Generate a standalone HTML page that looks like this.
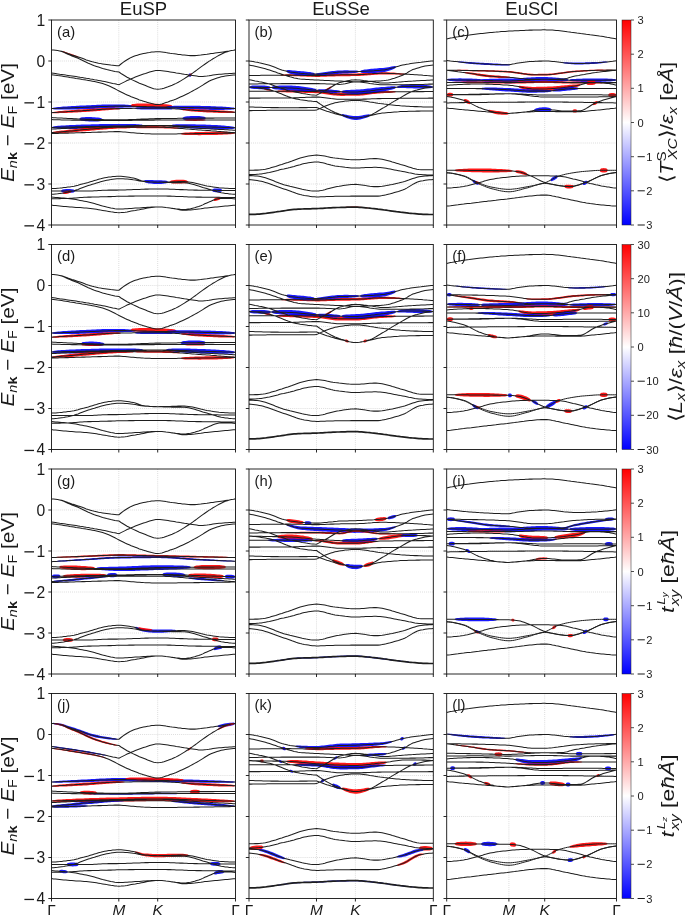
<!DOCTYPE html>
<html><head><meta charset="utf-8"><style>
html,body{margin:0;padding:0;background:#fff;}
svg{display:block;font-family:"Liberation Sans",sans-serif;will-change:transform;}
text{fill:#1a1a1a;}
</style></head><body>
<svg width="685" height="916" viewBox="0 0 685 916">
<defs>
<linearGradient id="cb" x1="0" y1="0" x2="0" y2="1"><stop offset="0" stop-color="#ff0000"/><stop offset="0.5" stop-color="#ffffff"/><stop offset="1" stop-color="#0000ff"/></linearGradient>
<filter id="bl" x="-5%" y="-50%" width="110%" height="200%"><feGaussianBlur stdDeviation="0.55"/></filter>
<clipPath id="cp00"><rect x="51.5" y="20" width="184" height="205"/></clipPath>
<clipPath id="cp01"><rect x="51.5" y="244.5" width="184" height="205"/></clipPath>
<clipPath id="cp02"><rect x="51.5" y="469" width="184" height="205"/></clipPath>
<clipPath id="cp03"><rect x="51.5" y="693.5" width="184" height="205"/></clipPath>
<clipPath id="cp10"><rect x="249" y="20" width="184.3" height="205"/></clipPath>
<clipPath id="cp11"><rect x="249" y="244.5" width="184.3" height="205"/></clipPath>
<clipPath id="cp12"><rect x="249" y="469" width="184.3" height="205"/></clipPath>
<clipPath id="cp13"><rect x="249" y="693.5" width="184.3" height="205"/></clipPath>
<clipPath id="cp20"><rect x="446.7" y="20" width="169.8" height="205"/></clipPath>
<clipPath id="cp21"><rect x="446.7" y="244.5" width="169.8" height="205"/></clipPath>
<clipPath id="cp22"><rect x="446.7" y="469" width="169.8" height="205"/></clipPath>
<clipPath id="cp23"><rect x="446.7" y="693.5" width="169.8" height="205"/></clipPath>
<g id="bands0"><path d="M51.5 49.9 L53.5 50 L55.6 50.2 L57.6 50.5 L59.7 50.9 L61.7 51.3 L63.8 52 L65.8 52.7 L67.9 53.5 L69.9 54.2 L71.9 54.9 L74 55.5 L76 56.2 L78.1 56.9 L80.1 57.6 L82.2 58.3 L84.2 59.1 L86.3 59.9 L88.3 60.6 L90.3 61.2 L92.4 61.8 L94.4 62.3 L96.5 62.7 L98.5 63.2 L100.6 63.6 L102.6 63.9 L104.7 64.2 L106.7 64.5 L108.7 64.8 L110.8 65.1 L112.8 65.3 L114.9 65.5 L116.9 65.7 L119 65.7 L121 64 L123.1 62.4 L125.1 61 L127.1 59.7 L129.2 58.5 L131.2 57.4 L133.3 56.6 L135.3 55.8 L137.4 55.2 L139.4 54.6 L141.5 54.1 L143.5 53.6 L145.5 53.2 L147.6 52.8 L149.6 52.5 L151.7 52.1 L153.7 51.9 L155.8 51.7 L157.8 51.7 L159.9 51.7 L161.9 51.9 L163.9 52.2 L166 52.6 L168 52.9 L170.1 53.3 L172.1 53.6 L174.2 53.8 L176.2 54.1 L178.3 54.4 L180.3 54.6 L182.3 54.9 L184.4 55.1 L186.4 55.3 L188.5 55.5 L190.5 55.6 L192.6 55.6 L194.6 55.6 L196.7 55.5 L198.7 55.3 L200.7 55.1 L202.8 54.8 L204.8 54.5 L206.9 54.3 L208.9 53.9 L211 53.6 L213 53.4 L215.1 53.1 L217.1 52.8 L219.1 52.5 L221.2 52.2 L223.2 51.9 L225.3 51.6 L227.3 51.3 L229.4 51 L231.4 50.6 L233.5 50.3 L235.5 49.9 M51.5 49.9 L53.5 50 L55.6 50.2 L57.6 50.6 L59.7 51 L61.7 51.4 L63.8 52.2 L65.8 53.2 L67.9 54.2 L69.9 55.1 L71.9 55.9 L74 56.7 L76 57.5 L78.1 58.3 L80.1 59.2 L82.2 60.2 L84.2 61.2 L86.3 62.2 L88.3 63.2 L90.3 64.1 L92.4 64.9 L94.4 65.7 L96.5 66.4 L98.5 67.1 L100.6 67.8 L102.6 68.4 L104.7 68.9 L106.7 69.5 L108.7 70 L110.8 70.5 L112.8 70.9 L114.9 71.4 L116.9 71.7 L119 72.1 L121 73.5 L123.1 74.8 L125.1 76 L127.1 77.2 L129.2 78.3 L131.2 79.4 L133.3 80.4 L135.3 81.3 L137.4 82.3 L139.4 83.2 L141.5 84 L143.5 84.8 L145.5 85.6 L147.6 86.5 L149.6 87.3 L151.7 88.1 L153.7 88.7 L155.8 89.1 L157.8 89.3 L159.9 89.1 L161.9 88.8 L163.9 88.2 L166 87.5 L168 86.8 L170.1 86 L172.1 85.2 L174.2 84.3 L176.2 83.4 L178.3 82.3 L180.3 81.1 L182.3 79.9 L184.4 78.6 L186.4 77.3 L188.5 76 L190.5 74.7 L192.6 73.2 L194.6 71.7 L196.7 70.2 L198.7 68.6 L200.7 67.1 L202.8 65.6 L204.8 64.2 L206.9 62.8 L208.9 61.4 L211 60.1 L213 58.8 L215.1 57.6 L217.1 56.4 L219.1 55.3 L221.2 54.2 L223.2 53.2 L225.3 52.3 L227.3 51.7 L229.4 51.1 L231.4 50.6 L233.5 50.2 L235.5 49.9 M51.5 73 L53.5 73.3 L55.6 73.6 L57.6 73.9 L59.7 74.2 L61.7 74.4 L63.8 74.7 L65.8 75.1 L67.9 75.4 L69.9 75.7 L71.9 76 L74 76.3 L76 76.6 L78.1 76.9 L80.1 77.3 L82.2 77.6 L84.2 77.9 L86.3 78.3 L88.3 78.6 L90.3 79 L92.4 79.3 L94.4 79.7 L96.5 80 L98.5 80.4 L100.6 80.8 L102.6 81.2 L104.7 81.6 L106.7 82 L108.7 82.5 L110.8 82.9 L112.8 83.4 L114.9 83.8 L116.9 84.3 L119 84.7 L121 83.6 L123.1 82.6 L125.1 81.6 L127.1 80.6 L129.2 79.7 L131.2 78.8 L133.3 77.9 L135.3 77.1 L137.4 76.3 L139.4 75.5 L141.5 74.8 L143.5 74.1 L145.5 73.5 L147.6 72.8 L149.6 72.1 L151.7 71.4 L153.7 70.9 L155.8 70.6 L157.8 70.5 L159.9 70.5 L161.9 70.7 L163.9 71 L166 71.3 L168 71.6 L170.1 71.9 L172.1 72.2 L174.2 72.5 L176.2 72.9 L178.3 73.2 L180.3 73.6 L182.3 73.9 L184.4 74.3 L186.4 74.6 L188.5 74.9 L190.5 75.2 L192.6 75.5 L194.6 75.8 L196.7 76.1 L198.7 76.4 L200.7 76.5 L202.8 76.5 L204.8 76.3 L206.9 76.1 L208.9 75.8 L211 75.4 L213 75.1 L215.1 74.8 L217.1 74.5 L219.1 74.3 L221.2 74.2 L223.2 74 L225.3 73.8 L227.3 73.7 L229.4 73.5 L231.4 73.4 L233.5 73.3 L235.5 73.2 M51.5 74.8 L53.5 75 L55.6 75.3 L57.6 75.6 L59.7 75.8 L61.7 76.1 L63.8 76.4 L65.8 76.7 L67.9 77 L69.9 77.4 L71.9 77.7 L74 78 L76 78.4 L78.1 78.7 L80.1 79 L82.2 79.4 L84.2 79.7 L86.3 80.1 L88.3 80.4 L90.3 80.8 L92.4 81.2 L94.4 81.6 L96.5 82 L98.5 82.5 L100.6 83 L102.6 83.5 L104.7 84.2 L106.7 84.9 L108.7 85.8 L110.8 86.7 L112.8 87.7 L114.9 88.8 L116.9 89.9 L119 91 L121 92 L123.1 93 L125.1 94 L127.1 94.9 L129.2 95.8 L131.2 96.7 L133.3 97.5 L135.3 98.3 L137.4 99.1 L139.4 99.9 L141.5 100.6 L143.5 101.2 L145.5 101.8 L147.6 102.4 L149.6 103 L151.7 103.6 L153.7 104.1 L155.8 104.4 L157.8 104.5 L159.9 104.3 L161.9 103.9 L163.9 103.3 L166 102.6 L168 101.9 L170.1 101.1 L172.1 100.4 L174.2 99.7 L176.2 98.9 L178.3 98 L180.3 97.1 L182.3 96.2 L184.4 95.2 L186.4 94.2 L188.5 93.2 L190.5 92.1 L192.6 91 L194.6 89.9 L196.7 88.8 L198.7 87.6 L200.7 86.4 L202.8 85.1 L204.8 83.8 L206.9 82.5 L208.9 81.3 L211 80.3 L213 79.5 L215.1 78.7 L217.1 78 L219.1 77.4 L221.2 76.8 L223.2 76.4 L225.3 76 L227.3 75.7 L229.4 75.4 L231.4 75.2 L233.5 75 L235.5 74.9 M51.5 108.6 L53.5 108.5 L55.6 108.4 L57.6 108.3 L59.7 108.3 L61.7 108.2 L63.8 108.1 L65.8 108 L67.9 107.9 L69.9 107.9 L71.9 107.8 L74 107.7 L76 107.6 L78.1 107.6 L80.1 107.5 L82.2 107.4 L84.2 107.3 L86.3 107.3 L88.3 107.2 L90.3 107.1 L92.4 107 L94.4 106.9 L96.5 106.8 L98.5 106.7 L100.6 106.6 L102.6 106.5 L104.7 106.4 L106.7 106.4 L108.7 106.3 L110.8 106.2 L112.8 106.2 L114.9 106.1 L116.9 106.1 L119 106.1 L121 106.1 L123.1 106.1 L125.1 106.1 L127.1 106.2 L129.2 106.2 L131.2 106.2 L133.3 106.3 L135.3 106.3 L137.4 106.4 L139.4 106.4 L141.5 106.5 L143.5 106.6 L145.5 106.6 L147.6 106.7 L149.6 106.7 L151.7 106.8 L153.7 106.8 L155.8 106.9 L157.8 106.9 L159.9 107 L161.9 107 L163.9 107 L166 107.1 L168 107.1 L170.1 107.2 L172.1 107.2 L174.2 107.2 L176.2 107.3 L178.3 107.3 L180.3 107.4 L182.3 107.4 L184.4 107.4 L186.4 107.5 L188.5 107.5 L190.5 107.6 L192.6 107.6 L194.6 107.7 L196.7 107.7 L198.7 107.7 L200.7 107.8 L202.8 107.8 L204.8 107.9 L206.9 107.9 L208.9 108 L211 108 L213 108 L215.1 108.1 L217.1 108.1 L219.1 108.2 L221.2 108.2 L223.2 108.3 L225.3 108.3 L227.3 108.4 L229.4 108.4 L231.4 108.5 L233.5 108.5 L235.5 108.6 M51.5 112.7 L53.5 112.5 L55.6 112.4 L57.6 112.3 L59.7 112.1 L61.7 112 L63.8 111.9 L65.8 111.8 L67.9 111.6 L69.9 111.5 L71.9 111.4 L74 111.3 L76 111.1 L78.1 111 L80.1 110.9 L82.2 110.8 L84.2 110.6 L86.3 110.5 L88.3 110.4 L90.3 110.2 L92.4 110.1 L94.4 109.9 L96.5 109.8 L98.5 109.6 L100.6 109.5 L102.6 109.3 L104.7 109.2 L106.7 109.1 L108.7 109 L110.8 108.8 L112.8 108.7 L114.9 108.7 L116.9 108.6 L119 108.6 L121 108.5 L123.1 108.5 L125.1 108.5 L127.1 108.4 L129.2 108.4 L131.2 108.4 L133.3 108.3 L135.3 108.3 L137.4 108.3 L139.4 108.3 L141.5 108.2 L143.5 108.2 L145.5 108.2 L147.6 108.2 L149.6 108.2 L151.7 108.2 L153.7 108.2 L155.8 108.2 L157.8 108.2 L159.9 108.2 L161.9 108.2 L163.9 108.3 L166 108.3 L168 108.4 L170.1 108.6 L172.1 108.7 L174.2 108.8 L176.2 109 L178.3 109.1 L180.3 109.3 L182.3 109.4 L184.4 109.6 L186.4 109.8 L188.5 109.9 L190.5 110.1 L192.6 110.2 L194.6 110.4 L196.7 110.5 L198.7 110.6 L200.7 110.7 L202.8 110.8 L204.8 110.9 L206.9 111 L208.9 111.1 L211 111.2 L213 111.3 L215.1 111.4 L217.1 111.5 L219.1 111.6 L221.2 111.7 L223.2 111.8 L225.3 111.8 L227.3 111.9 L229.4 112 L231.4 112.1 L233.5 112.2 L235.5 112.2 M51.5 117.6 L53.5 117.7 L55.6 117.8 L57.6 117.9 L59.7 118 L61.7 118.1 L63.8 118.2 L65.8 118.3 L67.9 118.4 L69.9 118.5 L71.9 118.6 L74 118.7 L76 118.8 L78.1 118.9 L80.1 119 L82.2 119 L84.2 119.1 L86.3 119.2 L88.3 119.2 L90.3 119.3 L92.4 119.3 L94.4 119.4 L96.5 119.4 L98.5 119.5 L100.6 119.6 L102.6 119.6 L104.7 119.7 L106.7 119.7 L108.7 119.7 L110.8 119.8 L112.8 119.8 L114.9 119.8 L116.9 119.8 L119 119.8 L121 119.8 L123.1 119.8 L125.1 119.8 L127.1 119.7 L129.2 119.6 L131.2 119.6 L133.3 119.5 L135.3 119.4 L137.4 119.3 L139.4 119.2 L141.5 119.1 L143.5 119.1 L145.5 119 L147.6 118.9 L149.6 118.8 L151.7 118.7 L153.7 118.7 L155.8 118.6 L157.8 118.6 L159.9 118.6 L161.9 118.5 L163.9 118.5 L166 118.5 L168 118.5 L170.1 118.4 L172.1 118.4 L174.2 118.4 L176.2 118.4 L178.3 118.3 L180.3 118.3 L182.3 118.3 L184.4 118.3 L186.4 118.3 L188.5 118.2 L190.5 118.2 L192.6 118.2 L194.6 118.2 L196.7 118.2 L198.7 118.1 L200.7 118.1 L202.8 118.1 L204.8 118.1 L206.9 118.1 L208.9 118.1 L211 118.1 L213 118.1 L215.1 118 L217.1 118 L219.1 118 L221.2 118 L223.2 118 L225.3 118 L227.3 118 L229.4 118 L231.4 118 L233.5 118 L235.5 118 M51.5 119.6 L53.5 119.7 L55.6 119.7 L57.6 119.8 L59.7 119.8 L61.7 119.9 L63.8 119.9 L65.8 120 L67.9 120 L69.9 120 L71.9 120.1 L74 120.1 L76 120.1 L78.1 120.2 L80.1 120.2 L82.2 120.2 L84.2 120.3 L86.3 120.3 L88.3 120.3 L90.3 120.3 L92.4 120.3 L94.4 120.4 L96.5 120.4 L98.5 120.4 L100.6 120.4 L102.6 120.4 L104.7 120.4 L106.7 120.4 L108.7 120.4 L110.8 120.4 L112.8 120.4 L114.9 120.4 L116.9 120.4 L119 120.4 L121 120.4 L123.1 120.4 L125.1 120.4 L127.1 120.4 L129.2 120.4 L131.2 120.4 L133.3 120.3 L135.3 120.3 L137.4 120.3 L139.4 120.2 L141.5 120.2 L143.5 120.2 L145.5 120.1 L147.6 120.1 L149.6 120.1 L151.7 120.1 L153.7 120.1 L155.8 120 L157.8 120 L159.9 120 L161.9 120 L163.9 120 L166 120 L168 120 L170.1 120 L172.1 120 L174.2 120 L176.2 120 L178.3 120 L180.3 120 L182.3 120 L184.4 120 L186.4 120 L188.5 120 L190.5 120 L192.6 120 L194.6 120 L196.7 120 L198.7 120 L200.7 120 L202.8 120 L204.8 120 L206.9 120 L208.9 120 L211 120 L213 120 L215.1 120 L217.1 120 L219.1 120 L221.2 120 L223.2 120 L225.3 120 L227.3 120 L229.4 120 L231.4 120 L233.5 120 L235.5 120 M51.5 127.4 L53.5 127.4 L55.6 127.3 L57.6 127.3 L59.7 127.2 L61.7 127.2 L63.8 127.1 L65.8 127.1 L67.9 127 L69.9 127 L71.9 126.9 L74 126.9 L76 126.8 L78.1 126.8 L80.1 126.8 L82.2 126.7 L84.2 126.7 L86.3 126.6 L88.3 126.6 L90.3 126.5 L92.4 126.5 L94.4 126.5 L96.5 126.4 L98.5 126.4 L100.6 126.3 L102.6 126.3 L104.7 126.2 L106.7 126.2 L108.7 126.2 L110.8 126.1 L112.8 126.1 L114.9 126.1 L116.9 126 L119 126 L121 125.9 L123.1 125.9 L125.1 125.9 L127.1 125.8 L129.2 125.8 L131.2 125.7 L133.3 125.7 L135.3 125.6 L137.4 125.6 L139.4 125.6 L141.5 125.5 L143.5 125.5 L145.5 125.5 L147.6 125.4 L149.6 125.4 L151.7 125.4 L153.7 125.4 L155.8 125.4 L157.8 125.4 L159.9 125.4 L161.9 125.4 L163.9 125.4 L166 125.5 L168 125.5 L170.1 125.6 L172.1 125.6 L174.2 125.7 L176.2 125.8 L178.3 125.8 L180.3 125.9 L182.3 126 L184.4 126.1 L186.4 126.1 L188.5 126.2 L190.5 126.3 L192.6 126.4 L194.6 126.5 L196.7 126.5 L198.7 126.6 L200.7 126.7 L202.8 126.7 L204.8 126.8 L206.9 126.9 L208.9 126.9 L211 127 L213 127.1 L215.1 127.1 L217.1 127.2 L219.1 127.3 L221.2 127.3 L223.2 127.4 L225.3 127.5 L227.3 127.5 L229.4 127.6 L231.4 127.7 L233.5 127.8 L235.5 127.8 M51.5 132.5 L53.5 132.4 L55.6 132.3 L57.6 132.1 L59.7 132 L61.7 131.8 L63.8 131.6 L65.8 131.5 L67.9 131.3 L69.9 131.1 L71.9 130.9 L74 130.7 L76 130.5 L78.1 130.3 L80.1 130.1 L82.2 129.8 L84.2 129.6 L86.3 129.4 L88.3 129.3 L90.3 129.1 L92.4 128.9 L94.4 128.7 L96.5 128.5 L98.5 128.4 L100.6 128.2 L102.6 128 L104.7 127.8 L106.7 127.7 L108.7 127.6 L110.8 127.4 L112.8 127.3 L114.9 127.3 L116.9 127.2 L119 127.2 L121 127.2 L123.1 127.2 L125.1 127.2 L127.1 127.2 L129.2 127.2 L131.2 127.2 L133.3 127.2 L135.3 127.2 L137.4 127.2 L139.4 127.2 L141.5 127.2 L143.5 127.2 L145.5 127.2 L147.6 127.2 L149.6 127.2 L151.7 127.2 L153.7 127.2 L155.8 127.2 L157.8 127.2 L159.9 127.2 L161.9 127.3 L163.9 127.3 L166 127.4 L168 127.5 L170.1 127.6 L172.1 127.7 L174.2 127.9 L176.2 128 L178.3 128.2 L180.3 128.4 L182.3 128.5 L184.4 128.7 L186.4 128.9 L188.5 129.1 L190.5 129.2 L192.6 129.4 L194.6 129.6 L196.7 129.7 L198.7 129.9 L200.7 130 L202.8 130.2 L204.8 130.3 L206.9 130.5 L208.9 130.6 L211 130.8 L213 130.9 L215.1 131.1 L217.1 131.3 L219.1 131.4 L221.2 131.6 L223.2 131.7 L225.3 131.9 L227.3 132.1 L229.4 132.2 L231.4 132.4 L233.5 132.6 L235.5 132.8 M51.5 129.1 L53.5 129 L55.6 128.9 L57.6 128.8 L59.7 128.7 L61.7 128.6 L63.8 128.5 L65.8 128.4 L67.9 128.3 L69.9 128.2 L71.9 128.1 L74 128 L76 127.9 L78.1 127.8 L80.1 127.7 L82.2 127.7 L84.2 127.6 L86.3 127.5 L88.3 127.4 L90.3 127.3 L92.4 127.3 L94.4 127.2 L96.5 127.1 L98.5 127 L100.6 127 L102.6 126.9 L104.7 126.8 L106.7 126.7 L108.7 126.7 L110.8 126.6 L112.8 126.5 L114.9 126.5 L116.9 126.4 L119 126.4 L121 126.3 L123.1 126.3 L125.1 126.3 L127.1 126.2 L129.2 126.2 L131.2 126.1 L133.3 126.1 L135.3 126 L137.4 126 L139.4 126 L141.5 125.9 L143.5 125.9 L145.5 125.9 L147.6 125.8 L149.6 125.8 L151.7 125.8 L153.7 125.8 L155.8 125.8 L157.8 125.8 L159.9 125.8 L161.9 125.8 L163.9 125.9 L166 126 L168 126.1 L170.1 126.2 L172.1 126.3 L174.2 126.4 L176.2 126.6 L178.3 126.7 L180.3 126.9 L182.3 127 L184.4 127.2 L186.4 127.4 L188.5 127.5 L190.5 127.7 L192.6 127.8 L194.6 128 L196.7 128.1 L198.7 128.2 L200.7 128.4 L202.8 128.5 L204.8 128.6 L206.9 128.7 L208.9 128.8 L211 128.9 L213 129.1 L215.1 129.2 L217.1 129.3 L219.1 129.4 L221.2 129.5 L223.2 129.6 L225.3 129.7 L227.3 129.8 L229.4 130 L231.4 130.1 L233.5 130.2 L235.5 130.3 M51.5 133.6 L53.5 133.5 L55.6 133.4 L57.6 133.4 L59.7 133.3 L61.7 133.3 L63.8 133.2 L65.8 133.1 L67.9 133.1 L69.9 133 L71.9 132.9 L74 132.9 L76 132.8 L78.1 132.8 L80.1 132.7 L82.2 132.6 L84.2 132.6 L86.3 132.5 L88.3 132.4 L90.3 132.4 L92.4 132.3 L94.4 132.3 L96.5 132.2 L98.5 132.1 L100.6 132.1 L102.6 132 L104.7 132 L106.7 131.9 L108.7 131.8 L110.8 131.8 L112.8 131.7 L114.9 131.6 L116.9 131.6 L119 131.5 L121 131.7 L123.1 131.9 L125.1 132.1 L127.1 132.3 L129.2 132.5 L131.2 132.7 L133.3 132.8 L135.3 133 L137.4 133.2 L139.4 133.3 L141.5 133.4 L143.5 133.6 L145.5 133.7 L147.6 133.8 L149.6 133.8 L151.7 133.9 L153.7 133.9 L155.8 134 L157.8 134 L159.9 134 L161.9 134 L163.9 134 L166 134 L168 133.9 L170.1 133.9 L172.1 133.9 L174.2 133.9 L176.2 133.9 L178.3 133.8 L180.3 133.8 L182.3 133.8 L184.4 133.8 L186.4 133.7 L188.5 133.7 L190.5 133.7 L192.6 133.7 L194.6 133.6 L196.7 133.6 L198.7 133.6 L200.7 133.5 L202.8 133.5 L204.8 133.5 L206.9 133.5 L208.9 133.4 L211 133.4 L213 133.4 L215.1 133.3 L217.1 133.3 L219.1 133.3 L221.2 133.2 L223.2 133.2 L225.3 133.2 L227.3 133.1 L229.4 133.1 L231.4 133 L233.5 133 L235.5 133 M51.5 188.5 L53.5 188.5 L55.6 188.4 L57.6 188.2 L59.7 188.1 L61.7 187.9 L63.8 187.6 L65.8 187.4 L67.9 187.1 L69.9 186.9 L71.9 186.6 L74 186.2 L76 185.7 L78.1 185.2 L80.1 184.6 L82.2 184 L84.2 183.5 L86.3 182.9 L88.3 182.4 L90.3 181.8 L92.4 181.2 L94.4 180.6 L96.5 180 L98.5 179.3 L100.6 178.8 L102.6 178.2 L104.7 177.8 L106.7 177.4 L108.7 177.1 L110.8 176.9 L112.8 176.6 L114.9 176.4 L116.9 176.3 L119 176.2 L121 176.3 L123.1 176.4 L125.1 176.7 L127.1 177 L129.2 177.3 L131.2 177.7 L133.3 178.1 L135.3 178.5 L137.4 179.2 L139.4 180 L141.5 180.7 L143.5 181.1 L145.5 181.4 L147.6 181.6 L149.6 181.8 L151.7 181.9 L153.7 182.1 L155.8 182.1 L157.8 182.2 L159.9 182.1 L161.9 182.1 L163.9 182.1 L166 182 L168 181.9 L170.1 181.9 L172.1 181.8 L174.2 181.7 L176.2 181.7 L178.3 181.6 L180.3 181.6 L182.3 181.5 L184.4 181.6 L186.4 181.7 L188.5 181.9 L190.5 182.2 L192.6 182.6 L194.6 183.1 L196.7 183.6 L198.7 184.1 L200.7 184.6 L202.8 185 L204.8 185.5 L206.9 185.9 L208.9 186.2 L211 186.6 L213 186.9 L215.1 187.2 L217.1 187.5 L219.1 187.8 L221.2 188 L223.2 188.1 L225.3 188.2 L227.3 188.3 L229.4 188.4 L231.4 188.5 L233.5 188.5 L235.5 188.5 M51.5 194.2 L53.5 194.2 L55.6 194 L57.6 193.8 L59.7 193.5 L61.7 193.2 L63.8 192.9 L65.8 192.5 L67.9 192.2 L69.9 191.8 L71.9 191.3 L74 190.8 L76 190.1 L78.1 189.4 L80.1 188.6 L82.2 187.8 L84.2 187 L86.3 186.3 L88.3 185.6 L90.3 185 L92.4 184.3 L94.4 183.7 L96.5 183 L98.5 182.4 L100.6 181.8 L102.6 181.2 L104.7 180.7 L106.7 180.3 L108.7 179.9 L110.8 179.6 L112.8 179.2 L114.9 178.9 L116.9 178.7 L119 178.7 L121 178.7 L123.1 178.8 L125.1 178.9 L127.1 179.1 L129.2 179.3 L131.2 179.5 L133.3 179.8 L135.3 180 L137.4 180.4 L139.4 180.9 L141.5 181.3 L143.5 181.5 L145.5 181.7 L147.6 181.8 L149.6 181.9 L151.7 182 L153.7 182 L155.8 182.1 L157.8 182.2 L159.9 182.2 L161.9 182.3 L163.9 182.4 L166 182.4 L168 182.5 L170.1 182.5 L172.1 182.6 L174.2 182.6 L176.2 182.6 L178.3 182.7 L180.3 182.7 L182.3 182.7 L184.4 182.8 L186.4 183 L188.5 183.3 L190.5 183.7 L192.6 184.2 L194.6 184.8 L196.7 185.4 L198.7 186.1 L200.7 186.7 L202.8 187.4 L204.8 188 L206.9 188.6 L208.9 189.2 L211 189.8 L213 190.5 L215.1 191.1 L217.1 191.8 L219.1 192.3 L221.2 192.8 L223.2 193.1 L225.3 193.4 L227.3 193.6 L229.4 193.9 L231.4 194.1 L233.5 194.2 L235.5 194.2 M51.5 191 L53.5 191 L55.6 191 L57.6 191 L59.7 191 L61.7 191 L63.8 191 L65.8 191 L67.9 191 L69.9 191 L71.9 191 L74 191 L76 191 L78.1 191 L80.1 191 L82.2 191 L84.2 191 L86.3 191 L88.3 191 L90.3 190.9 L92.4 190.9 L94.4 190.8 L96.5 190.7 L98.5 190.5 L100.6 190.4 L102.6 190.3 L104.7 190.2 L106.7 190.2 L108.7 190.1 L110.8 190.1 L112.8 190.1 L114.9 190.1 L116.9 190.1 L119 190 L121 190 L123.1 189.9 L125.1 189.9 L127.1 189.8 L129.2 189.8 L131.2 189.7 L133.3 189.6 L135.3 189.5 L137.4 189.4 L139.4 189.4 L141.5 189.3 L143.5 189.2 L145.5 189.1 L147.6 189.1 L149.6 189 L151.7 189 L153.7 188.9 L155.8 188.9 L157.8 188.9 L159.9 188.9 L161.9 189 L163.9 189 L166 189 L168 189.1 L170.1 189.2 L172.1 189.2 L174.2 189.3 L176.2 189.4 L178.3 189.5 L180.3 189.6 L182.3 189.6 L184.4 189.7 L186.4 189.8 L188.5 189.9 L190.5 190 L192.6 190 L194.6 190.1 L196.7 190.1 L198.7 190.2 L200.7 190.2 L202.8 190.2 L204.8 190.2 L206.9 190.2 L208.9 190.3 L211 190.3 L213 190.3 L215.1 190.3 L217.1 190.3 L219.1 190.4 L221.2 190.4 L223.2 190.4 L225.3 190.4 L227.3 190.4 L229.4 190.4 L231.4 190.4 L233.5 190.4 L235.5 190.4 M51.5 198.8 L53.5 198.8 L55.6 198.7 L57.6 198.7 L59.7 198.7 L61.7 198.6 L63.8 198.5 L65.8 198.5 L67.9 198.4 L69.9 198.3 L71.9 198.3 L74 198.1 L76 198 L78.1 197.8 L80.1 197.6 L82.2 197.5 L84.2 197.3 L86.3 197.2 L88.3 197.1 L90.3 197.1 L92.4 197 L94.4 197 L96.5 196.9 L98.5 196.9 L100.6 196.8 L102.6 196.8 L104.7 196.8 L106.7 196.7 L108.7 196.6 L110.8 196.6 L112.8 196.5 L114.9 196.4 L116.9 196.3 L119 196.3 L121 196.3 L123.1 196.2 L125.1 196.2 L127.1 196.2 L129.2 196.1 L131.2 196.1 L133.3 196.1 L135.3 196 L137.4 196 L139.4 196 L141.5 196 L143.5 196 L145.5 195.9 L147.6 195.9 L149.6 195.9 L151.7 195.9 L153.7 195.9 L155.8 195.9 L157.8 195.9 L159.9 195.9 L161.9 195.9 L163.9 196 L166 196 L168 196.1 L170.1 196.1 L172.1 196.2 L174.2 196.3 L176.2 196.4 L178.3 196.4 L180.3 196.5 L182.3 196.6 L184.4 196.7 L186.4 196.8 L188.5 196.9 L190.5 196.9 L192.6 197 L194.6 197 L196.7 197.1 L198.7 197.1 L200.7 197.1 L202.8 197.2 L204.8 197.2 L206.9 197.2 L208.9 197.2 L211 197.3 L213 197.3 L215.1 197.3 L217.1 197.3 L219.1 197.3 L221.2 197.4 L223.2 197.4 L225.3 197.4 L227.3 197.4 L229.4 197.4 L231.4 197.4 L233.5 197.4 L235.5 197.4 M51.5 197.1 L53.5 197.2 L55.6 197.4 L57.6 197.5 L59.7 197.7 L61.7 197.9 L63.8 198.1 L65.8 198.3 L67.9 198.5 L69.9 198.8 L71.9 199 L74 199.3 L76 199.6 L78.1 200 L80.1 200.4 L82.2 200.8 L84.2 201.2 L86.3 201.6 L88.3 202 L90.3 202.5 L92.4 203 L94.4 203.6 L96.5 204.2 L98.5 204.8 L100.6 205.4 L102.6 206 L104.7 206.5 L106.7 207 L108.7 207.4 L110.8 207.9 L112.8 208.3 L114.9 208.7 L116.9 208.9 L119 209 L121 209 L123.1 208.9 L125.1 208.8 L127.1 208.7 L129.2 208.5 L131.2 208.4 L133.3 208.2 L135.3 208.1 L137.4 208 L139.4 207.9 L141.5 207.7 L143.5 207.6 L145.5 207.5 L147.6 207.3 L149.6 207.2 L151.7 207.1 L153.7 207 L155.8 207 L157.8 207 L159.9 207 L161.9 207.1 L163.9 207.3 L166 207.5 L168 207.8 L170.1 208.1 L172.1 208.4 L174.2 208.6 L176.2 208.9 L178.3 209.1 L180.3 209.3 L182.3 209.4 L184.4 209.4 L186.4 209.3 L188.5 209 L190.5 208.7 L192.6 208.2 L194.6 207.7 L196.7 207.1 L198.7 206.5 L200.7 205.8 L202.8 204.9 L204.8 203.8 L206.9 202.9 L208.9 202.1 L211 201.2 L213 200.3 L215.1 199.5 L217.1 198.9 L219.1 198.5 L221.2 198.4 L223.2 198.4 L225.3 198.4 L227.3 198.4 L229.4 198.5 L231.4 198.6 L233.5 198.8 L235.5 199.1 M51.5 205.1 L53.5 205.4 L55.6 205.6 L57.6 205.8 L59.7 206 L61.7 206.2 L63.8 206.4 L65.8 206.6 L67.9 206.8 L69.9 207 L71.9 207.1 L74 207.2 L76 207.4 L78.1 207.5 L80.1 207.6 L82.2 207.7 L84.2 207.9 L86.3 208 L88.3 208.2 L90.3 208.4 L92.4 208.7 L94.4 209 L96.5 209.3 L98.5 209.7 L100.6 210.1 L102.6 210.4 L104.7 210.7 L106.7 211.1 L108.7 211.4 L110.8 211.8 L112.8 212.1 L114.9 212.4 L116.9 212.6 L119 212.7 L121 212.6 L123.1 212.4 L125.1 212.2 L127.1 211.9 L129.2 211.5 L131.2 211.1 L133.3 210.8 L135.3 210.5 L137.4 210.1 L139.4 209.8 L141.5 209.3 L143.5 208.9 L145.5 208.5 L147.6 208.1 L149.6 207.7 L151.7 207.4 L153.7 207.2 L155.8 207 L157.8 207 L159.9 207 L161.9 207.1 L163.9 207.3 L166 207.6 L168 207.8 L170.1 208.1 L172.1 208.3 L174.2 208.7 L176.2 209.1 L178.3 209.6 L180.3 209.9 L182.3 210.2 L184.4 210.2 L186.4 210.2 L188.5 210.1 L190.5 209.9 L192.6 209.7 L194.6 209.5 L196.7 209.2 L198.7 208.9 L200.7 208.7 L202.8 208.4 L204.8 208.1 L206.9 207.9 L208.9 207.7 L211 207.5 L213 207.3 L215.1 207.1 L217.1 206.9 L219.1 206.7 L221.2 206.5 L223.2 206.3 L225.3 206.1 L227.3 205.9 L229.4 205.7 L231.4 205.5 L233.5 205.3 L235.5 205.2" stroke="#1e1e1e" stroke-width="1.05" fill="none"/>
</g>
<g id="bands1"><path d="M249 61 L251 61.3 L253.1 61.6 L255.1 62 L257.2 62.3 L259.2 62.8 L261.3 63.2 L263.3 63.7 L265.4 64.2 L267.4 64.7 L269.5 65.3 L271.5 66 L273.6 66.7 L275.6 67.6 L277.7 68.4 L279.7 69.2 L281.8 69.9 L283.8 70.5 L285.9 71 L287.9 71.5 L290 71.9 L292 72.2 L294.1 72.5 L296.1 72.8 L298.1 73.1 L300.2 73.3 L302.2 73.4 L304.3 73.6 L306.3 73.7 L308.4 73.9 L310.4 74 L312.5 74 L314.5 74.1 L316.6 74.1 L318.6 74.1 L320.7 74 L322.7 73.8 L324.8 73.6 L326.8 73.4 L328.9 73.1 L330.9 72.9 L333 72.7 L335 72.4 L337.1 72.3 L339.1 72.1 L341.1 72 L343.2 72 L345.2 71.9 L347.3 71.9 L349.3 71.8 L351.4 71.8 L353.4 71.7 L355.5 71.7 L357.5 71.6 L359.6 71.5 L361.6 71.4 L363.7 71.3 L365.7 71.2 L367.8 71.1 L369.8 71 L371.9 70.9 L373.9 70.8 L376 70.6 L378 70.4 L380.1 70.3 L382.1 70.1 L384.2 69.9 L386.2 69.5 L388.2 69.1 L390.3 68.6 L392.3 68 L394.4 67.4 L396.4 66.8 L398.5 66.2 L400.5 65.6 L402.6 65.1 L404.6 64.7 L406.7 64.3 L408.7 64 L410.8 63.6 L412.8 63.3 L414.9 63 L416.9 62.7 L419 62.4 L421 62.2 L423.1 61.9 L425.1 61.7 L427.2 61.5 L429.2 61.3 L431.3 61.1 L433.3 61 M249 65 L251 65.4 L253.1 65.8 L255.1 66.3 L257.2 66.8 L259.2 67.3 L261.3 67.8 L263.3 68.3 L265.4 68.8 L267.4 69.4 L269.5 70 L271.5 70.7 L273.6 71.4 L275.6 72.1 L277.7 72.9 L279.7 73.6 L281.8 74.3 L283.8 75 L285.9 75.6 L287.9 76.2 L290 76.8 L292 77.3 L294.1 77.9 L296.1 78.3 L298.1 78.7 L300.2 79 L302.2 79.2 L304.3 79.3 L306.3 79.5 L308.4 79.6 L310.4 79.7 L312.5 79.8 L314.5 79.9 L316.6 80 L318.6 80.1 L320.7 80.2 L322.7 80.3 L324.8 80.4 L326.8 80.5 L328.9 80.6 L330.9 80.7 L333 80.8 L335 80.9 L337.1 81 L339.1 81 L341.1 81.1 L343.2 81.2 L345.2 81.4 L347.3 81.5 L349.3 81.6 L351.4 81.6 L353.4 81.7 L355.5 81.7 L357.5 81.7 L359.6 81.7 L361.6 81.6 L363.7 81.6 L365.7 81.5 L367.8 81.5 L369.8 81.4 L371.9 81.3 L373.9 81.2 L376 81.1 L378 81 L380.1 80.9 L382.1 80.7 L384.2 80.6 L386.2 80.3 L388.2 79.9 L390.3 79.4 L392.3 78.8 L394.4 78.2 L396.4 77.5 L398.5 76.8 L400.5 76 L402.6 75.3 L404.6 74.3 L406.7 73.1 L408.7 71.8 L410.8 70.6 L412.8 69.6 L414.9 68.9 L416.9 68.3 L419 67.7 L421 67.1 L423.1 66.6 L425.1 66.1 L427.2 65.7 L429.2 65.4 L431.3 65.2 L433.3 65.1 M249 75.6 L251 75.5 L253.1 75.5 L255.1 75.4 L257.2 75.4 L259.2 75.4 L261.3 75.3 L263.3 75.3 L265.4 75.3 L267.4 75.2 L269.5 75.2 L271.5 75.2 L273.6 75.2 L275.6 75.2 L277.7 75.2 L279.7 75.2 L281.8 75.2 L283.8 75.2 L285.9 75.1 L287.9 75.1 L290 75.1 L292 75.2 L294.1 75.2 L296.1 75.2 L298.1 75.2 L300.2 75.3 L302.2 75.3 L304.3 75.4 L306.3 75.4 L308.4 75.5 L310.4 75.5 L312.5 75.6 L314.5 75.6 L316.6 75.6 L318.6 75.6 L320.7 75.5 L322.7 75.5 L324.8 75.4 L326.8 75.3 L328.9 75.2 L330.9 75.1 L333 75.1 L335 75 L337.1 74.9 L339.1 74.9 L341.1 74.8 L343.2 74.8 L345.2 74.8 L347.3 74.8 L349.3 74.8 L351.4 74.8 L353.4 74.8 L355.5 74.7 L357.5 74.7 L359.6 74.6 L361.6 74.5 L363.7 74.4 L365.7 74.2 L367.8 74.1 L369.8 73.9 L371.9 73.8 L373.9 73.6 L376 73.5 L378 73.4 L380.1 73.3 L382.1 73.3 L384.2 73.3 L386.2 73.3 L388.2 73.4 L390.3 73.4 L392.3 73.5 L394.4 73.6 L396.4 73.7 L398.5 73.8 L400.5 73.9 L402.6 74 L404.6 74.1 L406.7 74.2 L408.7 74.3 L410.8 74.5 L412.8 74.6 L414.9 74.7 L416.9 74.8 L419 75 L421 75.1 L423.1 75.3 L425.1 75.4 L427.2 75.6 L429.2 75.7 L431.3 75.9 L433.3 76.1 M249 79.8 L251 80.1 L253.1 80.5 L255.1 80.9 L257.2 81.2 L259.2 81.7 L261.3 82.1 L263.3 82.6 L265.4 83.1 L267.4 83.6 L269.5 84.1 L271.5 84.7 L273.6 85.4 L275.6 86.2 L277.7 86.9 L279.7 87.7 L281.8 88.4 L283.8 89.1 L285.9 89.8 L287.9 90.4 L290 90.9 L292 91.3 L294.1 91.8 L296.1 92.2 L298.1 92.6 L300.2 93 L302.2 93.4 L304.3 93.7 L306.3 94.1 L308.4 94.4 L310.4 94.7 L312.5 94.9 L314.5 95.1 L316.6 95.2 L318.6 94.1 L320.7 93 L322.7 91.9 L324.8 90.8 L326.8 89.7 L328.9 88.5 L330.9 87.3 L333 86 L335 84.8 L337.1 83.7 L339.1 82.8 L341.1 82.2 L343.2 81.7 L345.2 81.2 L347.3 80.7 L349.3 80.4 L351.4 80.1 L353.4 79.9 L355.5 79.8 L357.5 79.9 L359.6 80 L361.6 80.2 L363.7 80.5 L365.7 80.7 L367.8 81 L369.8 81.2 L371.9 81.5 L373.9 81.9 L376 82.3 L378 82.6 L380.1 82.9 L382.1 83 L384.2 83 L386.2 83 L388.2 82.9 L390.3 82.7 L392.3 82.6 L394.4 82.4 L396.4 82.2 L398.5 82.1 L400.5 81.9 L402.6 81.7 L404.6 81.6 L406.7 81.4 L408.7 81.3 L410.8 81.2 L412.8 81.1 L414.9 80.9 L416.9 80.8 L419 80.7 L421 80.6 L423.1 80.5 L425.1 80.4 L427.2 80.3 L429.2 80.2 L431.3 80 L433.3 79.9 M249 84 L251 83.9 L253.1 83.9 L255.1 83.9 L257.2 83.9 L259.2 83.8 L261.3 83.8 L263.3 83.8 L265.4 83.8 L267.4 83.7 L269.5 83.7 L271.5 83.7 L273.6 83.7 L275.6 83.7 L277.7 83.7 L279.7 83.7 L281.8 83.6 L283.8 83.6 L285.9 83.6 L287.9 83.6 L290 83.6 L292 83.6 L294.1 83.6 L296.1 83.6 L298.1 83.6 L300.2 83.6 L302.2 83.6 L304.3 83.6 L306.3 83.6 L308.4 83.6 L310.4 83.6 L312.5 83.6 L314.5 83.6 L316.6 83.6 L318.6 83.6 L320.7 83.7 L322.7 83.8 L324.8 83.8 L326.8 83.9 L328.9 84 L330.9 84.1 L333 84.2 L335 84.3 L337.1 84.3 L339.1 84.4 L341.1 84.3 L343.2 84.1 L345.2 83.7 L347.3 83.2 L349.3 82.8 L351.4 82.3 L353.4 82 L355.5 81.9 L357.5 82 L359.6 82.1 L361.6 82.3 L363.7 82.5 L365.7 82.8 L367.8 83.1 L369.8 83.5 L371.9 83.8 L373.9 84.1 L376 84.3 L378 84.5 L380.1 84.7 L382.1 84.8 L384.2 84.8 L386.2 84.8 L388.2 84.8 L390.3 84.8 L392.3 84.8 L394.4 84.8 L396.4 84.8 L398.5 84.8 L400.5 84.7 L402.6 84.7 L404.6 84.7 L406.7 84.7 L408.7 84.7 L410.8 84.6 L412.8 84.6 L414.9 84.6 L416.9 84.5 L419 84.5 L421 84.4 L423.1 84.4 L425.1 84.3 L427.2 84.2 L429.2 84.1 L431.3 84.1 L433.3 84 M249 87.1 L251 87.1 L253.1 87.2 L255.1 87.2 L257.2 87.3 L259.2 87.3 L261.3 87.3 L263.3 87.4 L265.4 87.4 L267.4 87.4 L269.5 87.5 L271.5 87.5 L273.6 87.6 L275.6 87.6 L277.7 87.6 L279.7 87.7 L281.8 87.7 L283.8 87.8 L285.9 87.8 L287.9 87.9 L290 88 L292 88.1 L294.1 88.2 L296.1 88.3 L298.1 88.5 L300.2 88.7 L302.2 88.9 L304.3 89.1 L306.3 89.3 L308.4 89.5 L310.4 89.7 L312.5 89.9 L314.5 90 L316.6 90.2 L318.6 90.3 L320.7 90.5 L322.7 90.6 L324.8 90.8 L326.8 90.9 L328.9 91.1 L330.9 91.2 L333 91.3 L335 91.4 L337.1 91.5 L339.1 91.6 L341.1 91.7 L343.2 91.7 L345.2 91.8 L347.3 91.8 L349.3 91.9 L351.4 91.9 L353.4 91.9 L355.5 91.9 L357.5 91.9 L359.6 91.8 L361.6 91.7 L363.7 91.5 L365.7 91.3 L367.8 91.1 L369.8 90.9 L371.9 90.6 L373.9 90.4 L376 90.1 L378 89.8 L380.1 89.6 L382.1 89.3 L384.2 89.1 L386.2 88.8 L388.2 88.5 L390.3 88.2 L392.3 87.8 L394.4 87.5 L396.4 87.2 L398.5 86.9 L400.5 86.7 L402.6 86.5 L404.6 86.4 L406.7 86.4 L408.7 86.4 L410.8 86.4 L412.8 86.4 L414.9 86.4 L416.9 86.5 L419 86.5 L421 86.5 L423.1 86.6 L425.1 86.6 L427.2 86.7 L429.2 86.8 L431.3 86.9 L433.3 87.1 M249 91.3 L251 91.3 L253.1 91.3 L255.1 91.3 L257.2 91.3 L259.2 91.3 L261.3 91.3 L263.3 91.3 L265.4 91.3 L267.4 91.3 L269.5 91.3 L271.5 91.3 L273.6 91.3 L275.6 91.3 L277.7 91.3 L279.7 91.3 L281.8 91.3 L283.8 91.3 L285.9 91.3 L287.9 91.3 L290 91.3 L292 91.3 L294.1 91.3 L296.1 91.3 L298.1 91.3 L300.2 91.3 L302.2 91.3 L304.3 91.4 L306.3 91.4 L308.4 91.4 L310.4 91.5 L312.5 91.5 L314.5 91.6 L316.6 91.6 L318.6 91.7 L320.7 91.9 L322.7 92.2 L324.8 92.5 L326.8 92.8 L328.9 93.1 L330.9 93.4 L333 93.7 L335 93.9 L337.1 94.1 L339.1 94.2 L341.1 94.2 L343.2 94.2 L345.2 94.2 L347.3 94.2 L349.3 94.2 L351.4 94.2 L353.4 94.2 L355.5 94.2 L357.5 94.2 L359.6 94.1 L361.6 93.9 L363.7 93.7 L365.7 93.5 L367.8 93.3 L369.8 93.1 L371.9 92.8 L373.9 92.6 L376 92.4 L378 92.2 L380.1 92.1 L382.1 92 L384.2 91.9 L386.2 91.9 L388.2 91.9 L390.3 91.9 L392.3 91.9 L394.4 91.8 L396.4 91.8 L398.5 91.8 L400.5 91.8 L402.6 91.8 L404.6 91.8 L406.7 91.7 L408.7 91.7 L410.8 91.7 L412.8 91.7 L414.9 91.7 L416.9 91.6 L419 91.6 L421 91.6 L423.1 91.6 L425.1 91.5 L427.2 91.5 L429.2 91.5 L431.3 91.4 L433.3 91.4 M249 98.1 L251 98.1 L253.1 98.1 L255.1 98.1 L257.2 98.1 L259.2 98.1 L261.3 98 L263.3 98 L265.4 98 L267.4 98 L269.5 98 L271.5 98 L273.6 98 L275.6 98 L277.7 98 L279.7 98 L281.8 98 L283.8 97.9 L285.9 97.9 L287.9 97.9 L290 97.9 L292 97.9 L294.1 97.8 L296.1 97.8 L298.1 97.7 L300.2 97.6 L302.2 97.5 L304.3 97.4 L306.3 97.3 L308.4 97.3 L310.4 97.2 L312.5 97.1 L314.5 97.1 L316.6 97.1 L318.6 97.1 L320.7 97.3 L322.7 97.5 L324.8 97.7 L326.8 98 L328.9 98.3 L330.9 98.6 L333 98.8 L335 99 L337.1 99.2 L339.1 99.3 L341.1 99.3 L343.2 99.3 L345.2 99.3 L347.3 99.3 L349.3 99.3 L351.4 99.3 L353.4 99.3 L355.5 99.3 L357.5 99.3 L359.6 99.3 L361.6 99.2 L363.7 99.1 L365.7 99.1 L367.8 99 L369.8 98.9 L371.9 98.8 L373.9 98.8 L376 98.7 L378 98.6 L380.1 98.6 L382.1 98.5 L384.2 98.5 L386.2 98.5 L388.2 98.4 L390.3 98.4 L392.3 98.4 L394.4 98.4 L396.4 98.4 L398.5 98.3 L400.5 98.3 L402.6 98.3 L404.6 98.3 L406.7 98.3 L408.7 98.2 L410.8 98.2 L412.8 98.2 L414.9 98.2 L416.9 98.2 L419 98.2 L421 98.2 L423.1 98.2 L425.1 98.2 L427.2 98.2 L429.2 98.1 L431.3 98.1 L433.3 98.1 M249 87.1 L251 87.2 L253.1 87.4 L255.1 87.6 L257.2 87.8 L259.2 88.1 L261.3 88.4 L263.3 88.7 L265.4 89 L267.4 89.4 L269.5 89.8 L271.5 90.3 L273.6 90.9 L275.6 91.6 L277.7 92.4 L279.7 93.2 L281.8 94.1 L283.8 94.9 L285.9 95.8 L287.9 96.6 L290 97.3 L292 98 L294.1 98.5 L296.1 98.9 L298.1 99.3 L300.2 99.7 L302.2 100 L304.3 100.3 L306.3 100.6 L308.4 100.9 L310.4 101.1 L312.5 101.3 L314.5 101.4 L316.6 101.6 L318.6 103 L320.7 104.4 L322.7 105.8 L324.8 107.1 L326.8 108.3 L328.9 109.4 L330.9 110.5 L333 111.5 L335 112.4 L337.1 113.2 L339.1 114 L341.1 114.7 L343.2 115.3 L345.2 116 L347.3 116.6 L349.3 117.2 L351.4 117.6 L353.4 117.9 L355.5 118 L357.5 117.9 L359.6 117.7 L361.6 117.3 L363.7 116.9 L365.7 116.4 L367.8 115.8 L369.8 115.2 L371.9 114.4 L373.9 113.4 L376 112.3 L378 111 L380.1 109.8 L382.1 108.5 L384.2 107.4 L386.2 106.2 L388.2 104.9 L390.3 103.6 L392.3 102.4 L394.4 101.1 L396.4 100 L398.5 98.8 L400.5 97.6 L402.6 96.4 L404.6 95.2 L406.7 94 L408.7 93 L410.8 92 L412.8 91.2 L414.9 90.5 L416.9 90 L419 89.4 L421 88.9 L423.1 88.4 L425.1 88 L427.2 87.7 L429.2 87.4 L431.3 87.2 L433.3 87.1 M249 107 L251 107 L253.1 107.1 L255.1 107.2 L257.2 107.2 L259.2 107.3 L261.3 107.3 L263.3 107.4 L265.4 107.4 L267.4 107.5 L269.5 107.5 L271.5 107.6 L273.6 107.6 L275.6 107.6 L277.7 107.6 L279.7 107.7 L281.8 107.7 L283.8 107.7 L285.9 107.7 L287.9 107.7 L290 107.7 L292 107.7 L294.1 107.7 L296.1 107.7 L298.1 107.7 L300.2 107.6 L302.2 107.6 L304.3 107.6 L306.3 107.6 L308.4 107.5 L310.4 107.5 L312.5 107.4 L314.5 107.4 L316.6 107.4 L318.6 108.2 L320.7 109 L322.7 109.7 L324.8 110.5 L326.8 111.2 L328.9 111.8 L330.9 112.5 L333 113.1 L335 113.7 L337.1 114.2 L339.1 114.8 L341.1 115.3 L343.2 115.8 L345.2 116.3 L347.3 116.9 L349.3 117.3 L351.4 117.7 L353.4 117.9 L355.5 118 L357.5 117.9 L359.6 117.7 L361.6 117.5 L363.7 117.1 L365.7 116.7 L367.8 116.2 L369.8 115.7 L371.9 115.2 L373.9 114.7 L376 114.2 L378 113.8 L380.1 113.4 L382.1 113.1 L384.2 112.9 L386.2 112.7 L388.2 112.5 L390.3 112.4 L392.3 112.2 L394.4 112 L396.4 111.9 L398.5 111.8 L400.5 111.6 L402.6 111.5 L404.6 111.5 L406.7 111.4 L408.7 111.3 L410.8 111.3 L412.8 111.2 L414.9 111.2 L416.9 111.1 L419 111.1 L421 111 L423.1 111 L425.1 111 L427.2 110.9 L429.2 110.9 L431.3 110.9 L433.3 110.9 M249 110.6 L251 110.6 L253.1 110.5 L255.1 110.5 L257.2 110.5 L259.2 110.5 L261.3 110.4 L263.3 110.4 L265.4 110.4 L267.4 110.3 L269.5 110.3 L271.5 110.3 L273.6 110.3 L275.6 110.3 L277.7 110.2 L279.7 110.2 L281.8 110.2 L283.8 110.2 L285.9 110.2 L287.9 110.2 L290 110.2 L292 110.2 L294.1 110.2 L296.1 110.2 L298.1 110.2 L300.2 110.2 L302.2 110.2 L304.3 110.2 L306.3 110.2 L308.4 110.2 L310.4 110.2 L312.5 110.2 L314.5 110.2 L316.6 110.1 L318.6 109.1 L320.7 108.1 L322.7 107.2 L324.8 106.3 L326.8 105.5 L328.9 104.7 L330.9 104 L333 103.4 L335 102.8 L337.1 102.4 L339.1 102 L341.1 101.7 L343.2 101.4 L345.2 101.1 L347.3 100.9 L349.3 100.7 L351.4 100.5 L353.4 100.4 L355.5 100.4 L357.5 100.4 L359.6 100.5 L361.6 100.7 L363.7 100.9 L365.7 101.2 L367.8 101.5 L369.8 101.9 L371.9 102.2 L373.9 102.6 L376 102.9 L378 103.3 L380.1 103.6 L382.1 103.8 L384.2 104.1 L386.2 104.3 L388.2 104.5 L390.3 104.8 L392.3 105 L394.4 105.2 L396.4 105.4 L398.5 105.6 L400.5 105.8 L402.6 105.9 L404.6 106 L406.7 106.2 L408.7 106.3 L410.8 106.4 L412.8 106.5 L414.9 106.6 L416.9 106.6 L419 106.7 L421 106.8 L423.1 106.9 L425.1 106.9 L427.2 107 L429.2 107 L431.3 107 L433.3 107 M249 170.2 L251 170.2 L253.1 170.2 L255.1 170.1 L257.2 170.1 L259.2 170 L261.3 169.8 L263.3 169.6 L265.4 169.2 L267.4 168.7 L269.5 168.2 L271.5 167.6 L273.6 167 L275.6 166.4 L277.7 165.7 L279.7 165 L281.8 164.4 L283.8 163.7 L285.9 163.1 L287.9 162.5 L290 161.7 L292 161 L294.1 160.2 L296.1 159.4 L298.1 158.7 L300.2 158 L302.2 157.4 L304.3 156.9 L306.3 156.5 L308.4 156.1 L310.4 155.7 L312.5 155.4 L314.5 155.2 L316.6 155.1 L318.6 155.2 L320.7 155.4 L322.7 155.7 L324.8 156.1 L326.8 156.6 L328.9 157 L330.9 157.4 L333 157.8 L335 158.1 L337.1 158.3 L339.1 158.6 L341.1 158.8 L343.2 159 L345.2 159.2 L347.3 159.4 L349.3 159.6 L351.4 159.7 L353.4 159.8 L355.5 159.8 L357.5 159.8 L359.6 159.7 L361.6 159.5 L363.7 159.4 L365.7 159.2 L367.8 159 L369.8 158.8 L371.9 158.7 L373.9 158.6 L376 158.6 L378 158.7 L380.1 158.9 L382.1 159.2 L384.2 159.7 L386.2 160.2 L388.2 160.7 L390.3 161.3 L392.3 162 L394.4 162.6 L396.4 163.2 L398.5 163.8 L400.5 164.4 L402.6 164.9 L404.6 165.5 L406.7 166.2 L408.7 166.9 L410.8 167.6 L412.8 168.3 L414.9 168.8 L416.9 169.3 L419 169.6 L421 169.7 L423.1 169.7 L425.1 169.7 L427.2 169.8 L429.2 169.8 L431.3 169.8 L433.3 169.8 M249 174.6 L251 174.6 L253.1 174.5 L255.1 174.4 L257.2 174.2 L259.2 174.1 L261.3 173.9 L263.3 173.6 L265.4 173.2 L267.4 172.8 L269.5 172.4 L271.5 171.9 L273.6 171.4 L275.6 170.9 L277.7 170.4 L279.7 169.8 L281.8 169.3 L283.8 168.9 L285.9 168.4 L287.9 168 L290 167.5 L292 166.9 L294.1 166.4 L296.1 165.8 L298.1 165.2 L300.2 164.7 L302.2 164.1 L304.3 163.6 L306.3 163.2 L308.4 162.8 L310.4 162.5 L312.5 162.2 L314.5 162.1 L316.6 162 L318.6 162.1 L320.7 162.4 L322.7 162.8 L324.8 163.3 L326.8 163.9 L328.9 164.4 L330.9 165 L333 165.5 L335 165.9 L337.1 166.2 L339.1 166.5 L341.1 166.7 L343.2 167 L345.2 167.3 L347.3 167.5 L349.3 167.7 L351.4 167.9 L353.4 168 L355.5 168 L357.5 168 L359.6 167.9 L361.6 167.8 L363.7 167.8 L365.7 167.6 L367.8 167.5 L369.8 167.4 L371.9 167.4 L373.9 167.3 L376 167.3 L378 167.4 L380.1 167.5 L382.1 167.7 L384.2 168 L386.2 168.3 L388.2 168.7 L390.3 169.1 L392.3 169.5 L394.4 169.9 L396.4 170.3 L398.5 170.7 L400.5 171.1 L402.6 171.4 L404.6 171.8 L406.7 172.2 L408.7 172.7 L410.8 173.1 L412.8 173.5 L414.9 173.9 L416.9 174.2 L419 174.5 L421 174.6 L423.1 174.7 L425.1 174.8 L427.2 174.9 L429.2 174.9 L431.3 175 L433.3 175 M249 175.6 L251 175.7 L253.1 175.8 L255.1 175.9 L257.2 176.1 L259.2 176.3 L261.3 176.7 L263.3 177.2 L265.4 177.8 L267.4 178.4 L269.5 179.2 L271.5 180 L273.6 180.8 L275.6 181.7 L277.7 182.5 L279.7 183.3 L281.8 184 L283.8 184.7 L285.9 185.2 L287.9 185.7 L290 186.3 L292 186.8 L294.1 187.3 L296.1 187.8 L298.1 188.3 L300.2 188.8 L302.2 189.3 L304.3 189.7 L306.3 190.1 L308.4 190.4 L310.4 190.7 L312.5 190.9 L314.5 191 L316.6 191 L318.6 190.9 L320.7 190.6 L322.7 190.2 L324.8 189.7 L326.8 189.1 L328.9 188.5 L330.9 187.9 L333 187.4 L335 187 L337.1 186.6 L339.1 186.3 L341.1 185.9 L343.2 185.6 L345.2 185.3 L347.3 185 L349.3 184.8 L351.4 184.6 L353.4 184.5 L355.5 184.4 L357.5 184.5 L359.6 184.7 L361.6 184.9 L363.7 185.2 L365.7 185.6 L367.8 185.9 L369.8 186.2 L371.9 186.4 L373.9 186.6 L376 186.6 L378 186.6 L380.1 186.4 L382.1 186.2 L384.2 185.9 L386.2 185.6 L388.2 185.2 L390.3 184.8 L392.3 184.4 L394.4 183.9 L396.4 183.4 L398.5 183 L400.5 182.5 L402.6 182.1 L404.6 181.5 L406.7 180.8 L408.7 180.1 L410.8 179.3 L412.8 178.6 L414.9 177.9 L416.9 177.3 L419 176.8 L421 176.5 L423.1 176.3 L425.1 176.1 L427.2 175.9 L429.2 175.8 L431.3 175.7 L433.3 175.6 M249 179.6 L251 179.8 L253.1 180 L255.1 180.3 L257.2 180.6 L259.2 180.9 L261.3 181.3 L263.3 181.8 L265.4 182.4 L267.4 183 L269.5 183.7 L271.5 184.4 L273.6 185.2 L275.6 185.9 L277.7 186.7 L279.7 187.4 L281.8 188.2 L283.8 188.9 L285.9 189.6 L287.9 190.3 L290 191 L292 191.8 L294.1 192.5 L296.1 193.3 L298.1 193.9 L300.2 194.6 L302.2 195.1 L304.3 195.5 L306.3 195.8 L308.4 196.1 L310.4 196.4 L312.5 196.7 L314.5 196.8 L316.6 196.9 L318.6 196.9 L320.7 196.8 L322.7 196.7 L324.8 196.7 L326.8 196.6 L328.9 196.5 L330.9 196.4 L333 196.4 L335 196.3 L337.1 196.3 L339.1 196.3 L341.1 196.2 L343.2 196.2 L345.2 196.2 L347.3 196.2 L349.3 196.2 L351.4 196.1 L353.4 196.1 L355.5 196.1 L357.5 196.1 L359.6 196.1 L361.6 196.1 L363.7 196.1 L365.7 196.1 L367.8 196.1 L369.8 196.1 L371.9 196.1 L373.9 196.1 L376 196.1 L378 196.1 L380.1 195.9 L382.1 195.6 L384.2 195.2 L386.2 194.8 L388.2 194.3 L390.3 193.8 L392.3 193.2 L394.4 192.6 L396.4 192 L398.5 191.4 L400.5 190.7 L402.6 190 L404.6 189.2 L406.7 188.1 L408.7 186.9 L410.8 185.6 L412.8 184.4 L414.9 183.2 L416.9 182.2 L419 181.5 L421 181 L423.1 180.7 L425.1 180.3 L427.2 180 L429.2 179.8 L431.3 179.7 L433.3 179.6" stroke="#1e1e1e" stroke-width="1.05" fill="none"/>
<path d="M249 214.4 L251 214.4 L253.1 214.3 L255.1 214.3 L257.2 214.2 L259.2 214.1 L261.3 213.9 L263.3 213.7 L265.4 213.5 L267.4 213.2 L269.5 212.9 L271.5 212.6 L273.6 212.3 L275.6 212 L277.7 211.7 L279.7 211.5 L281.8 211.1 L283.8 210.8 L285.9 210.5 L287.9 210.2 L290 209.9 L292 209.6 L294.1 209.4 L296.1 209.3 L298.1 209.2 L300.2 209.1 L302.2 209 L304.3 208.9 L306.3 208.9 L308.4 208.8 L310.4 208.8 L312.5 208.7 L314.5 208.7 L316.6 208.6 L318.6 208.5 L320.7 208.4 L322.7 208.3 L324.8 208.1 L326.8 208 L328.9 207.9 L330.9 207.8 L333 207.7 L335 207.6 L337.1 207.5 L339.1 207.5 L341.1 207.4 L343.2 207.3 L345.2 207.3 L347.3 207.2 L349.3 207.2 L351.4 207.2 L353.4 207.1 L355.5 207.1 L357.5 207.2 L359.6 207.3 L361.6 207.4 L363.7 207.6 L365.7 207.8 L367.8 208 L369.8 208.2 L371.9 208.5 L373.9 208.7 L376 208.9 L378 209.2 L380.1 209.4 L382.1 209.7 L384.2 210 L386.2 210.2 L388.2 210.5 L390.3 210.8 L392.3 211.1 L394.4 211.4 L396.4 211.7 L398.5 211.9 L400.5 212.2 L402.6 212.4 L404.6 212.6 L406.7 212.8 L408.7 213.1 L410.8 213.3 L412.8 213.5 L414.9 213.7 L416.9 213.9 L419 214.1 L421 214.2 L423.1 214.3 L425.1 214.4 L427.2 214.4 L429.2 214.5 L431.3 214.5 L433.3 214.5" stroke="#1e1e1e" stroke-width="1.7" fill="none"/>
</g>
<g id="bands2"><path d="M446.7 38.9 L448.6 38.5 L450.5 38.1 L452.4 37.8 L454.2 37.4 L456.1 37.1 L458 36.8 L459.9 36.4 L461.8 36.1 L463.7 35.8 L465.6 35.5 L467.5 35.2 L469.3 35 L471.2 34.7 L473.1 34.4 L475 34.2 L476.9 34 L478.8 33.8 L480.7 33.6 L482.5 33.4 L484.4 33.2 L486.3 33 L488.2 32.8 L490.1 32.6 L492 32.4 L493.9 32.2 L495.8 32.1 L497.6 31.9 L499.5 31.8 L501.4 31.6 L503.3 31.5 L505.2 31.4 L507.1 31.2 L509 31.1 L510.8 31 L512.7 30.9 L514.6 30.8 L516.5 30.8 L518.4 30.7 L520.3 30.6 L522.2 30.5 L524.1 30.4 L525.9 30.3 L527.8 30.2 L529.7 30.1 L531.6 30.1 L533.5 30 L535.4 30 L537.3 29.9 L539.1 29.9 L541 29.9 L542.9 29.8 L544.8 29.8 L546.7 29.9 L548.6 29.9 L550.5 30 L552.4 30.1 L554.2 30.2 L556.1 30.4 L558 30.6 L559.9 30.8 L561.8 31 L563.7 31.2 L565.6 31.4 L567.4 31.7 L569.3 31.9 L571.2 32.2 L573.1 32.4 L575 32.7 L576.9 33 L578.8 33.2 L580.7 33.5 L582.5 33.7 L584.4 33.9 L586.3 34.2 L588.2 34.4 L590.1 34.7 L592 34.9 L593.9 35.2 L595.7 35.5 L597.6 35.8 L599.5 36.1 L601.4 36.3 L603.3 36.6 L605.2 36.9 L607.1 37.3 L609 37.6 L610.8 37.9 L612.7 38.2 L614.6 38.5 L616.5 38.9 M446.7 60.5 L448.6 60.7 L450.5 61 L452.4 61.2 L454.2 61.4 L456.1 61.6 L458 61.8 L459.9 62 L461.8 62.2 L463.7 62.4 L465.6 62.6 L467.5 62.7 L469.3 62.9 L471.2 63 L473.1 63.2 L475 63.3 L476.9 63.4 L478.8 63.6 L480.7 63.7 L482.5 63.8 L484.4 63.9 L486.3 64 L488.2 64.1 L490.1 64.2 L492 64.3 L493.9 64.4 L495.8 64.4 L497.6 64.5 L499.5 64.6 L501.4 64.7 L503.3 64.7 L505.2 64.8 L507.1 64.8 L509 64.8 L510.8 64.4 L512.7 64 L514.6 63.7 L516.5 63.3 L518.4 63 L520.3 62.7 L522.2 62.4 L524.1 62.2 L525.9 62 L527.8 61.8 L529.7 61.6 L531.6 61.5 L533.5 61.4 L535.4 61.3 L537.3 61.2 L539.1 61.1 L541 61.1 L542.9 61 L544.8 61 L546.7 61 L548.6 61.1 L550.5 61.2 L552.4 61.4 L554.2 61.6 L556.1 61.8 L558 62 L559.9 62.2 L561.8 62.4 L563.7 62.7 L565.6 62.9 L567.4 63 L569.3 63.2 L571.2 63.3 L573.1 63.4 L575 63.5 L576.9 63.5 L578.8 63.4 L580.7 63.4 L582.5 63.4 L584.4 63.4 L586.3 63.3 L588.2 63.2 L590.1 63.2 L592 63.1 L593.9 63 L595.7 62.9 L597.6 62.8 L599.5 62.6 L601.4 62.5 L603.3 62.3 L605.2 62.1 L607.1 62 L609 61.7 L610.8 61.5 L612.7 61.3 L614.6 61 L616.5 60.8 M446.7 70.2 L448.6 70.2 L450.5 70.2 L452.4 70.3 L454.2 70.3 L456.1 70.3 L458 70.3 L459.9 70.3 L461.8 70.4 L463.7 70.4 L465.6 70.4 L467.5 70.5 L469.3 70.5 L471.2 70.5 L473.1 70.6 L475 70.6 L476.9 70.6 L478.8 70.7 L480.7 70.7 L482.5 70.8 L484.4 70.8 L486.3 70.9 L488.2 70.9 L490.1 71 L492 71 L493.9 71.1 L495.8 71.2 L497.6 71.3 L499.5 71.4 L501.4 71.4 L503.3 71.5 L505.2 71.6 L507.1 71.7 L509 71.8 L510.8 72 L512.7 72.2 L514.6 72.4 L516.5 72.7 L518.4 73 L520.3 73.3 L522.2 73.6 L524.1 73.9 L525.9 74.1 L527.8 74.4 L529.7 74.5 L531.6 74.7 L533.5 74.7 L535.4 74.7 L537.3 74.7 L539.1 74.7 L541 74.7 L542.9 74.7 L544.8 74.7 L546.7 74.7 L548.6 74.6 L550.5 74.4 L552.4 74.3 L554.2 74.1 L556.1 73.8 L558 73.6 L559.9 73.3 L561.8 73 L563.7 72.8 L565.6 72.5 L567.4 72.2 L569.3 72 L571.2 71.8 L573.1 71.6 L575 71.4 L576.9 71.3 L578.8 71.2 L580.7 71.1 L582.5 70.9 L584.4 70.8 L586.3 70.7 L588.2 70.6 L590.1 70.5 L592 70.4 L593.9 70.4 L595.7 70.3 L597.6 70.3 L599.5 70.2 L601.4 70.2 L603.3 70.2 L605.2 70.2 L607.1 70.1 L609 70.1 L610.8 70.1 L612.7 70.1 L614.6 70.1 L616.5 70.1 M446.7 70.2 L448.6 70.5 L450.5 70.7 L452.4 70.9 L454.2 71.2 L456.1 71.4 L458 71.7 L459.9 71.9 L461.8 72.2 L463.7 72.4 L465.6 72.7 L467.5 72.9 L469.3 73.2 L471.2 73.5 L473.1 73.7 L475 74 L476.9 74.4 L478.8 74.7 L480.7 75 L482.5 75.3 L484.4 75.5 L486.3 75.8 L488.2 76 L490.1 76.2 L492 76.3 L493.9 76.5 L495.8 76.6 L497.6 76.7 L499.5 76.8 L501.4 76.9 L503.3 77 L505.2 77.1 L507.1 77.2 L509 77.3 L510.8 77.5 L512.7 77.6 L514.6 77.8 L516.5 78 L518.4 78.2 L520.3 78.4 L522.2 78.6 L524.1 78.8 L525.9 78.9 L527.8 79.1 L529.7 79.2 L531.6 79.3 L533.5 79.3 L535.4 79.3 L537.3 79.3 L539.1 79.3 L541 79.3 L542.9 79.3 L544.8 79.3 L546.7 79.3 L548.6 79.3 L550.5 79.3 L552.4 79.2 L554.2 79.2 L556.1 79.2 L558 79.1 L559.9 79.1 L561.8 79.1 L563.7 78.9 L565.6 78.6 L567.4 78.2 L569.3 77.6 L571.2 77.1 L573.1 76.5 L575 76.1 L576.9 75.7 L578.8 75.4 L580.7 75 L582.5 74.7 L584.4 74.4 L586.3 74 L588.2 73.7 L590.1 73.4 L592 73.1 L593.9 72.8 L595.7 72.6 L597.6 72.3 L599.5 72.1 L601.4 71.8 L603.3 71.6 L605.2 71.4 L607.1 71.2 L609 71 L610.8 70.8 L612.7 70.6 L614.6 70.4 L616.5 70.2 M446.7 79.7 L448.6 79.7 L450.5 79.8 L452.4 79.8 L454.2 79.8 L456.1 79.9 L458 79.9 L459.9 79.9 L461.8 80 L463.7 80 L465.6 80 L467.5 80.1 L469.3 80.1 L471.2 80.2 L473.1 80.2 L475 80.2 L476.9 80.3 L478.8 80.3 L480.7 80.3 L482.5 80.4 L484.4 80.4 L486.3 80.5 L488.2 80.5 L490.1 80.6 L492 80.6 L493.9 80.7 L495.8 80.7 L497.6 80.8 L499.5 80.8 L501.4 80.8 L503.3 80.9 L505.2 80.9 L507.1 80.9 L509 80.9 L510.8 80.9 L512.7 80.8 L514.6 80.8 L516.5 80.7 L518.4 80.6 L520.3 80.5 L522.2 80.4 L524.1 80.3 L525.9 80.1 L527.8 80 L529.7 79.9 L531.6 79.8 L533.5 79.7 L535.4 79.6 L537.3 79.5 L539.1 79.4 L541 79.3 L542.9 79.3 L544.8 79.3 L546.7 79.3 L548.6 79.3 L550.5 79.4 L552.4 79.4 L554.2 79.5 L556.1 79.6 L558 79.7 L559.9 79.8 L561.8 79.9 L563.7 79.9 L565.6 80 L567.4 80.1 L569.3 80.2 L571.2 80.2 L573.1 80.3 L575 80.3 L576.9 80.3 L578.8 80.3 L580.7 80.3 L582.5 80.3 L584.4 80.3 L586.3 80.3 L588.2 80.3 L590.1 80.3 L592 80.2 L593.9 80.2 L595.7 80.2 L597.6 80.2 L599.5 80.2 L601.4 80.2 L603.3 80.2 L605.2 80.1 L607.1 80.1 L609 80.1 L610.8 80.1 L612.7 80 L614.6 80 L616.5 79.9 M446.7 82.6 L448.6 82.5 L450.5 82.5 L452.4 82.5 L454.2 82.5 L456.1 82.4 L458 82.4 L459.9 82.4 L461.8 82.4 L463.7 82.4 L465.6 82.4 L467.5 82.3 L469.3 82.3 L471.2 82.3 L473.1 82.3 L475 82.3 L476.9 82.3 L478.8 82.3 L480.7 82.3 L482.5 82.3 L484.4 82.4 L486.3 82.4 L488.2 82.4 L490.1 82.4 L492 82.4 L493.9 82.5 L495.8 82.5 L497.6 82.5 L499.5 82.5 L501.4 82.5 L503.3 82.5 L505.2 82.6 L507.1 82.6 L509 82.6 L510.8 82.6 L512.7 82.5 L514.6 82.5 L516.5 82.5 L518.4 82.5 L520.3 82.4 L522.2 82.4 L524.1 82.3 L525.9 82.3 L527.8 82.2 L529.7 82.2 L531.6 82.1 L533.5 82.1 L535.4 82 L537.3 82 L539.1 82 L541 81.9 L542.9 81.9 L544.8 81.9 L546.7 81.9 L548.6 81.9 L550.5 82 L552.4 82 L554.2 82.1 L556.1 82.1 L558 82.2 L559.9 82.3 L561.8 82.3 L563.7 82.4 L565.6 82.4 L567.4 82.5 L569.3 82.5 L571.2 82.6 L573.1 82.6 L575 82.6 L576.9 82.6 L578.8 82.6 L580.7 82.6 L582.5 82.6 L584.4 82.6 L586.3 82.6 L588.2 82.6 L590.1 82.6 L592 82.6 L593.9 82.6 L595.7 82.6 L597.6 82.6 L599.5 82.6 L601.4 82.6 L603.3 82.6 L605.2 82.6 L607.1 82.6 L609 82.6 L610.8 82.6 L612.7 82.6 L614.6 82.6 L616.5 82.6 M446.7 85.5 L448.6 85.3 L450.5 85.1 L452.4 85 L454.2 84.8 L456.1 84.7 L458 84.6 L459.9 84.5 L461.8 84.4 L463.7 84.3 L465.6 84.2 L467.5 84.1 L469.3 84.1 L471.2 84 L473.1 84 L475 84 L476.9 84 L478.8 84 L480.7 84 L482.5 84 L484.4 84 L486.3 84.1 L488.2 84.1 L490.1 84.2 L492 84.3 L493.9 84.4 L495.8 84.4 L497.6 84.5 L499.5 84.6 L501.4 84.7 L503.3 84.9 L505.2 85 L507.1 85.1 L509 85.2 L510.8 85.4 L512.7 85.6 L514.6 85.9 L516.5 86.2 L518.4 86.6 L520.3 87 L522.2 87.4 L524.1 87.8 L525.9 88.1 L527.8 88.4 L529.7 88.6 L531.6 88.8 L533.5 88.9 L535.4 88.9 L537.3 88.9 L539.1 88.9 L541 88.9 L542.9 88.9 L544.8 88.9 L546.7 88.9 L548.6 88.8 L550.5 88.7 L552.4 88.6 L554.2 88.5 L556.1 88.3 L558 88.1 L559.9 87.9 L561.8 87.7 L563.7 87.5 L565.6 87.2 L567.4 87 L569.3 86.7 L571.2 86.5 L573.1 86.2 L575 85.9 L576.9 85.6 L578.8 85.2 L580.7 84.7 L582.5 84.2 L584.4 83.7 L586.3 83.3 L588.2 82.9 L590.1 82.8 L592 82.7 L593.9 82.7 L595.7 82.8 L597.6 82.8 L599.5 82.8 L601.4 82.9 L603.3 83 L605.2 83.2 L607.1 83.4 L609 83.6 L610.8 83.9 L612.7 84.3 L614.6 84.7 L616.5 85.2 M446.7 88.5 L448.6 88.5 L450.5 88.5 L452.4 88.5 L454.2 88.5 L456.1 88.5 L458 88.5 L459.9 88.5 L461.8 88.5 L463.7 88.5 L465.6 88.5 L467.5 88.5 L469.3 88.5 L471.2 88.5 L473.1 88.5 L475 88.5 L476.9 88.6 L478.8 88.6 L480.7 88.6 L482.5 88.6 L484.4 88.7 L486.3 88.7 L488.2 88.8 L490.1 88.9 L492 89 L493.9 89.1 L495.8 89.2 L497.6 89.2 L499.5 89.3 L501.4 89.4 L503.3 89.5 L505.2 89.6 L507.1 89.7 L509 89.8 L510.8 89.9 L512.7 90 L514.6 90.2 L516.5 90.3 L518.4 90.4 L520.3 90.5 L522.2 90.7 L524.1 90.8 L525.9 90.9 L527.8 91 L529.7 91.1 L531.6 91.1 L533.5 91.1 L535.4 91.1 L537.3 91.1 L539.1 91.1 L541 91.1 L542.9 91.1 L544.8 91.1 L546.7 91.1 L548.6 91 L550.5 90.9 L552.4 90.7 L554.2 90.5 L556.1 90.3 L558 90.1 L559.9 89.8 L561.8 89.6 L563.7 89.4 L565.6 89.1 L567.4 88.9 L569.3 88.8 L571.2 88.6 L573.1 88.6 L575 88.5 L576.9 88.5 L578.8 88.5 L580.7 88.5 L582.5 88.5 L584.4 88.5 L586.3 88.5 L588.2 88.5 L590.1 88.5 L592 88.5 L593.9 88.5 L595.7 88.5 L597.6 88.5 L599.5 88.5 L601.4 88.5 L603.3 88.5 L605.2 88.5 L607.1 88.5 L609 88.5 L610.8 88.5 L612.7 88.5 L614.6 88.5 L616.5 88.5 M446.7 94.7 L448.6 94.7 L450.5 94.7 L452.4 94.6 L454.2 94.6 L456.1 94.6 L458 94.5 L459.9 94.5 L461.8 94.5 L463.7 94.4 L465.6 94.4 L467.5 94.4 L469.3 94.3 L471.2 94.3 L473.1 94.3 L475 94.2 L476.9 94.2 L478.8 94.2 L480.7 94.1 L482.5 94.1 L484.4 94.1 L486.3 94 L488.2 94 L490.1 93.9 L492 93.9 L493.9 93.9 L495.8 93.8 L497.6 93.8 L499.5 93.8 L501.4 93.7 L503.3 93.7 L505.2 93.7 L507.1 93.7 L509 93.7 L510.8 93.7 L512.7 93.7 L514.6 93.8 L516.5 93.8 L518.4 93.9 L520.3 94 L522.2 94.1 L524.1 94.2 L525.9 94.3 L527.8 94.4 L529.7 94.5 L531.6 94.6 L533.5 94.7 L535.4 94.8 L537.3 94.9 L539.1 94.9 L541 95 L542.9 95 L544.8 95 L546.7 95 L548.6 95 L550.5 95 L552.4 95 L554.2 95 L556.1 94.9 L558 94.9 L559.9 94.9 L561.8 94.9 L563.7 94.8 L565.6 94.8 L567.4 94.8 L569.3 94.8 L571.2 94.8 L573.1 94.7 L575 94.7 L576.9 94.7 L578.8 94.7 L580.7 94.7 L582.5 94.7 L584.4 94.8 L586.3 94.8 L588.2 94.8 L590.1 94.8 L592 94.8 L593.9 94.8 L595.7 94.8 L597.6 94.8 L599.5 94.8 L601.4 94.8 L603.3 94.9 L605.2 94.9 L607.1 94.9 L609 94.9 L610.8 94.9 L612.7 95 L614.6 95 L616.5 95 M446.7 94.7 L448.6 94.7 L450.5 94.7 L452.4 94.7 L454.2 94.7 L456.1 94.7 L458 94.7 L459.9 94.7 L461.8 94.7 L463.7 94.7 L465.6 94.7 L467.5 94.7 L469.3 94.7 L471.2 94.7 L473.1 94.6 L475 94.6 L476.9 94.6 L478.8 94.6 L480.7 94.6 L482.5 94.5 L484.4 94.5 L486.3 94.4 L488.2 94.4 L490.1 94.3 L492 94.2 L493.9 94.2 L495.8 94.1 L497.6 94 L499.5 94 L501.4 93.9 L503.3 93.9 L505.2 93.8 L507.1 93.8 L509 93.8 L510.8 93.8 L512.7 93.9 L514.6 94 L516.5 94.2 L518.4 94.4 L520.3 94.6 L522.2 94.8 L524.1 95 L525.9 95.3 L527.8 95.5 L529.7 95.8 L531.6 96 L533.5 96.3 L535.4 96.5 L537.3 96.6 L539.1 96.8 L541 96.9 L542.9 97 L544.8 97 L546.7 97 L548.6 97 L550.5 97 L552.4 97 L554.2 97 L556.1 97 L558 97 L559.9 97 L561.8 97 L563.7 97 L565.6 97 L567.4 97 L569.3 97 L571.2 97 L573.1 97 L575 97 L576.9 97 L578.8 97 L580.7 97 L582.5 97 L584.4 97 L586.3 97 L588.2 96.9 L590.1 96.9 L592 96.9 L593.9 96.9 L595.7 96.9 L597.6 96.9 L599.5 96.8 L601.4 96.8 L603.3 96.8 L605.2 96.8 L607.1 96.7 L609 96.7 L610.8 96.7 L612.7 96.6 L614.6 96.6 L616.5 96.6 M446.7 96.6 L448.6 96.8 L450.5 97.1 L452.4 97.4 L454.2 97.8 L456.1 98.2 L458 98.7 L459.9 99.2 L461.8 99.7 L463.7 100.3 L465.6 100.9 L467.5 101.7 L469.3 102.6 L471.2 103.6 L473.1 104.6 L475 105.6 L476.9 106.6 L478.8 107.4 L480.7 108.1 L482.5 108.8 L484.4 109.4 L486.3 110 L488.2 110.6 L490.1 111.2 L492 111.6 L493.9 112.1 L495.8 112.4 L497.6 112.7 L499.5 112.9 L501.4 113.1 L503.3 113.2 L505.2 113.4 L507.1 113.5 L509 113.5 L510.8 113.3 L512.7 113.2 L514.6 113 L516.5 112.9 L518.4 112.7 L520.3 112.5 L522.2 112.3 L524.1 112.1 L525.9 111.9 L527.8 111.6 L529.7 111.3 L531.6 110.9 L533.5 110.6 L535.4 110.3 L537.3 110 L539.1 109.7 L541 109.5 L542.9 109.4 L544.8 109.4 L546.7 109.4 L548.6 109.5 L550.5 109.7 L552.4 109.9 L554.2 110.1 L556.1 110.3 L558 110.5 L559.9 110.7 L561.8 110.9 L563.7 111 L565.6 111 L567.4 111 L569.3 111 L571.2 111 L573.1 111 L575 110.9 L576.9 110.9 L578.8 110.8 L580.7 110.7 L582.5 110.3 L584.4 109.5 L586.3 108.4 L588.2 107.2 L590.1 106 L592 104.8 L593.9 103.7 L595.7 102.9 L597.6 102.1 L599.5 101.4 L601.4 100.8 L603.3 100.1 L605.2 99.5 L607.1 98.9 L609 98.4 L610.8 97.9 L612.7 97.4 L614.6 97 L616.5 96.6 M446.7 102.9 L448.6 102.9 L450.5 102.8 L452.4 102.8 L454.2 102.7 L456.1 102.7 L458 102.7 L459.9 102.6 L461.8 102.6 L463.7 102.6 L465.6 102.5 L467.5 102.5 L469.3 102.5 L471.2 102.5 L473.1 102.4 L475 102.4 L476.9 102.4 L478.8 102.4 L480.7 102.4 L482.5 102.4 L484.4 102.4 L486.3 102.4 L488.2 102.3 L490.1 102.3 L492 102.3 L493.9 102.3 L495.8 102.3 L497.6 102.3 L499.5 102.3 L501.4 102.3 L503.3 102.3 L505.2 102.3 L507.1 102.3 L509 102.2 L510.8 102.2 L512.7 102.2 L514.6 102.2 L516.5 102.2 L518.4 102.1 L520.3 102.1 L522.2 102.1 L524.1 102.1 L525.9 102 L527.8 102 L529.7 102 L531.6 102 L533.5 101.9 L535.4 101.9 L537.3 101.9 L539.1 101.9 L541 101.9 L542.9 101.9 L544.8 101.9 L546.7 101.9 L548.6 101.9 L550.5 101.9 L552.4 101.9 L554.2 101.9 L556.1 102 L558 102 L559.9 102 L561.8 102 L563.7 102.1 L565.6 102.1 L567.4 102.1 L569.3 102.2 L571.2 102.2 L573.1 102.2 L575 102.2 L576.9 102.3 L578.8 102.3 L580.7 102.3 L582.5 102.3 L584.4 102.4 L586.3 102.4 L588.2 102.4 L590.1 102.5 L592 102.5 L593.9 102.5 L595.7 102.5 L597.6 102.6 L599.5 102.6 L601.4 102.6 L603.3 102.7 L605.2 102.7 L607.1 102.7 L609 102.8 L610.8 102.8 L612.7 102.8 L614.6 102.9 L616.5 102.9 M446.7 107.9 L448.6 108.2 L450.5 108.4 L452.4 108.6 L454.2 108.8 L456.1 109 L458 109.2 L459.9 109.4 L461.8 109.6 L463.7 109.7 L465.6 109.9 L467.5 110.1 L469.3 110.3 L471.2 110.5 L473.1 110.6 L475 110.8 L476.9 111 L478.8 111.2 L480.7 111.3 L482.5 111.5 L484.4 111.6 L486.3 111.8 L488.2 111.9 L490.1 112.1 L492 112.3 L493.9 112.4 L495.8 112.5 L497.6 112.7 L499.5 112.8 L501.4 113 L503.3 113.1 L505.2 113.2 L507.1 113.4 L509 113.5 L510.8 113.3 L512.7 113.1 L514.6 113 L516.5 112.8 L518.4 112.6 L520.3 112.5 L522.2 112.3 L524.1 112.2 L525.9 112.1 L527.8 112 L529.7 111.9 L531.6 111.8 L533.5 111.7 L535.4 111.6 L537.3 111.5 L539.1 111.5 L541 111.5 L542.9 111.4 L544.8 111.4 L546.7 111.4 L548.6 111.4 L550.5 111.5 L552.4 111.5 L554.2 111.5 L556.1 111.6 L558 111.6 L559.9 111.6 L561.8 111.7 L563.7 111.7 L565.6 111.7 L567.4 111.8 L569.3 111.8 L571.2 111.8 L573.1 111.8 L575 111.8 L576.9 111.8 L578.8 111.8 L580.7 111.7 L582.5 111.5 L584.4 111.4 L586.3 111.2 L588.2 111 L590.1 110.8 L592 110.6 L593.9 110.4 L595.7 110.2 L597.6 110.1 L599.5 109.9 L601.4 109.7 L603.3 109.5 L605.2 109.3 L607.1 109.1 L609 108.9 L610.8 108.6 L612.7 108.4 L614.6 108.2 L616.5 107.9 M446.7 170.3 L448.6 170.3 L450.5 170.3 L452.4 170.3 L454.2 170.3 L456.1 170.3 L458 170.3 L459.9 170.3 L461.8 170.3 L463.7 170.3 L465.6 170.3 L467.5 170.3 L469.3 170.4 L471.2 170.4 L473.1 170.4 L475 170.4 L476.9 170.4 L478.8 170.4 L480.7 170.4 L482.5 170.4 L484.4 170.4 L486.3 170.5 L488.2 170.5 L490.1 170.5 L492 170.5 L493.9 170.6 L495.8 170.6 L497.6 170.6 L499.5 170.7 L501.4 170.7 L503.3 170.7 L505.2 170.8 L507.1 170.8 L509 170.8 L510.8 170.9 L512.7 171 L514.6 171.2 L516.5 171.5 L518.4 171.8 L520.3 172.1 L522.2 172.7 L524.1 173.3 L525.9 174 L527.8 174.7 L529.7 175.4 L531.6 176.2 L533.5 177.1 L535.4 178.1 L537.3 179.1 L539.1 180.1 L541 180.9 L542.9 181.7 L544.8 182.4 L546.7 182.9 L548.6 183.4 L550.5 183.9 L552.4 184.3 L554.2 184.7 L556.1 185.1 L558 185.4 L559.9 185.7 L561.8 185.9 L563.7 186.2 L565.6 186.4 L567.4 186.6 L569.3 186.7 L571.2 186.6 L573.1 186.4 L575 186 L576.9 185.5 L578.8 185 L580.7 184.3 L582.5 183.7 L584.4 183 L586.3 182.4 L588.2 181.7 L590.1 180.8 L592 179.9 L593.9 178.9 L595.7 178 L597.6 177.1 L599.5 176.2 L601.4 175.5 L603.3 175 L605.2 174.5 L607.1 174.1 L609 173.6 L610.8 173.3 L612.7 173 L614.6 172.7 L616.5 172.5 M446.7 188.1 L448.6 188 L450.5 187.9 L452.4 187.8 L454.2 187.6 L456.1 187.4 L458 187.2 L459.9 187 L461.8 186.7 L463.7 186.5 L465.6 186.1 L467.5 185.8 L469.3 185.3 L471.2 184.8 L473.1 184.3 L475 183.8 L476.9 183.3 L478.8 182.8 L480.7 182.2 L482.5 181.7 L484.4 181.1 L486.3 180.6 L488.2 180 L490.1 179.6 L492 179.2 L493.9 178.9 L495.8 178.6 L497.6 178.3 L499.5 178.1 L501.4 177.8 L503.3 177.6 L505.2 177.4 L507.1 177.2 L509 177 L510.8 176.8 L512.7 176.6 L514.6 176.4 L516.5 176.3 L518.4 176.2 L520.3 176.1 L522.2 176 L524.1 176 L525.9 175.9 L527.8 175.8 L529.7 175.8 L531.6 175.8 L533.5 175.8 L535.4 175.8 L537.3 175.8 L539.1 175.8 L541 175.8 L542.9 175.8 L544.8 175.8 L546.7 175.8 L548.6 175.8 L550.5 175.9 L552.4 175.9 L554.2 176 L556.1 176.1 L558 176.1 L559.9 176.2 L561.8 176.4 L563.7 176.7 L565.6 177 L567.4 177.5 L569.3 177.9 L571.2 178.4 L573.1 178.9 L575 179.3 L576.9 179.8 L578.8 180.3 L580.7 180.8 L582.5 181.3 L584.4 181.9 L586.3 182.4 L588.2 182.9 L590.1 183.4 L592 183.8 L593.9 184.2 L595.7 184.7 L597.6 185.1 L599.5 185.5 L601.4 185.9 L603.3 186.2 L605.2 186.6 L607.1 186.9 L609 187.1 L610.8 187.4 L612.7 187.7 L614.6 187.9 L616.5 188.1 M446.7 206.1 L448.6 205.9 L450.5 205.7 L452.4 205.4 L454.2 205.2 L456.1 205 L458 204.8 L459.9 204.5 L461.8 204.3 L463.7 204.1 L465.6 203.8 L467.5 203.6 L469.3 203.4 L471.2 203.2 L473.1 202.9 L475 202.7 L476.9 202.5 L478.8 202.3 L480.7 202 L482.5 201.8 L484.4 201.6 L486.3 201.4 L488.2 201.1 L490.1 200.9 L492 200.7 L493.9 200.5 L495.8 200.3 L497.6 200 L499.5 199.8 L501.4 199.6 L503.3 199.4 L505.2 199.2 L507.1 199 L509 198.7 L510.8 198.5 L512.7 198.3 L514.6 198.1 L516.5 197.8 L518.4 197.6 L520.3 197.3 L522.2 197 L524.1 196.8 L525.9 196.5 L527.8 196.3 L529.7 196.1 L531.6 195.9 L533.5 195.7 L535.4 195.5 L537.3 195.3 L539.1 195.2 L541 195.1 L542.9 195.1 L544.8 195.1 L546.7 195.1 L548.6 195.3 L550.5 195.5 L552.4 195.9 L554.2 196.2 L556.1 196.7 L558 197.1 L559.9 197.5 L561.8 198 L563.7 198.4 L565.6 198.8 L567.4 199.1 L569.3 199.5 L571.2 199.9 L573.1 200.3 L575 200.7 L576.9 201.1 L578.8 201.5 L580.7 201.9 L582.5 202.3 L584.4 202.6 L586.3 203 L588.2 203.3 L590.1 203.6 L592 203.8 L593.9 204 L595.7 204.3 L597.6 204.5 L599.5 204.7 L601.4 204.9 L603.3 205.1 L605.2 205.3 L607.1 205.5 L609 205.6 L610.8 205.8 L612.7 205.9 L614.6 206 L616.5 206.1" stroke="#1e1e1e" stroke-width="1.05" fill="none"/>
<path d="M446.7 172.8 L448.6 172.9 L450.5 173.1 L452.4 173.3 L454.2 173.6 L456.1 174 L458 174.4 L459.9 174.8 L461.8 175.3 L463.7 175.8 L465.6 176.4 L467.5 177.3 L469.3 178.2 L471.2 179.3 L473.1 180.3 L475 181.3 L476.9 182.2 L478.8 182.9 L480.7 183.7 L482.5 184.4 L484.4 185.1 L486.3 185.7 L488.2 186.3 L490.1 186.8 L492 187.2 L493.9 187.5 L495.8 187.9 L497.6 188.2 L499.5 188.5 L501.4 188.8 L503.3 189 L505.2 189.2 L507.1 189.3 L509 189.3 L510.8 189.3 L512.7 189.1 L514.6 188.9 L516.5 188.7 L518.4 188.4 L520.3 188 L522.2 187.7 L524.1 187.3 L525.9 187 L527.8 186.6 L529.7 186.3 L531.6 185.9 L533.5 185.6 L535.4 185.2 L537.3 184.8 L539.1 184.3 L541 183.8 L542.9 183.3 L544.8 182.7 L546.7 182.1 L548.6 181.2 L550.5 180.2 L552.4 179.2 L554.2 178.2 L556.1 177.2 L558 176.4 L559.9 175.7 L561.8 175.2 L563.7 174.7 L565.6 174.2 L567.4 173.8 L569.3 173.5 L571.2 173.1 L573.1 172.8 L575 172.5 L576.9 172.2 L578.8 172 L580.7 171.7 L582.5 171.5 L584.4 171.4 L586.3 171.2 L588.2 171.1 L590.1 170.9 L592 170.8 L593.9 170.6 L595.7 170.5 L597.6 170.4 L599.5 170.4 L601.4 170.3 L603.3 170.3 L605.2 170.3 L607.1 170.3 L609 170.3 L610.8 170.3 L612.7 170.3 L614.6 170.3 L616.5 170.3" stroke="#1e1e1e" stroke-width="1.0" fill="none"/>
<path d="M446.7 172.8 L448.6 172.9 L450.5 173.1 L452.4 173.4 L454.2 173.8 L456.1 174.2 L458 174.6 L459.9 175.1 L461.8 175.7 L463.7 176.2 L465.6 176.9 L467.5 177.8 L469.3 178.8 L471.2 179.9 L473.1 181 L475 182.1 L476.9 183 L478.8 183.8 L480.7 184.7 L482.5 185.5 L484.4 186.2 L486.3 187 L488.2 187.6 L490.1 188.3 L492 188.8 L493.9 189.2 L495.8 189.7 L497.6 190.2 L499.5 190.6 L501.4 191 L503.3 191.3 L505.2 191.6 L507.1 191.7 L509 191.8 L510.8 191.7 L512.7 191.5 L514.6 191.2 L516.5 190.7 L518.4 190.3 L520.3 189.8 L522.2 189.2 L524.1 188.7 L525.9 188.2 L527.8 187.8 L529.7 187.2 L531.6 186.6 L533.5 185.9 L535.4 185.3 L537.3 184.7 L539.1 184.2 L541 183.8 L542.9 183.5 L544.8 183.4 L546.7 183.5 L548.6 183.7 L550.5 184 L552.4 184.4 L554.2 184.7 L556.1 185.1 L558 185.4 L559.9 185.7 L561.8 185.9 L563.7 186.1 L565.6 186.3 L567.4 186.4 L569.3 186.5 L571.2 186.4 L573.1 186.2 L575 185.8 L576.9 185.3 L578.8 184.8 L580.7 184.1 L582.5 183.5 L584.4 182.8 L586.3 182.2 L588.2 181.5 L590.1 180.6 L592 179.7 L593.9 178.8 L595.7 177.9 L597.6 177 L599.5 176.2 L601.4 175.5 L603.3 175 L605.2 174.5 L607.1 174.1 L609 173.7 L610.8 173.3 L612.7 173 L614.6 172.7 L616.5 172.5" stroke="#1e1e1e" stroke-width="1.0" fill="none"/>
</g>
</defs>
<rect width="685" height="916" fill="#fff"/>
<path d="M51.5 61H235.5 M51.5 102H235.5 M51.5 143H235.5 M51.5 184H235.5 M118.8 20V225 M157.7 20V225" stroke="#d0d0d0" stroke-width="0.8" stroke-dasharray="0.9 1.16" fill="none"/>
<g clip-path="url(#cp00)"><g filter="url(#bl)">
<path d="M51.5 108.6 L53.2 107.7 L54.9 107.4 L56.6 107.2 L58.3 107 L60 106.9 L61.7 106.8 L63.3 106.6 L65 106.5 L66.7 106.4 L68.4 106.3 L70.1 106.2 L71.8 106.1 L73.5 106 L75.2 105.9 L76.9 105.8 L78.6 105.7 L80.3 105.6 L82 105.6 L83.7 105.5 L85.4 105.4 L87 105.3 L88.7 105.2 L90.4 105.2 L92.1 105.1 L93.8 105 L95.5 104.9 L97.2 104.8 L98.9 104.8 L100.6 104.7 L102.3 104.6 L104 104.6 L105.7 104.5 L107.4 104.5 L109.1 104.4 L110.7 104.4 L112.4 104.4 L114.1 104.4 L115.8 104.4 L117.5 104.4 L119.2 104.5 L120.9 104.5 L122.6 104.6 L124.3 104.6 L126 104.7 L127.7 104.8 L129.4 104.9 L131.1 105.1 L132.8 105.2 L134.4 105.5 L136.1 106.4 L136.1 106.4 L134.4 107.2 L132.8 107.3 L131.1 107.4 L129.4 107.5 L127.7 107.5 L126 107.6 L124.3 107.6 L122.6 107.7 L120.9 107.7 L119.2 107.7 L117.5 107.8 L115.8 107.8 L114.1 107.9 L112.4 108 L110.7 108 L109.1 108.1 L107.4 108.2 L105.7 108.3 L104 108.3 L102.3 108.4 L100.6 108.5 L98.9 108.6 L97.2 108.7 L95.5 108.8 L93.8 108.9 L92.1 108.9 L90.4 109 L88.7 109.1 L87 109.1 L85.4 109.2 L83.7 109.2 L82 109.3 L80.3 109.3 L78.6 109.4 L76.9 109.4 L75.2 109.5 L73.5 109.5 L71.8 109.5 L70.1 109.5 L68.4 109.6 L66.7 109.6 L65 109.6 L63.3 109.6 L61.7 109.6 L60 109.6 L58.3 109.6 L56.6 109.5 L54.9 109.5 L53.2 109.3 L51.5 108.6Z" fill="#0000ff" fill-opacity="0.9"/>
<path d="M130.6 105.2 L132.3 104.1 L134 103.9 L135.7 103.7 L137.4 103.6 L139.1 103.6 L140.8 103.5 L142.5 103.5 L144.2 103.5 L145.9 103.5 L147.5 103.5 L149.2 103.5 L150.9 103.6 L152.6 103.6 L154.3 103.7 L156 103.7 L157.7 103.8 L159.4 103.9 L161.1 104 L162.8 104.1 L164.5 104.2 L166.2 104.3 L167.9 104.5 L169.6 104.7 L171.2 105 L172.9 106.2 L172.9 106.2 L171.2 107.4 L169.6 107.6 L167.9 107.8 L166.2 107.9 L164.5 107.9 L162.8 108 L161.1 108 L159.4 108 L157.7 108.1 L156 108.1 L154.3 108 L152.6 108 L150.9 108 L149.2 107.9 L147.5 107.8 L145.9 107.8 L144.2 107.7 L142.5 107.6 L140.8 107.4 L139.1 107.3 L137.4 107.2 L135.7 107 L134 106.8 L132.3 106.4 L130.6 105.2Z" fill="#ff0000" fill-opacity="0.9"/>
<path d="M165.6 107.1 L167.3 106.2 L169 106.1 L170.7 105.9 L172.4 105.9 L174.1 105.8 L175.8 105.8 L177.5 105.7 L179.2 105.7 L180.9 105.7 L182.6 105.7 L184.3 105.7 L186 105.7 L187.7 105.7 L189.5 105.7 L191.2 105.7 L192.9 105.7 L194.6 105.7 L196.3 105.8 L198 105.8 L199.7 105.8 L201.4 105.9 L203.1 105.9 L204.8 106 L206.5 106 L208.2 106.1 L209.9 106.1 L211.6 106.2 L213.3 106.2 L215 106.3 L216.7 106.4 L218.4 106.4 L220.2 106.5 L221.9 106.6 L223.6 106.7 L225.3 106.8 L227 106.9 L228.7 107.1 L230.4 107.2 L232.1 107.4 L233.8 107.6 L235.5 108.6 L235.5 108.6 L233.8 109.4 L232.1 109.6 L230.4 109.7 L228.7 109.7 L227 109.8 L225.3 109.8 L223.6 109.9 L221.9 109.9 L220.2 109.9 L218.4 109.9 L216.7 109.9 L215 109.9 L213.3 109.9 L211.6 109.9 L209.9 109.9 L208.2 109.8 L206.5 109.8 L204.8 109.8 L203.1 109.8 L201.4 109.7 L199.7 109.7 L198 109.6 L196.3 109.6 L194.6 109.6 L192.9 109.5 L191.2 109.5 L189.5 109.4 L187.7 109.3 L186 109.3 L184.3 109.2 L182.6 109.1 L180.9 109.1 L179.2 109 L177.5 108.9 L175.8 108.8 L174.1 108.7 L172.4 108.6 L170.7 108.4 L169 108.2 L167.3 108 L165.6 107.1Z" fill="#0000ff" fill-opacity="0.9"/>
<path d="M51.5 112.7 L53.2 111.9 L54.9 111.7 L56.6 111.5 L58.3 111.3 L60 111.1 L61.7 110.9 L63.4 110.8 L65.1 110.6 L66.8 110.5 L68.6 110.4 L70.3 110.2 L72 110.1 L73.7 110 L75.4 109.9 L77.1 109.7 L78.8 109.6 L80.5 109.5 L82.2 109.4 L83.9 109.3 L85.6 109.2 L87.3 109.1 L89 109 L90.7 108.8 L92.4 108.7 L94.1 108.6 L95.8 108.5 L97.5 108.4 L99.3 108.3 L101 108.2 L102.7 108.1 L104.4 108 L106.1 107.9 L107.8 107.8 L109.5 107.8 L111.2 107.7 L112.9 107.7 L114.6 107.7 L116.3 107.7 L118 107.8 L119.7 107.9 L121.4 108.5 L121.4 108.5 L119.7 109.2 L118 109.4 L116.3 109.5 L114.6 109.6 L112.9 109.8 L111.2 109.9 L109.5 110 L107.8 110.2 L106.1 110.3 L104.4 110.5 L102.7 110.6 L101 110.7 L99.3 110.9 L97.5 111 L95.8 111.2 L94.1 111.3 L92.4 111.4 L90.7 111.6 L89 111.7 L87.3 111.8 L85.6 111.9 L83.9 112 L82.2 112.1 L80.5 112.2 L78.8 112.3 L77.1 112.4 L75.4 112.5 L73.7 112.6 L72 112.7 L70.3 112.8 L68.6 112.8 L66.8 112.9 L65.1 113 L63.4 113 L61.7 113.1 L60 113.1 L58.3 113.2 L56.6 113.2 L54.9 113.2 L53.2 113.2 L51.5 112.7Z" fill="#ff0000" fill-opacity="0.9"/>
<path d="M134.3 108.3 L136 107.5 L137.7 107.3 L139.3 107.2 L141 107.1 L142.7 107 L144.4 107 L146.1 106.9 L147.7 106.9 L149.4 106.8 L151.1 106.8 L152.8 106.8 L154.5 106.8 L156.1 106.8 L157.8 106.8 L159.5 106.8 L161.2 106.9 L162.9 107 L164.5 107.1 L166.2 107.2 L167.9 107.4 L169.6 107.6 L171.3 107.9 L172.9 108.7 L172.9 108.7 L171.3 109.4 L169.6 109.5 L167.9 109.5 L166.2 109.5 L164.5 109.5 L162.9 109.5 L161.2 109.5 L159.5 109.5 L157.8 109.5 L156.1 109.5 L154.5 109.5 L152.8 109.5 L151.1 109.5 L149.4 109.5 L147.7 109.5 L146.1 109.5 L144.4 109.5 L142.7 109.4 L141 109.4 L139.3 109.3 L137.7 109.2 L136 109 L134.3 108.3Z" fill="#0000ff" fill-opacity="0.9"/>
<path d="M180.3 109.3 L182 108.7 L183.6 108.7 L185.3 108.7 L187 108.8 L188.7 108.9 L190.3 108.9 L192 109 L193.7 109.1 L195.4 109.2 L197 109.2 L198.7 109.3 L200.4 109.4 L202 109.4 L203.7 109.5 L205.4 109.6 L207.1 109.7 L208.7 109.7 L210.4 109.8 L212.1 109.9 L213.8 110 L215.4 110.1 L217.1 110.2 L218.8 110.3 L220.4 110.4 L222.1 110.5 L223.8 110.6 L225.5 110.7 L227.1 110.8 L228.8 111 L230.5 111.1 L232.2 111.3 L233.8 111.5 L235.5 112.2 L235.5 112.3 L233.8 112.9 L232.2 113 L230.5 113 L228.8 113 L227.1 113 L225.5 113 L223.8 113 L222.1 112.9 L220.4 112.9 L218.8 112.9 L217.1 112.8 L215.4 112.8 L213.8 112.7 L212.1 112.6 L210.4 112.6 L208.7 112.5 L207.1 112.4 L205.4 112.3 L203.7 112.2 L202 112.1 L200.4 112 L198.7 111.9 L197 111.8 L195.4 111.7 L193.7 111.5 L192 111.4 L190.3 111.2 L188.7 111 L187 110.8 L185.3 110.6 L183.6 110.4 L182 110.1 L180.3 109.3Z" fill="#ff0000" fill-opacity="0.9"/>
<path d="M79.1 118.9 L80.8 117.6 L82.5 117.3 L84.2 117.2 L85.9 117.1 L87.6 117.1 L89.4 117.1 L91.1 117.1 L92.8 117.2 L94.5 117.3 L96.2 117.4 L97.9 117.6 L99.6 117.8 L101.3 118.2 L103 119.6 L103 119.6 L101.3 121 L99.6 121.2 L97.9 121.4 L96.2 121.5 L94.5 121.5 L92.8 121.5 L91.1 121.5 L89.4 121.4 L87.6 121.3 L85.9 121.2 L84.2 121 L82.5 120.8 L80.8 120.4 L79.1 118.9Z" fill="#0000ff" fill-opacity="0.9"/>
<path d="M182.1 118.3 L183.8 116.9 L185.6 116.6 L187.3 116.3 L189 116.2 L190.7 116.1 L192.4 116 L194.1 116 L195.8 116 L197.5 116 L199.2 116.1 L200.9 116.2 L202.6 116.4 L204.4 116.7 L206.1 118.1 L206.1 118.1 L204.4 119.5 L202.6 119.8 L200.9 120 L199.2 120.2 L197.5 120.3 L195.8 120.4 L194.1 120.4 L192.4 120.4 L190.7 120.4 L189 120.3 L187.3 120.2 L185.6 120 L183.8 119.7 L182.1 118.3Z" fill="#0000ff" fill-opacity="0.9"/>
<path d="M184 120 L185.7 119.5 L187.4 119.4 L189.1 119.3 L190.8 119.3 L192.5 119.2 L194.2 119.2 L195.9 119.2 L197.6 119.2 L199.3 119.3 L201 119.3 L202.7 119.4 L204.4 119.5 L206.1 120 L206.1 120 L204.4 120.6 L202.7 120.7 L201 120.8 L199.3 120.8 L197.6 120.8 L195.9 120.9 L194.2 120.9 L192.5 120.8 L190.8 120.8 L189.1 120.8 L187.4 120.7 L185.7 120.6 L184 120Z" fill="#ff0000" fill-opacity="0.9"/>
<path d="M51.5 127.4 L53.2 126.4 L54.8 126.2 L56.5 126 L58.2 125.8 L59.9 125.7 L61.5 125.6 L63.2 125.5 L64.9 125.4 L66.6 125.3 L68.2 125.2 L69.9 125.1 L71.6 125 L73.2 124.9 L74.9 124.9 L76.6 124.8 L78.3 124.7 L79.9 124.7 L81.6 124.6 L83.3 124.6 L85 124.5 L86.6 124.5 L88.3 124.4 L90 124.4 L91.6 124.3 L93.3 124.3 L95 124.2 L96.7 124.2 L98.3 124.2 L100 124.1 L101.7 124.1 L103.4 124.1 L105 124.1 L106.7 124 L108.4 124 L110 124 L111.7 124 L113.4 124 L115.1 124 L116.7 124 L118.4 124 L120.1 124 L121.8 124 L123.4 124 L125.1 124 L126.8 124 L128.4 124 L130.1 124 L131.8 124.1 L133.5 124.1 L135.1 124.1 L136.8 124.2 L138.5 124.3 L140.2 124.4 L141.8 124.6 L143.5 125.5 L143.5 125.5 L141.8 126.5 L140.2 126.7 L138.5 126.9 L136.8 127 L135.1 127.2 L133.5 127.3 L131.8 127.4 L130.1 127.5 L128.4 127.6 L126.8 127.7 L125.1 127.7 L123.4 127.8 L121.8 127.9 L120.1 128 L118.4 128 L116.7 128.1 L115.1 128.1 L113.4 128.2 L111.7 128.2 L110 128.3 L108.4 128.3 L106.7 128.4 L105 128.4 L103.4 128.5 L101.7 128.5 L100 128.5 L98.3 128.6 L96.7 128.6 L95 128.6 L93.3 128.7 L91.6 128.7 L90 128.7 L88.3 128.7 L86.6 128.8 L85 128.8 L83.3 128.8 L81.6 128.8 L79.9 128.8 L78.3 128.8 L76.6 128.9 L74.9 128.9 L73.2 128.9 L71.6 128.9 L69.9 128.9 L68.2 128.8 L66.6 128.8 L64.9 128.8 L63.2 128.8 L61.5 128.8 L59.9 128.7 L58.2 128.7 L56.5 128.6 L54.8 128.5 L53.2 128.3 L51.5 127.4Z" fill="#0000ff" fill-opacity="0.9"/>
<path d="M171.1 125.6 L172.8 124.6 L174.5 124.4 L176.2 124.3 L177.9 124.2 L179.6 124.2 L181.3 124.2 L183 124.2 L184.7 124.2 L186.4 124.2 L188 124.2 L189.7 124.2 L191.4 124.3 L193.1 124.3 L194.8 124.3 L196.5 124.4 L198.2 124.4 L199.9 124.4 L201.6 124.5 L203.3 124.5 L205 124.6 L206.7 124.7 L208.4 124.7 L210.1 124.8 L211.8 124.9 L213.5 125 L215.2 125 L216.9 125.1 L218.6 125.2 L220.2 125.3 L221.9 125.5 L223.6 125.6 L225.3 125.7 L227 125.9 L228.7 126 L230.4 126.2 L232.1 126.4 L233.8 126.7 L235.5 127.8 L235.5 127.8 L233.8 128.8 L232.1 129 L230.4 129.1 L228.7 129.2 L227 129.2 L225.3 129.2 L223.6 129.3 L221.9 129.3 L220.2 129.3 L218.6 129.3 L216.9 129.2 L215.2 129.2 L213.5 129.2 L211.8 129.2 L210.1 129.1 L208.4 129.1 L206.7 129 L205 129 L203.3 128.9 L201.6 128.9 L199.9 128.8 L198.2 128.8 L196.5 128.7 L194.8 128.6 L193.1 128.5 L191.4 128.4 L189.7 128.3 L188 128.2 L186.4 128.1 L184.7 128 L183 127.8 L181.3 127.7 L179.6 127.5 L177.9 127.4 L176.2 127.2 L174.5 127 L172.8 126.7 L171.1 125.6Z" fill="#0000ff" fill-opacity="0.9"/>
<path d="M51.5 132.5 L53.2 131.7 L54.9 131.4 L56.6 131.2 L58.3 131 L59.9 130.8 L61.6 130.6 L63.3 130.4 L65 130.2 L66.7 130 L68.4 129.8 L70.1 129.6 L71.8 129.5 L73.5 129.3 L75.2 129.1 L76.8 128.9 L78.5 128.7 L80.2 128.5 L81.9 128.3 L83.6 128.1 L85.3 127.9 L87 127.7 L88.7 127.6 L90.4 127.4 L92.1 127.3 L93.7 127.1 L95.4 127 L97.1 126.8 L98.8 126.7 L100.5 126.6 L102.2 126.4 L103.9 126.3 L105.6 126.2 L107.3 126.1 L109 126 L110.6 125.9 L112.3 125.9 L114 125.8 L115.7 125.8 L117.4 125.8 L119.1 125.8 L120.8 125.9 L122.5 125.9 L124.2 126 L125.9 126 L127.5 126.1 L129.2 126.2 L130.9 126.3 L132.6 126.5 L134.3 127.2 L134.3 127.2 L132.6 127.9 L130.9 128.1 L129.2 128.2 L127.5 128.3 L125.9 128.4 L124.2 128.4 L122.5 128.5 L120.8 128.5 L119.1 128.6 L117.4 128.6 L115.7 128.7 L114 128.8 L112.3 128.9 L110.6 129 L109 129.1 L107.3 129.2 L105.6 129.4 L103.9 129.5 L102.2 129.7 L100.5 129.8 L98.8 130 L97.1 130.1 L95.4 130.3 L93.7 130.4 L92.1 130.6 L90.4 130.7 L88.7 130.9 L87 131 L85.3 131.2 L83.6 131.3 L81.9 131.5 L80.2 131.6 L78.5 131.8 L76.8 132 L75.2 132.1 L73.5 132.3 L71.8 132.4 L70.1 132.5 L68.4 132.7 L66.7 132.8 L65 132.9 L63.3 133 L61.6 133 L59.9 133.1 L58.3 133.2 L56.6 133.2 L54.9 133.2 L53.2 133.2 L51.5 132.5Z" fill="#ff0000" fill-opacity="0.9"/>
<path d="M125.1 127.2 L126.8 126.7 L128.6 126.5 L130.3 126.5 L132 126.4 L133.7 126.3 L135.4 126.3 L137.2 126.3 L138.9 126.2 L140.6 126.2 L142.4 126.2 L144.1 126.2 L145.8 126.1 L147.5 126.1 L149.2 126.1 L151 126.1 L152.7 126.1 L154.4 126.1 L156.1 126.1 L157.9 126.1 L159.6 126.2 L161.3 126.2 L163.1 126.3 L164.8 126.3 L166.5 126.4 L168.2 126.5 L169.9 126.7 L171.7 126.8 L173.4 127 L175.1 127.2 L176.8 127.4 L178.6 127.7 L180.3 128.4 L180.3 128.4 L178.6 128.8 L176.8 128.8 L175.1 128.7 L173.4 128.6 L171.7 128.6 L169.9 128.5 L168.2 128.5 L166.5 128.4 L164.8 128.4 L163.1 128.3 L161.3 128.3 L159.6 128.3 L157.9 128.3 L156.1 128.3 L154.4 128.3 L152.7 128.3 L151 128.3 L149.2 128.3 L147.5 128.3 L145.8 128.3 L144.1 128.3 L142.4 128.3 L140.6 128.2 L138.9 128.2 L137.2 128.2 L135.4 128.1 L133.7 128.1 L132 128 L130.3 128 L128.6 127.9 L126.8 127.8 L125.1 127.2Z" fill="#ff0000" fill-opacity="0.9"/>
<path d="M180.3 133.8 L182 133 L183.6 132.8 L185.3 132.6 L187 132.5 L188.7 132.4 L190.3 132.3 L192 132.2 L193.7 132.2 L195.4 132.1 L197 132 L198.7 132 L200.4 131.9 L202 131.9 L203.7 131.9 L205.4 131.8 L207.1 131.8 L208.7 131.8 L210.4 131.8 L212.1 131.7 L213.8 131.7 L215.4 131.7 L217.1 131.7 L218.8 131.7 L220.4 131.7 L222.1 131.7 L223.8 131.8 L225.5 131.8 L227.1 131.8 L228.8 131.9 L230.5 131.9 L232.2 132 L233.8 132.2 L235.5 133 L235.5 133 L233.8 133.8 L232.2 134 L230.5 134.2 L228.8 134.3 L227.1 134.4 L225.5 134.5 L223.8 134.6 L222.1 134.7 L220.4 134.8 L218.8 134.8 L217.1 134.9 L215.4 134.9 L213.8 135 L212.1 135 L210.4 135 L208.7 135.1 L207.1 135.1 L205.4 135.1 L203.7 135.1 L202 135.1 L200.4 135.2 L198.7 135.2 L197 135.1 L195.4 135.1 L193.7 135.1 L192 135.1 L190.3 135.1 L188.7 135 L187 135 L185.3 134.9 L183.6 134.8 L182 134.6 L180.3 133.8Z" fill="#ff0000" fill-opacity="0.9"/>
<path d="M143.5 181.1 L145.3 180.1 L147 180 L148.8 180 L150.6 180.1 L152.4 180.1 L154.1 180.2 L155.9 180.2 L157.7 180.2 L159.5 180.3 L161.2 180.3 L163 180.4 L164.8 180.5 L166.6 180.8 L168.3 181.9 L168.3 181.9 L166.6 183.2 L164.8 183.5 L163 183.8 L161.2 183.9 L159.5 184 L157.7 184.1 L155.9 184.1 L154.1 184 L152.4 183.8 L150.6 183.6 L148.8 183.4 L147 183 L145.3 182.6 L143.5 181.1Z" fill="#0000ff" fill-opacity="0.9"/>
<path d="M169.3 181.9 L171 180.5 L172.8 180.2 L174.5 179.9 L176.3 179.8 L178 179.7 L179.8 179.7 L181.6 179.7 L183.3 179.8 L185.1 180 L186.8 180.4 L188.6 181.9 L188.6 181.9 L186.8 183 L185.1 183.2 L183.3 183.3 L181.6 183.4 L179.8 183.5 L178 183.5 L176.3 183.5 L174.5 183.5 L172.8 183.4 L171 183.1 L169.3 181.9Z" fill="#ff0000" fill-opacity="0.9"/>
<path d="M60.7 191 L62.5 189.5 L64.4 189.2 L66.2 189.1 L68.1 189 L69.9 189.1 L71.7 189.2 L73.6 189.5 L75.4 191 L75.4 191 L73.6 192.4 L71.7 192.7 L69.9 192.8 L68.1 192.9 L66.2 192.8 L64.4 192.7 L62.5 192.4 L60.7 191Z" fill="#0000ff" fill-opacity="0.9"/>
<path d="M62.5 193.1 L63.7 191.9 L64.8 191.5 L66 191.2 L67.1 190.9 L68.3 190.8 L69.4 190.6 L70.6 190.6 L71.7 191.4 L71.7 191.4 L70.6 192.7 L69.4 193.1 L68.3 193.4 L67.1 193.7 L66 193.9 L64.8 194 L63.7 193.9 L62.5 193.1Z" fill="#ff0000" fill-opacity="0.9"/>
<path d="M211.6 190.3 L213 188.9 L214.3 188.6 L215.7 188.5 L217.1 188.4 L218.5 188.5 L219.9 188.6 L221.2 188.9 L222.6 190.4 L222.6 190.4 L221.2 191.8 L219.9 192.1 L218.5 192.2 L217.1 192.3 L215.7 192.2 L214.3 192.1 L213 191.8 L211.6 190.3Z" fill="#0000ff" fill-opacity="0.9"/>
<path d="M213.4 200.2 L214.3 198.6 L215.3 198 L216.2 197.5 L217.1 197.2 L218 197 L218.9 197 L219.9 197.1 L220.8 198.3 L220.8 198.4 L219.9 199.6 L218.9 200 L218 200.3 L217.1 200.5 L216.2 200.8 L215.3 200.9 L214.3 201 L213.4 200.2Z" fill="#ff0000" fill-opacity="0.9"/>
<path d="M188.6 74.9 L188.9 73.7 L189.3 73.5 L189.6 73.5 L190 73.5 L190.3 73.6 L190.7 73.7 L191 74 L191.3 75.3 L191.3 75.3 L191 76.5 L190.7 76.7 L190.3 76.8 L190 76.8 L189.6 76.7 L189.3 76.5 L188.9 76.2 L188.6 74.9Z" fill="#0000ff" fill-opacity="0.9"/>
<path d="M189.1 75.6 L189.5 74.6 L189.8 74.2 L190.1 73.9 L190.4 73.6 L190.7 73.5 L191.1 73.3 L191.4 73.3 L191.7 73.9 L191.7 73.9 L191.4 74.9 L191.1 75.3 L190.7 75.6 L190.4 75.8 L190.1 76 L189.8 76.2 L189.5 76.2 L189.1 75.6Z" fill="#ff0000" fill-opacity="0.9"/>
<path d="M60.7 51.1 L62.5 51.1 L64.4 51.6 L66.2 52.3 L68.1 52.9 L69.9 53.5 L71.7 54.1 L73.6 54.8 L75.4 55.4 L77.3 56.1 L79.1 57.2 L79.1 57.2 L77.3 57.1 L75.4 56.6 L73.6 56 L71.7 55.4 L69.9 54.8 L68.1 54.2 L66.2 53.5 L64.4 52.7 L62.5 52 L60.7 51.1Z" fill="#ff0000" fill-opacity="0.9"/>
</g>
<use href="#bands0" y="0"/>
</g>
<rect x="51.5" y="20" width="184" height="205" fill="none" stroke="#111" stroke-width="0.9"/>
<path d="M48.3 20H51.5 M48.3 61H51.5 M48.3 102H51.5 M48.3 143H51.5 M48.3 184H51.5 M48.3 225H51.5 M51.5 225V228 M118.8 225V228 M157.7 225V228 M235.5 225V228" stroke="#111" stroke-width="0.9" fill="none"/>
<text x="57.1" y="36.6" font-size="14.8">(a)</text>
<path d="M51.5 285.5H235.5 M51.5 326.5H235.5 M51.5 367.5H235.5 M51.5 408.5H235.5 M118.8 244.5V449.5 M157.7 244.5V449.5" stroke="#d0d0d0" stroke-width="0.8" stroke-dasharray="0.9 1.16" fill="none"/>
<g clip-path="url(#cp01)"><g filter="url(#bl)">
<path d="M51.5 333.1 L53.2 332.2 L54.9 331.9 L56.6 331.7 L58.3 331.5 L60 331.4 L61.7 331.3 L63.3 331.1 L65 331 L66.7 330.9 L68.4 330.8 L70.1 330.7 L71.8 330.6 L73.5 330.5 L75.2 330.4 L76.9 330.3 L78.6 330.2 L80.3 330.1 L82 330.1 L83.7 330 L85.4 329.9 L87 329.8 L88.7 329.7 L90.4 329.7 L92.1 329.6 L93.8 329.5 L95.5 329.4 L97.2 329.3 L98.9 329.3 L100.6 329.2 L102.3 329.1 L104 329.1 L105.7 329 L107.4 329 L109.1 328.9 L110.7 328.9 L112.4 328.9 L114.1 328.9 L115.8 328.9 L117.5 328.9 L119.2 329 L120.9 329 L122.6 329.1 L124.3 329.1 L126 329.2 L127.7 329.3 L129.4 329.4 L131.1 329.6 L132.8 329.7 L134.4 330 L136.1 330.9 L136.1 330.9 L134.4 331.7 L132.8 331.8 L131.1 331.9 L129.4 332 L127.7 332 L126 332.1 L124.3 332.1 L122.6 332.2 L120.9 332.2 L119.2 332.2 L117.5 332.3 L115.8 332.3 L114.1 332.4 L112.4 332.5 L110.7 332.5 L109.1 332.6 L107.4 332.7 L105.7 332.8 L104 332.8 L102.3 332.9 L100.6 333 L98.9 333.1 L97.2 333.2 L95.5 333.3 L93.8 333.4 L92.1 333.4 L90.4 333.5 L88.7 333.6 L87 333.6 L85.4 333.7 L83.7 333.7 L82 333.8 L80.3 333.8 L78.6 333.9 L76.9 333.9 L75.2 334 L73.5 334 L71.8 334 L70.1 334 L68.4 334.1 L66.7 334.1 L65 334.1 L63.3 334.1 L61.7 334.1 L60 334.1 L58.3 334.1 L56.6 334 L54.9 334 L53.2 333.8 L51.5 333.1Z" fill="#0000ff" fill-opacity="0.9"/>
<path d="M130.6 329.7 L132.3 328.6 L134 328.4 L135.7 328.2 L137.4 328.2 L139.1 328.1 L140.8 328.1 L142.5 328 L144.2 328 L146 328 L147.7 328 L149.4 328 L151.1 328.1 L152.8 328.1 L154.5 328.1 L156.2 328.2 L157.9 328.3 L159.6 328.3 L161.3 328.4 L163 328.5 L164.7 328.6 L166.4 328.7 L168.1 328.8 L169.8 328.9 L171.5 329.1 L173.2 329.3 L174.9 329.6 L176.6 330.8 L176.6 330.8 L174.9 331.9 L173.2 332.1 L171.5 332.3 L169.8 332.4 L168.1 332.5 L166.4 332.5 L164.7 332.6 L163 332.6 L161.3 332.6 L159.6 332.6 L157.9 332.6 L156.2 332.6 L154.5 332.5 L152.8 332.5 L151.1 332.5 L149.4 332.4 L147.7 332.3 L146 332.2 L144.2 332.1 L142.5 332 L140.8 331.9 L139.1 331.8 L137.4 331.6 L135.7 331.4 L134 331.2 L132.3 330.9 L130.6 329.7Z" fill="#ff0000" fill-opacity="0.9"/>
<path d="M165.6 331.6 L167.3 330.7 L169 330.6 L170.7 330.4 L172.4 330.4 L174.1 330.3 L175.8 330.3 L177.5 330.2 L179.2 330.2 L180.9 330.2 L182.6 330.2 L184.3 330.2 L186 330.2 L187.7 330.2 L189.5 330.2 L191.2 330.2 L192.9 330.2 L194.6 330.2 L196.3 330.3 L198 330.3 L199.7 330.3 L201.4 330.4 L203.1 330.4 L204.8 330.5 L206.5 330.5 L208.2 330.6 L209.9 330.6 L211.6 330.7 L213.3 330.7 L215 330.8 L216.7 330.9 L218.4 330.9 L220.2 331 L221.9 331.1 L223.6 331.2 L225.3 331.3 L227 331.4 L228.7 331.6 L230.4 331.7 L232.1 331.9 L233.8 332.1 L235.5 333.1 L235.5 333.1 L233.8 333.9 L232.1 334.1 L230.4 334.2 L228.7 334.2 L227 334.3 L225.3 334.3 L223.6 334.4 L221.9 334.4 L220.2 334.4 L218.4 334.4 L216.7 334.4 L215 334.4 L213.3 334.4 L211.6 334.4 L209.9 334.4 L208.2 334.3 L206.5 334.3 L204.8 334.3 L203.1 334.3 L201.4 334.2 L199.7 334.2 L198 334.1 L196.3 334.1 L194.6 334.1 L192.9 334 L191.2 334 L189.5 333.9 L187.7 333.8 L186 333.8 L184.3 333.7 L182.6 333.6 L180.9 333.6 L179.2 333.5 L177.5 333.4 L175.8 333.3 L174.1 333.2 L172.4 333.1 L170.7 332.9 L169 332.7 L167.3 332.5 L165.6 331.6Z" fill="#0000ff" fill-opacity="0.9"/>
<path d="M51.5 337.2 L53.2 336.4 L54.9 336.2 L56.6 336 L58.3 335.8 L60 335.6 L61.7 335.4 L63.4 335.3 L65.1 335.1 L66.8 335 L68.6 334.9 L70.3 334.7 L72 334.6 L73.7 334.5 L75.4 334.4 L77.1 334.2 L78.8 334.1 L80.5 334 L82.2 333.9 L83.9 333.8 L85.6 333.7 L87.3 333.6 L89 333.5 L90.7 333.3 L92.4 333.2 L94.1 333.1 L95.8 333 L97.5 332.9 L99.3 332.8 L101 332.7 L102.7 332.6 L104.4 332.5 L106.1 332.4 L107.8 332.3 L109.5 332.3 L111.2 332.2 L112.9 332.2 L114.6 332.2 L116.3 332.2 L118 332.3 L119.7 332.4 L121.4 333 L121.4 333 L119.7 333.7 L118 333.9 L116.3 334 L114.6 334.1 L112.9 334.3 L111.2 334.4 L109.5 334.5 L107.8 334.7 L106.1 334.8 L104.4 335 L102.7 335.1 L101 335.2 L99.3 335.4 L97.5 335.5 L95.8 335.7 L94.1 335.8 L92.4 335.9 L90.7 336.1 L89 336.2 L87.3 336.3 L85.6 336.4 L83.9 336.5 L82.2 336.6 L80.5 336.7 L78.8 336.8 L77.1 336.9 L75.4 337 L73.7 337.1 L72 337.2 L70.3 337.3 L68.6 337.3 L66.8 337.4 L65.1 337.5 L63.4 337.5 L61.7 337.6 L60 337.6 L58.3 337.7 L56.6 337.7 L54.9 337.7 L53.2 337.7 L51.5 337.2Z" fill="#ff0000" fill-opacity="0.9"/>
<path d="M134.3 332.8 L136 332 L137.7 331.8 L139.3 331.7 L141 331.6 L142.7 331.5 L144.4 331.5 L146.1 331.4 L147.7 331.4 L149.4 331.3 L151.1 331.3 L152.8 331.3 L154.5 331.3 L156.1 331.3 L157.8 331.3 L159.5 331.3 L161.2 331.4 L162.9 331.5 L164.5 331.6 L166.2 331.7 L167.9 331.9 L169.6 332.1 L171.3 332.4 L172.9 333.2 L172.9 333.2 L171.3 333.9 L169.6 334 L167.9 334 L166.2 334 L164.5 334 L162.9 334 L161.2 334 L159.5 334 L157.8 334 L156.1 334 L154.5 334 L152.8 334 L151.1 334 L149.4 334 L147.7 334 L146.1 334 L144.4 334 L142.7 333.9 L141 333.9 L139.3 333.8 L137.7 333.7 L136 333.5 L134.3 332.8Z" fill="#0000ff" fill-opacity="0.9"/>
<path d="M180.3 333.8 L182 333.2 L183.6 333.2 L185.3 333.2 L187 333.3 L188.7 333.4 L190.3 333.4 L192 333.5 L193.7 333.6 L195.4 333.7 L197 333.7 L198.7 333.8 L200.4 333.9 L202 333.9 L203.7 334 L205.4 334.1 L207.1 334.2 L208.7 334.2 L210.4 334.3 L212.1 334.4 L213.8 334.5 L215.4 334.6 L217.1 334.7 L218.8 334.8 L220.4 334.9 L222.1 335 L223.8 335.1 L225.5 335.2 L227.1 335.3 L228.8 335.5 L230.5 335.6 L232.2 335.8 L233.8 336 L235.5 336.7 L235.5 336.8 L233.8 337.4 L232.2 337.5 L230.5 337.5 L228.8 337.5 L227.1 337.5 L225.5 337.5 L223.8 337.5 L222.1 337.4 L220.4 337.4 L218.8 337.4 L217.1 337.3 L215.4 337.3 L213.8 337.2 L212.1 337.1 L210.4 337.1 L208.7 337 L207.1 336.9 L205.4 336.8 L203.7 336.7 L202 336.6 L200.4 336.5 L198.7 336.4 L197 336.3 L195.4 336.2 L193.7 336 L192 335.9 L190.3 335.7 L188.7 335.5 L187 335.3 L185.3 335.1 L183.6 334.9 L182 334.6 L180.3 333.8Z" fill="#ff0000" fill-opacity="0.9"/>
<path d="M80.9 343.5 L82.6 342.1 L84.4 341.9 L86.1 341.7 L87.8 341.7 L89.5 341.6 L91.2 341.6 L92.9 341.6 L94.6 341.7 L96.3 341.8 L98 341.9 L99.7 342.1 L101.4 342.4 L103.2 342.7 L104.9 344.2 L104.9 344.2 L103.2 345.5 L101.4 345.8 L99.7 345.9 L98 346 L96.3 346.1 L94.6 346.1 L92.9 346 L91.2 346 L89.5 345.9 L87.8 345.7 L86.1 345.6 L84.4 345.3 L82.6 344.9 L80.9 343.5Z" fill="#0000ff" fill-opacity="0.9"/>
<path d="M80.9 344.7 L82.6 344 L84.3 343.9 L86 343.8 L87.7 343.8 L89.4 343.7 L91.1 343.7 L92.8 343.7 L94.5 343.8 L96.2 343.8 L97.9 343.9 L99.6 344 L101.3 344.2 L103 344.9 L103 344.9 L101.3 345.6 L99.6 345.8 L97.9 345.9 L96.2 345.9 L94.5 345.9 L92.8 345.9 L91.1 345.9 L89.4 345.9 L87.7 345.8 L86 345.7 L84.3 345.6 L82.6 345.4 L80.9 344.7Z" fill="#ff0000" fill-opacity="0.9"/>
<path d="M180.3 342.8 L182 341.4 L183.7 341.1 L185.5 340.9 L187.2 340.7 L188.9 340.6 L190.6 340.6 L192.3 340.5 L194 340.5 L195.8 340.5 L197.5 340.6 L199.2 340.6 L200.9 340.8 L202.6 340.9 L204.3 341.2 L206.1 342.6 L206.1 342.6 L204.3 344 L202.6 344.3 L200.9 344.5 L199.2 344.7 L197.5 344.8 L195.8 344.8 L194 344.9 L192.3 344.9 L190.6 344.9 L188.9 344.8 L187.2 344.8 L185.5 344.6 L183.7 344.5 L182 344.2 L180.3 342.8Z" fill="#0000ff" fill-opacity="0.9"/>
<path d="M184 344.5 L185.7 343.8 L187.4 343.7 L189.1 343.6 L190.8 343.5 L192.5 343.5 L194.2 343.4 L195.9 343.4 L197.6 343.5 L199.3 343.5 L201 343.6 L202.7 343.7 L204.4 343.8 L206.1 344.5 L206.1 344.5 L204.4 345.3 L202.7 345.4 L201 345.5 L199.3 345.6 L197.6 345.6 L195.9 345.6 L194.2 345.6 L192.5 345.6 L190.8 345.6 L189.1 345.5 L187.4 345.4 L185.7 345.3 L184 344.5Z" fill="#ff0000" fill-opacity="0.9"/>
<path d="M51.5 351.9 L53.2 350.9 L54.8 350.7 L56.5 350.5 L58.2 350.3 L59.9 350.2 L61.5 350.1 L63.2 350 L64.9 349.9 L66.6 349.8 L68.2 349.7 L69.9 349.6 L71.6 349.5 L73.2 349.4 L74.9 349.4 L76.6 349.3 L78.3 349.2 L79.9 349.2 L81.6 349.1 L83.3 349.1 L85 349 L86.6 349 L88.3 348.9 L90 348.9 L91.6 348.8 L93.3 348.8 L95 348.7 L96.7 348.7 L98.3 348.7 L100 348.6 L101.7 348.6 L103.4 348.6 L105 348.6 L106.7 348.5 L108.4 348.5 L110 348.5 L111.7 348.5 L113.4 348.5 L115.1 348.5 L116.7 348.5 L118.4 348.5 L120.1 348.5 L121.8 348.5 L123.4 348.5 L125.1 348.5 L126.8 348.5 L128.4 348.5 L130.1 348.5 L131.8 348.6 L133.5 348.6 L135.1 348.6 L136.8 348.7 L138.5 348.8 L140.2 348.9 L141.8 349.1 L143.5 350 L143.5 350 L141.8 351 L140.2 351.2 L138.5 351.4 L136.8 351.5 L135.1 351.7 L133.5 351.8 L131.8 351.9 L130.1 352 L128.4 352.1 L126.8 352.2 L125.1 352.2 L123.4 352.3 L121.8 352.4 L120.1 352.5 L118.4 352.5 L116.7 352.6 L115.1 352.6 L113.4 352.7 L111.7 352.7 L110 352.8 L108.4 352.8 L106.7 352.9 L105 352.9 L103.4 353 L101.7 353 L100 353 L98.3 353.1 L96.7 353.1 L95 353.1 L93.3 353.2 L91.6 353.2 L90 353.2 L88.3 353.2 L86.6 353.3 L85 353.3 L83.3 353.3 L81.6 353.3 L79.9 353.3 L78.3 353.3 L76.6 353.4 L74.9 353.4 L73.2 353.4 L71.6 353.4 L69.9 353.4 L68.2 353.3 L66.6 353.3 L64.9 353.3 L63.2 353.3 L61.5 353.3 L59.9 353.2 L58.2 353.2 L56.5 353.1 L54.8 353 L53.2 352.8 L51.5 351.9Z" fill="#0000ff" fill-opacity="0.9"/>
<path d="M165.6 349.9 L167.3 349 L169 348.8 L170.7 348.7 L172.4 348.6 L174.1 348.5 L175.8 348.5 L177.5 348.5 L179.2 348.5 L180.9 348.5 L182.6 348.5 L184.3 348.5 L186 348.6 L187.7 348.6 L189.5 348.6 L191.2 348.7 L192.9 348.7 L194.6 348.8 L196.3 348.8 L198 348.9 L199.7 348.9 L201.4 349 L203.1 349 L204.8 349.1 L206.5 349.2 L208.2 349.2 L209.9 349.3 L211.6 349.4 L213.3 349.5 L215 349.6 L216.7 349.7 L218.4 349.8 L220.2 349.9 L221.9 350 L223.6 350.1 L225.3 350.3 L227 350.4 L228.7 350.6 L230.4 350.7 L232.1 351 L233.8 351.3 L235.5 352.3 L235.5 352.3 L233.8 353.3 L232.1 353.5 L230.4 353.6 L228.7 353.6 L227 353.7 L225.3 353.7 L223.6 353.7 L221.9 353.7 L220.2 353.7 L218.4 353.7 L216.7 353.7 L215 353.7 L213.3 353.7 L211.6 353.6 L209.9 353.6 L208.2 353.6 L206.5 353.5 L204.8 353.5 L203.1 353.4 L201.4 353.4 L199.7 353.3 L198 353.3 L196.3 353.2 L194.6 353.1 L192.9 353.1 L191.2 353 L189.5 352.9 L187.7 352.8 L186 352.7 L184.3 352.6 L182.6 352.5 L180.9 352.3 L179.2 352.2 L177.5 352.1 L175.8 352 L174.1 351.8 L172.4 351.7 L170.7 351.5 L169 351.3 L167.3 351 L165.6 349.9Z" fill="#0000ff" fill-opacity="0.9"/>
<path d="M51.5 357 L53.2 356.2 L54.9 355.9 L56.6 355.7 L58.3 355.5 L59.9 355.3 L61.6 355.1 L63.3 354.9 L65 354.7 L66.7 354.5 L68.4 354.3 L70.1 354.1 L71.8 354 L73.5 353.8 L75.2 353.6 L76.8 353.4 L78.5 353.2 L80.2 353 L81.9 352.8 L83.6 352.6 L85.3 352.4 L87 352.2 L88.7 352.1 L90.4 351.9 L92.1 351.8 L93.7 351.6 L95.4 351.5 L97.1 351.3 L98.8 351.2 L100.5 351.1 L102.2 350.9 L103.9 350.8 L105.6 350.7 L107.3 350.6 L109 350.5 L110.6 350.4 L112.3 350.4 L114 350.3 L115.7 350.3 L117.4 350.3 L119.1 350.3 L120.8 350.4 L122.5 350.4 L124.2 350.5 L125.9 350.5 L127.5 350.6 L129.2 350.7 L130.9 350.8 L132.6 351 L134.3 351.7 L134.3 351.7 L132.6 352.4 L130.9 352.6 L129.2 352.7 L127.5 352.8 L125.9 352.9 L124.2 352.9 L122.5 353 L120.8 353 L119.1 353.1 L117.4 353.1 L115.7 353.2 L114 353.3 L112.3 353.4 L110.6 353.5 L109 353.6 L107.3 353.7 L105.6 353.9 L103.9 354 L102.2 354.2 L100.5 354.3 L98.8 354.5 L97.1 354.6 L95.4 354.8 L93.7 354.9 L92.1 355.1 L90.4 355.2 L88.7 355.4 L87 355.5 L85.3 355.7 L83.6 355.8 L81.9 356 L80.2 356.1 L78.5 356.3 L76.8 356.5 L75.2 356.6 L73.5 356.8 L71.8 356.9 L70.1 357 L68.4 357.2 L66.7 357.3 L65 357.4 L63.3 357.5 L61.6 357.5 L59.9 357.6 L58.3 357.7 L56.6 357.7 L54.9 357.7 L53.2 357.7 L51.5 357Z" fill="#ff0000" fill-opacity="0.9"/>
<path d="M134.3 351.7 L136 351.1 L137.7 351 L139.4 350.9 L141.1 350.9 L142.8 350.8 L144.5 350.8 L146.2 350.7 L147.9 350.7 L149.6 350.7 L151.3 350.6 L153 350.6 L154.7 350.6 L156.4 350.6 L158.2 350.6 L159.9 350.6 L161.6 350.7 L163.3 350.7 L165 350.8 L166.7 350.9 L168.4 351 L170.1 351.1 L171.8 351.3 L173.5 351.5 L175.2 351.7 L176.9 351.9 L178.6 352.1 L180.3 352.9 L180.3 352.9 L178.6 353.3 L176.9 353.3 L175.2 353.2 L173.5 353.2 L171.8 353.1 L170.1 353.1 L168.4 353 L166.7 353 L165 352.9 L163.3 352.9 L161.6 352.8 L159.9 352.8 L158.2 352.8 L156.4 352.8 L154.7 352.8 L153 352.8 L151.3 352.8 L149.6 352.8 L147.9 352.7 L146.2 352.7 L144.5 352.7 L142.8 352.6 L141.1 352.6 L139.4 352.5 L137.7 352.4 L136 352.3 L134.3 351.7Z" fill="#ff0000" fill-opacity="0.9"/>
<path d="M180.3 358.3 L182 357.5 L183.6 357.3 L185.3 357.1 L187 357 L188.7 356.9 L190.3 356.8 L192 356.7 L193.7 356.7 L195.4 356.6 L197 356.5 L198.7 356.5 L200.4 356.4 L202 356.4 L203.7 356.4 L205.4 356.3 L207.1 356.3 L208.7 356.3 L210.4 356.3 L212.1 356.2 L213.8 356.2 L215.4 356.2 L217.1 356.2 L218.8 356.2 L220.4 356.2 L222.1 356.2 L223.8 356.3 L225.5 356.3 L227.1 356.3 L228.8 356.4 L230.5 356.4 L232.2 356.5 L233.8 356.7 L235.5 357.5 L235.5 357.5 L233.8 358.3 L232.2 358.5 L230.5 358.7 L228.8 358.8 L227.1 358.9 L225.5 359 L223.8 359.1 L222.1 359.2 L220.4 359.3 L218.8 359.3 L217.1 359.4 L215.4 359.4 L213.8 359.5 L212.1 359.5 L210.4 359.5 L208.7 359.6 L207.1 359.6 L205.4 359.6 L203.7 359.6 L202 359.6 L200.4 359.7 L198.7 359.7 L197 359.6 L195.4 359.6 L193.7 359.6 L192 359.6 L190.3 359.6 L188.7 359.5 L187 359.5 L185.3 359.4 L183.6 359.3 L182 359.1 L180.3 358.3Z" fill="#ff0000" fill-opacity="0.9"/>
</g>
<use href="#bands0" y="224.5"/>
</g>
<rect x="51.5" y="244.5" width="184" height="205" fill="none" stroke="#111" stroke-width="0.9"/>
<path d="M48.3 244.5H51.5 M48.3 285.5H51.5 M48.3 326.5H51.5 M48.3 367.5H51.5 M48.3 408.5H51.5 M48.3 449.5H51.5 M51.5 449.5V452.5 M118.8 449.5V452.5 M157.7 449.5V452.5 M235.5 449.5V452.5" stroke="#111" stroke-width="0.9" fill="none"/>
<text x="57.1" y="261.1" font-size="14.8">(d)</text>
<path d="M51.5 510H235.5 M51.5 551H235.5 M51.5 592H235.5 M51.5 633H235.5 M118.8 469V674 M157.7 469V674" stroke="#d0d0d0" stroke-width="0.8" stroke-dasharray="0.9 1.16" fill="none"/>
<g clip-path="url(#cp02)"><g filter="url(#bl)">
<path d="M51.5 557.6 L53.2 557.2 L54.8 557 L56.5 556.9 L58.2 556.8 L59.9 556.7 L61.5 556.6 L63.2 556.5 L64.9 556.4 L66.6 556.3 L68.2 556.3 L69.9 556.2 L71.6 556.1 L73.2 556 L74.9 555.9 L76.6 555.9 L78.3 555.8 L79.9 555.7 L81.6 555.6 L83.3 555.6 L85 555.5 L86.6 555.4 L88.3 555.3 L90 555.3 L91.6 555.2 L93.3 555.1 L95 555 L96.7 554.9 L98.3 554.8 L100 554.7 L101.7 554.7 L103.4 554.6 L105 554.5 L106.7 554.4 L108.4 554.4 L110 554.3 L111.7 554.2 L113.4 554.2 L115.1 554.2 L116.7 554.2 L118.4 554.1 L120.1 554.1 L121.8 554.1 L123.4 554.1 L125.1 554.2 L126.8 554.2 L128.4 554.2 L130.1 554.2 L131.8 554.3 L133.5 554.3 L135.1 554.3 L136.8 554.4 L138.5 554.4 L140.2 554.5 L141.8 554.5 L143.5 554.6 L145.2 554.6 L146.8 554.7 L148.5 554.7 L150.2 554.8 L151.9 554.8 L153.5 554.8 L155.2 554.9 L156.9 554.9 L158.6 555 L160.2 555 L161.9 555 L163.6 555.1 L165.2 555.1 L166.9 555.1 L168.6 555.2 L170.3 555.2 L171.9 555.2 L173.6 555.3 L175.3 555.3 L177 555.4 L178.6 555.4 L180.3 555.4 L182 555.5 L183.6 555.5 L185.3 555.6 L187 555.6 L188.7 555.6 L190.3 555.7 L192 555.7 L193.7 555.8 L195.4 555.8 L197 555.9 L198.7 555.9 L200.4 555.9 L202 556 L203.7 556 L205.4 556.1 L207.1 556.1 L208.7 556.2 L210.4 556.2 L212.1 556.3 L213.8 556.3 L215.4 556.4 L217.1 556.4 L218.8 556.5 L220.4 556.6 L222.1 556.6 L223.8 556.7 L225.5 556.7 L227.1 556.8 L228.8 556.9 L230.5 557 L232.2 557.1 L233.8 557.2 L235.5 557.6 L235.5 557.6 L233.8 557.9 L232.2 557.9 L230.5 557.9 L228.8 557.9 L227.1 557.9 L225.5 557.9 L223.8 557.9 L222.1 557.9 L220.4 557.9 L218.8 557.9 L217.1 557.8 L215.4 557.8 L213.8 557.8 L212.1 557.8 L210.4 557.8 L208.7 557.7 L207.1 557.7 L205.4 557.7 L203.7 557.7 L202 557.6 L200.4 557.6 L198.7 557.6 L197 557.6 L195.4 557.5 L193.7 557.5 L192 557.5 L190.3 557.5 L188.7 557.4 L187 557.4 L185.3 557.4 L183.6 557.4 L182 557.3 L180.3 557.3 L178.6 557.3 L177 557.2 L175.3 557.2 L173.6 557.2 L171.9 557.2 L170.3 557.1 L168.6 557.1 L166.9 557.1 L165.2 557 L163.6 557 L161.9 557 L160.2 556.9 L158.6 556.9 L156.9 556.9 L155.2 556.8 L153.5 556.8 L151.9 556.8 L150.2 556.7 L148.5 556.7 L146.8 556.6 L145.2 556.6 L143.5 556.5 L141.8 556.5 L140.2 556.4 L138.5 556.4 L136.8 556.4 L135.1 556.3 L133.5 556.3 L131.8 556.2 L130.1 556.2 L128.4 556.2 L126.8 556.1 L125.1 556.1 L123.4 556.1 L121.8 556.1 L120.1 556.1 L118.4 556.1 L116.7 556.1 L115.1 556.1 L113.4 556.1 L111.7 556.1 L110 556.2 L108.4 556.2 L106.7 556.3 L105 556.3 L103.4 556.4 L101.7 556.5 L100 556.5 L98.3 556.6 L96.7 556.7 L95 556.8 L93.3 556.8 L91.6 556.9 L90 557 L88.3 557 L86.6 557.1 L85 557.1 L83.3 557.2 L81.6 557.2 L79.9 557.3 L78.3 557.3 L76.6 557.4 L74.9 557.4 L73.2 557.5 L71.6 557.5 L69.9 557.6 L68.2 557.6 L66.6 557.7 L64.9 557.7 L63.2 557.7 L61.5 557.8 L59.9 557.8 L58.2 557.8 L56.5 557.8 L54.8 557.9 L53.2 557.8 L51.5 557.6Z" fill="#ff0000" fill-opacity="0.9"/>
<path d="M51.5 561.7 L53.2 561.2 L54.8 561 L56.5 560.9 L58.2 560.7 L59.9 560.6 L61.5 560.4 L63.2 560.3 L64.9 560.2 L66.6 560.1 L68.2 559.9 L69.9 559.8 L71.6 559.7 L73.2 559.6 L74.9 559.5 L76.6 559.3 L78.3 559.2 L79.9 559.1 L81.6 559 L83.3 558.9 L85 558.8 L86.6 558.6 L88.3 558.5 L90 558.4 L91.6 558.3 L93.3 558.1 L95 558 L96.7 557.9 L98.3 557.8 L100 557.6 L101.7 557.5 L103.4 557.4 L105 557.3 L106.7 557.1 L108.4 557 L110 556.9 L111.7 556.9 L113.4 556.8 L115.1 556.7 L116.7 556.7 L118.4 556.6 L120.1 556.6 L121.8 556.5 L123.4 556.5 L125.1 556.5 L126.8 556.4 L128.4 556.4 L130.1 556.4 L131.8 556.4 L133.5 556.3 L135.1 556.3 L136.8 556.3 L138.5 556.3 L140.2 556.3 L141.8 556.2 L143.5 556.2 L145.2 556.2 L146.8 556.2 L148.5 556.2 L150.2 556.2 L151.9 556.2 L153.5 556.2 L155.2 556.2 L156.9 556.2 L158.6 556.2 L160.2 556.2 L161.9 556.2 L163.6 556.3 L165.2 556.3 L166.9 556.4 L168.6 556.5 L170.3 556.6 L171.9 556.7 L173.6 556.8 L175.3 557 L177 557.1 L178.6 557.2 L180.3 557.4 L182 557.5 L183.6 557.6 L185.3 557.8 L187 557.9 L188.7 558.1 L190.3 558.2 L192 558.3 L193.7 558.4 L195.4 558.6 L197 558.7 L198.7 558.8 L200.4 558.9 L202 559 L203.7 559.1 L205.4 559.1 L207.1 559.2 L208.7 559.3 L210.4 559.4 L212.1 559.5 L213.8 559.6 L215.4 559.7 L217.1 559.8 L218.8 559.9 L220.4 560 L222.1 560.1 L223.8 560.2 L225.5 560.3 L227.1 560.4 L228.8 560.5 L230.5 560.6 L232.2 560.7 L233.8 560.8 L235.5 561.2 L235.5 561.3 L233.8 561.5 L232.2 561.5 L230.5 561.5 L228.8 561.5 L227.1 561.5 L225.5 561.4 L223.8 561.4 L222.1 561.3 L220.4 561.3 L218.8 561.2 L217.1 561.2 L215.4 561.1 L213.8 561.1 L212.1 561 L210.4 560.9 L208.7 560.9 L207.1 560.8 L205.4 560.7 L203.7 560.7 L202 560.6 L200.4 560.5 L198.7 560.5 L197 560.4 L195.4 560.3 L193.7 560.2 L192 560.1 L190.3 560 L188.7 559.8 L187 559.7 L185.3 559.6 L183.6 559.5 L182 559.3 L180.3 559.2 L178.6 559.1 L177 559 L175.3 558.8 L173.6 558.7 L171.9 558.6 L170.3 558.5 L168.6 558.4 L166.9 558.3 L165.2 558.3 L163.6 558.2 L161.9 558.2 L160.2 558.1 L158.6 558.1 L156.9 558.1 L155.2 558.1 L153.5 558.1 L151.9 558.1 L150.2 558.2 L148.5 558.2 L146.8 558.2 L145.2 558.2 L143.5 558.2 L141.8 558.2 L140.2 558.2 L138.5 558.3 L136.8 558.3 L135.1 558.3 L133.5 558.3 L131.8 558.3 L130.1 558.4 L128.4 558.4 L126.8 558.4 L125.1 558.4 L123.4 558.5 L121.8 558.5 L120.1 558.5 L118.4 558.5 L116.7 558.6 L115.1 558.6 L113.4 558.7 L111.7 558.7 L110 558.8 L108.4 558.9 L106.7 559 L105 559.1 L103.4 559.2 L101.7 559.3 L100 559.4 L98.3 559.5 L96.7 559.7 L95 559.8 L93.3 559.9 L91.6 560 L90 560.1 L88.3 560.2 L86.6 560.3 L85 560.4 L83.3 560.5 L81.6 560.6 L79.9 560.7 L78.3 560.8 L76.6 560.9 L74.9 560.9 L73.2 561 L71.6 561.1 L69.9 561.2 L68.2 561.3 L66.6 561.4 L64.9 561.5 L63.2 561.5 L61.5 561.6 L59.9 561.7 L58.2 561.8 L56.5 561.8 L54.8 561.9 L53.2 561.9 L51.5 561.7Z" fill="#0000ff" fill-opacity="0.9"/>
<path d="M58.9 567 L60.6 565.8 L62.4 565.7 L64.1 565.6 L65.9 565.5 L67.6 565.5 L69.4 565.5 L71.1 565.5 L72.9 565.5 L74.6 565.6 L76.4 565.6 L78.1 565.7 L79.9 565.8 L81.6 565.9 L83.4 566 L85.1 566.1 L86.9 566.2 L88.7 566.4 L90.4 566.6 L92.2 566.8 L93.9 567.1 L95.7 568.4 L95.7 568.4 L93.9 569.6 L92.2 569.9 L90.4 570 L88.7 570.1 L86.9 570.1 L85.1 570.2 L83.4 570.2 L81.6 570.2 L79.9 570.1 L78.1 570.1 L76.4 570 L74.6 569.9 L72.9 569.8 L71.1 569.7 L69.4 569.6 L67.6 569.4 L65.9 569.2 L64.1 569 L62.4 568.7 L60.6 568.3 L58.9 567Z" fill="#ff0000" fill-opacity="0.9"/>
<path d="M95.7 568.4 L97.3 567.4 L99 567.2 L100.7 567.1 L102.4 567 L104.1 567 L105.7 566.9 L107.4 566.9 L109.1 566.8 L110.8 566.8 L112.4 566.8 L114.1 566.7 L115.8 566.7 L117.5 566.7 L119.2 566.6 L120.8 566.6 L122.5 566.5 L124.2 566.5 L125.9 566.4 L127.6 566.3 L129.2 566.3 L130.9 566.2 L132.6 566.1 L134.3 566 L135.9 565.9 L137.6 565.9 L139.3 565.8 L141 565.7 L142.7 565.6 L144.3 565.5 L146 565.5 L147.7 565.4 L149.4 565.4 L151.1 565.3 L152.7 565.3 L154.4 565.2 L156.1 565.2 L157.8 565.2 L159.4 565.2 L161.1 565.2 L162.8 565.2 L164.5 565.2 L166.2 565.2 L167.8 565.3 L169.5 565.3 L171.2 565.3 L172.9 565.3 L174.6 565.4 L176.2 565.4 L177.9 565.4 L179.6 565.5 L181.3 565.5 L182.9 565.6 L184.6 565.7 L186.3 565.8 L188 566 L189.7 566.2 L191.3 567.2 L191.3 567.2 L189.7 568.3 L188 568.5 L186.3 568.7 L184.6 568.8 L182.9 569 L181.3 569.1 L179.6 569.2 L177.9 569.3 L176.2 569.4 L174.6 569.4 L172.9 569.5 L171.2 569.6 L169.5 569.6 L167.8 569.7 L166.2 569.8 L164.5 569.8 L162.8 569.9 L161.1 569.9 L159.4 570 L157.8 570 L156.1 570 L154.4 570.1 L152.7 570.2 L151.1 570.2 L149.4 570.3 L147.7 570.4 L146 570.4 L144.3 570.5 L142.7 570.6 L141 570.6 L139.3 570.7 L137.6 570.8 L135.9 570.8 L134.3 570.9 L132.6 571 L130.9 571 L129.2 571 L127.6 571.1 L125.9 571.1 L124.2 571.1 L122.5 571.1 L120.8 571.1 L119.2 571.1 L117.5 571 L115.8 571 L114.1 570.9 L112.4 570.8 L110.8 570.8 L109.1 570.7 L107.4 570.6 L105.7 570.4 L104.1 570.3 L102.4 570.2 L100.7 570 L99 569.8 L97.3 569.5 L95.7 568.4Z" fill="#0000ff" fill-opacity="0.9"/>
<path d="M193.2 567.2 L194.9 565.9 L196.7 565.6 L198.4 565.4 L200.2 565.2 L201.9 565.1 L203.6 565 L205.4 565 L207.1 564.9 L208.9 564.9 L210.6 564.9 L212.4 564.9 L214.1 564.9 L215.8 565 L217.6 565 L219.3 565.1 L221.1 565.3 L222.8 565.4 L224.6 565.7 L226.3 567 L226.3 567 L224.6 568.3 L222.8 568.6 L221.1 568.8 L219.3 568.9 L217.6 569 L215.8 569.1 L214.1 569.2 L212.4 569.2 L210.6 569.3 L208.9 569.3 L207.1 569.3 L205.4 569.2 L203.6 569.2 L201.9 569.1 L200.2 569 L198.4 568.9 L196.7 568.7 L194.9 568.5 L193.2 567.2Z" fill="#ff0000" fill-opacity="0.9"/>
<path d="M51.5 576.4 L52.6 574.9 L53.8 574.6 L55 574.5 L56.1 574.4 L57.2 574.4 L58.4 574.5 L59.5 574.8 L60.7 576.2 L60.7 576.2 L59.5 577.7 L58.4 578 L57.2 578.2 L56.1 578.2 L55 578.2 L53.8 578.1 L52.6 577.8 L51.5 576.4Z" fill="#0000ff" fill-opacity="0.9"/>
<path d="M62.5 576.2 L64.2 575.1 L65.9 574.8 L67.6 574.6 L69.3 574.5 L71 574.3 L72.7 574.2 L74.4 574.1 L76.1 574 L77.8 573.9 L79.5 573.9 L81.2 573.8 L82.9 573.8 L84.6 573.7 L86.3 573.7 L88 573.7 L89.7 573.7 L91.4 573.7 L93.1 573.7 L94.8 573.7 L96.5 573.7 L98.2 573.8 L99.9 573.8 L101.6 573.9 L103.3 574 L105 574.2 L106.7 575.2 L106.7 575.2 L105 576.3 L103.3 576.5 L101.6 576.7 L99.9 576.9 L98.2 577 L96.5 577.1 L94.8 577.2 L93.1 577.3 L91.4 577.4 L89.7 577.4 L88 577.5 L86.3 577.5 L84.6 577.6 L82.9 577.6 L81.2 577.6 L79.5 577.7 L77.8 577.7 L76.1 577.7 L74.4 577.6 L72.7 577.6 L71 577.6 L69.3 577.5 L67.6 577.4 L65.9 577.3 L64.2 577.1 L62.5 576.2Z" fill="#ff0000" fill-opacity="0.9"/>
<path d="M51.5 581.5 L53.2 580.9 L54.8 580.6 L56.5 580.4 L58.2 580.3 L59.9 580.1 L61.5 579.9 L63.2 579.7 L64.9 579.6 L66.6 579.4 L68.2 579.2 L69.9 579.1 L71.6 578.9 L73.2 578.7 L74.9 578.5 L76.6 578.3 L78.3 578.2 L79.9 578 L81.6 577.8 L83.3 577.6 L85 577.5 L86.6 577.3 L88.3 577.2 L90 577.1 L91.6 577 L93.3 576.8 L95 576.7 L96.7 576.6 L98.3 576.5 L100 576.4 L101.7 576.3 L103.4 576.3 L105 576.3 L106.7 576.7 L106.7 576.7 L105 577.4 L103.4 577.6 L101.7 577.8 L100 578 L98.3 578.2 L96.7 578.4 L95 578.6 L93.3 578.8 L91.6 579 L90 579.2 L88.3 579.3 L86.6 579.5 L85 579.6 L83.3 579.8 L81.6 580 L79.9 580.2 L78.3 580.4 L76.6 580.5 L74.9 580.7 L73.2 580.9 L71.6 581 L69.9 581.2 L68.2 581.3 L66.6 581.4 L64.9 581.5 L63.2 581.6 L61.5 581.7 L59.9 581.8 L58.2 581.9 L56.5 581.9 L54.8 582 L53.2 582 L51.5 581.5Z" fill="#0000ff" fill-opacity="0.9"/>
<path d="M106.7 575.2 L108.1 573.5 L109.5 573.2 L110.8 573 L112.2 572.9 L113.6 572.9 L115 573.1 L116.4 573.4 L117.7 575 L117.7 575 L116.4 576.7 L115 577 L113.6 577.2 L112.2 577.3 L110.8 577.3 L109.5 577.1 L108.1 576.8 L106.7 575.2Z" fill="#0000ff" fill-opacity="0.9"/>
<path d="M161.9 574.4 L163.6 573 L165.3 572.7 L167 572.6 L168.7 572.5 L170.4 572.4 L172.2 572.4 L173.9 572.5 L175.6 572.5 L177.3 572.7 L179 572.8 L180.7 573 L182.4 573.3 L184.1 573.7 L185.8 575.1 L185.8 575.1 L184.1 576.5 L182.4 576.7 L180.7 576.8 L179 576.9 L177.3 576.9 L175.6 576.9 L173.9 576.9 L172.2 576.8 L170.4 576.7 L168.7 576.6 L167 576.4 L165.3 576.2 L163.6 575.8 L161.9 574.4Z" fill="#0000ff" fill-opacity="0.9"/>
<path d="M187.7 575.2 L189.4 574 L191.2 573.8 L192.9 573.7 L194.7 573.6 L196.4 573.6 L198.2 573.5 L199.9 573.5 L201.7 573.5 L203.4 573.6 L205.2 573.6 L206.9 573.7 L208.7 573.7 L210.4 573.8 L212.2 573.9 L213.9 574.1 L215.7 574.2 L217.5 574.4 L219.2 574.6 L221 574.8 L222.7 575.1 L224.5 576.4 L224.5 576.4 L222.7 577.6 L221 577.9 L219.2 578 L217.5 578.1 L215.7 578.1 L213.9 578.1 L212.2 578.1 L210.4 578.1 L208.7 578.1 L206.9 578.1 L205.2 578 L203.4 577.9 L201.7 577.8 L199.9 577.7 L198.2 577.6 L196.4 577.5 L194.7 577.3 L192.9 577.1 L191.2 576.9 L189.4 576.5 L187.7 575.2Z" fill="#ff0000" fill-opacity="0.9"/>
<path d="M187.7 578 L189.4 577.5 L191.2 577.5 L192.9 577.6 L194.7 577.6 L196.4 577.7 L198.2 577.8 L199.9 577.9 L201.7 578 L203.4 578.1 L205.2 578.3 L206.9 578.4 L208.7 578.5 L210.4 578.7 L212.2 578.8 L213.9 579 L215.7 579.2 L217.5 579.4 L219.2 579.6 L221 579.8 L222.7 580.1 L224.5 580.8 L224.5 580.8 L222.7 581.3 L221 581.3 L219.2 581.3 L217.5 581.2 L215.7 581.1 L213.9 581 L212.2 580.9 L210.4 580.8 L208.7 580.7 L206.9 580.6 L205.2 580.4 L203.4 580.3 L201.7 580.2 L199.9 580 L198.2 579.9 L196.4 579.7 L194.7 579.5 L192.9 579.3 L191.2 579 L189.4 578.8 L187.7 578Z" fill="#0000ff" fill-opacity="0.9"/>
<path d="M224.5 576.4 L225.8 575.1 L227.2 574.8 L228.6 574.7 L230 574.7 L231.4 574.8 L232.7 575 L234.1 575.3 L235.5 576.8 L235.5 576.8 L234.1 578.2 L232.7 578.5 L231.4 578.6 L230 578.6 L228.6 578.5 L227.2 578.3 L225.8 577.9 L224.5 576.4Z" fill="#0000ff" fill-opacity="0.9"/>
<path d="M134.3 627.3 L136 626.8 L137.7 627.2 L139.4 627.7 L141.1 628.2 L142.8 628.6 L144.5 628.8 L146.1 628.9 L147.8 629 L149.5 629.2 L151.2 629.3 L152.9 629.4 L154.6 629.4 L156.3 629.5 L158 629.5 L159.7 629.5 L161.4 629.5 L163.1 629.5 L164.8 629.5 L166.5 629.5 L168.2 629.5 L169.8 629.5 L171.5 629.6 L173.2 629.7 L174.9 629.8 L176.6 630.6 L176.6 630.6 L174.9 631.6 L173.2 631.8 L171.5 632 L169.8 632.2 L168.2 632.3 L166.5 632.5 L164.8 632.6 L163.1 632.7 L161.4 632.7 L159.7 632.8 L158 632.8 L156.3 632.8 L154.6 632.7 L152.9 632.7 L151.2 632.5 L149.5 632.4 L147.8 632.2 L146.1 632 L144.5 631.7 L142.8 631.4 L141.1 630.9 L139.4 630.2 L137.7 629.4 L136 628.6 L134.3 627.3Z" fill="#0000ff" fill-opacity="0.9"/>
<path d="M138 627.4 L139.8 627.3 L141.7 627.8 L143.5 628.1 L145.3 628.2 L147.2 628.5 L149 628.7 L150.9 629.1 L152.7 630 L152.7 630 L150.9 630.7 L149 630.7 L147.2 630.6 L145.3 630.4 L143.5 630.2 L141.7 629.7 L139.8 629 L138 627.4Z" fill="#ff0000" fill-opacity="0.9"/>
<path d="M62.5 640 L63.9 638.5 L65.3 638.2 L66.7 638.1 L68.1 638 L69.4 638.1 L70.8 638.2 L72.2 638.5 L73.6 640 L73.6 640 L72.2 641.4 L70.8 641.7 L69.4 641.8 L68.1 641.9 L66.7 641.8 L65.3 641.7 L63.9 641.4 L62.5 640Z" fill="#ff0000" fill-opacity="0.9"/>
<path d="M211.6 639.3 L212.5 637.9 L213.4 637.6 L214.3 637.4 L215.3 637.4 L216.2 637.5 L217.1 637.6 L218 637.9 L218.9 639.4 L218.9 639.4 L218 640.8 L217.1 641.1 L216.2 641.2 L215.3 641.3 L214.3 641.2 L213.4 641.1 L212.5 640.7 L211.6 639.3Z" fill="#ff0000" fill-opacity="0.9"/>
<path d="M213.4 649.2 L214.6 647.3 L215.7 646.6 L216.9 646.1 L218 645.7 L219.2 645.6 L220.3 645.6 L221.5 645.9 L222.6 647.4 L222.6 647.4 L221.5 648.8 L220.3 649.1 L219.2 649.3 L218 649.6 L216.9 649.8 L215.7 650 L214.6 650.2 L213.4 649.2Z" fill="#0000ff" fill-opacity="0.9"/>
</g>
<use href="#bands0" y="449"/>
</g>
<rect x="51.5" y="469" width="184" height="205" fill="none" stroke="#111" stroke-width="0.9"/>
<path d="M48.3 469H51.5 M48.3 510H51.5 M48.3 551H51.5 M48.3 592H51.5 M48.3 633H51.5 M48.3 674H51.5 M51.5 674V677 M118.8 674V677 M157.7 674V677 M235.5 674V677" stroke="#111" stroke-width="0.9" fill="none"/>
<text x="57.1" y="485.6" font-size="14.8">(g)</text>
<path d="M51.5 734.5H235.5 M51.5 775.5H235.5 M51.5 816.5H235.5 M51.5 857.5H235.5 M118.8 693.5V898.5 M157.7 693.5V898.5" stroke="#d0d0d0" stroke-width="0.8" stroke-dasharray="0.9 1.16" fill="none"/>
<g clip-path="url(#cp03)"><g filter="url(#bl)">
<path d="M51.5 723.4 L53.2 722.8 L54.9 722.9 L56.6 723 L58.3 723.2 L60 723.5 L61.7 723.7 L63.4 724.2 L65.1 724.8 L66.8 725.4 L68.5 726 L70.2 726.5 L71.9 727 L73.6 727.6 L75.3 728.1 L77 728.7 L78.7 729.2 L80.4 729.8 L82.1 730.4 L83.8 731.1 L85.5 731.7 L87.2 732.3 L88.9 732.9 L90.6 733.4 L92.3 733.9 L94 734.3 L95.7 734.7 L97.4 735.1 L99.1 735.5 L100.8 735.9 L102.5 736.2 L104.2 736.5 L105.9 736.8 L107.5 737 L109.2 737.3 L110.9 737.6 L112.6 737.9 L114.3 738.1 L116 738.4 L117.7 739.2 L117.7 739.2 L116 739.7 L114.3 739.7 L112.6 739.7 L110.9 739.5 L109.2 739.4 L107.5 739.2 L105.9 739 L104.2 738.8 L102.5 738.6 L100.8 738.3 L99.1 738.1 L97.4 737.7 L95.7 737.4 L94 737 L92.3 736.6 L90.6 736.1 L88.9 735.6 L87.2 735.1 L85.5 734.5 L83.8 733.8 L82.1 733.2 L80.4 732.5 L78.7 731.9 L77 731.4 L75.3 730.8 L73.6 730.2 L71.9 729.6 L70.2 729 L68.5 728.5 L66.8 727.8 L65.1 727.1 L63.4 726.5 L61.7 725.9 L60 725.5 L58.3 725.1 L56.6 724.8 L54.9 724.4 L53.2 724.1 L51.5 723.4Z" fill="#0000ff" fill-opacity="0.9"/>
<path d="M51.5 723.4 L53.2 723 L54.9 723 L56.6 723.2 L58.3 723.4 L60 723.7 L61.7 724 L63.4 724.6 L65.1 725.4 L66.8 726.3 L68.5 727 L70.2 727.7 L71.9 728.3 L73.6 729 L75.3 729.6 L77 730.3 L78.7 731 L80.4 731.8 L82.1 732.6 L83.8 733.4 L85.5 734.2 L87.2 735 L88.9 735.8 L90.6 736.6 L92.3 737.2 L94 737.9 L95.7 738.6 L97.4 739.2 L99.1 739.8 L100.8 740.3 L102.5 740.9 L104.2 741.3 L105.9 741.8 L107.5 742.3 L109.2 742.8 L110.9 743.2 L112.6 743.7 L114.3 744.1 L116 744.6 L117.7 745.4 L117.7 745.4 L116 745.6 L114.3 745.4 L112.6 745.1 L110.9 744.8 L109.2 744.4 L107.5 744.1 L105.9 743.7 L104.2 743.2 L102.5 742.8 L100.8 742.3 L99.1 741.8 L97.4 741.3 L95.7 740.7 L94 740 L92.3 739.4 L90.6 738.7 L88.9 738 L87.2 737.2 L85.5 736.4 L83.8 735.6 L82.1 734.8 L80.4 733.9 L78.7 733.2 L77 732.5 L75.3 731.8 L73.6 731.1 L71.9 730.4 L70.2 729.7 L68.5 729 L66.8 728.2 L65.1 727.3 L63.4 726.4 L61.7 725.8 L60 725.4 L58.3 725 L56.6 724.6 L54.9 724.3 L53.2 724 L51.5 723.4Z" fill="#ff0000" fill-opacity="0.9"/>
<path d="M51.5 746.5 L53.2 746.3 L54.8 746.5 L56.5 746.6 L58.2 746.8 L59.9 747 L61.5 747.2 L63.2 747.5 L64.9 747.7 L66.6 747.9 L68.2 748.1 L69.9 748.4 L71.6 748.6 L73.2 748.9 L74.9 749.1 L76.6 749.4 L78.3 749.7 L79.9 749.9 L81.6 750.2 L83.3 750.5 L85 750.8 L86.6 751 L88.3 751.3 L90 751.6 L91.6 751.9 L93.3 752.2 L95 752.6 L96.7 752.9 L98.3 753.2 L100 753.6 L101.7 754 L103.4 754.4 L105 754.8 L106.7 755.5 L106.7 755.5 L105 755.6 L103.4 755.4 L101.7 755.1 L100 754.8 L98.3 754.5 L96.7 754.3 L95 754 L93.3 753.7 L91.6 753.5 L90 753.2 L88.3 752.9 L86.6 752.6 L85 752.4 L83.3 752.1 L81.6 751.8 L79.9 751.6 L78.3 751.3 L76.6 751 L74.9 750.8 L73.2 750.5 L71.6 750.2 L69.9 750 L68.2 749.7 L66.6 749.4 L64.9 749.1 L63.2 748.9 L61.5 748.6 L59.9 748.3 L58.2 748.1 L56.5 747.8 L54.8 747.5 L53.2 747.1 L51.5 746.5Z" fill="#0000ff" fill-opacity="0.9"/>
<path d="M51.5 748.3 L53.2 748.1 L54.8 748.2 L56.5 748.4 L58.2 748.5 L59.9 748.7 L61.5 748.9 L63.2 749.1 L64.9 749.4 L66.6 749.6 L68.2 749.8 L69.9 750.1 L71.6 750.3 L73.2 750.6 L74.9 750.9 L76.6 751.1 L78.3 751.4 L79.9 751.7 L81.6 752 L83.3 752.3 L85 752.5 L86.6 752.8 L88.3 753.1 L90 753.4 L91.6 753.8 L93.3 754.1 L95 754.5 L96.7 754.9 L98.3 755.3 L100 755.7 L101.7 756.2 L103.4 756.8 L105 757.4 L106.7 758.4 L106.7 758.4 L105 758.2 L103.4 757.8 L101.7 757.3 L100 757 L98.3 756.6 L96.7 756.2 L95 755.9 L93.3 755.6 L91.6 755.3 L90 755 L88.3 754.7 L86.6 754.4 L85 754.2 L83.3 753.9 L81.6 753.6 L79.9 753.3 L78.3 753.1 L76.6 752.8 L74.9 752.5 L73.2 752.2 L71.6 751.9 L69.9 751.7 L68.2 751.4 L66.6 751.1 L64.9 750.8 L63.2 750.6 L61.5 750.3 L59.9 750 L58.2 749.8 L56.5 749.5 L54.8 749.2 L53.2 748.9 L51.5 748.3Z" fill="#ff0000" fill-opacity="0.9"/>
<path d="M217.1 726.3 L218.9 724.9 L220.8 724.4 L222.6 724 L224.5 723.6 L226.3 723.3 L228.1 723 L230 722.8 L231.8 722.7 L233.7 722.6 L235.5 723.4 L235.5 723.4 L233.7 724.9 L231.8 725.5 L230 725.9 L228.1 726.3 L226.3 726.6 L224.5 726.9 L222.6 727.1 L220.8 727.2 L218.9 727.2 L217.1 726.3Z" fill="#0000ff" fill-opacity="0.9"/>
<path d="M187.7 750 L188.1 748.9 L188.6 748.4 L189 748.1 L189.5 747.8 L190 747.5 L190.4 747.3 L190.9 747.1 L191.3 747.6 L191.3 747.6 L190.9 748.8 L190.4 749.2 L190 749.6 L189.5 750 L189 750.2 L188.6 750.4 L188.1 750.6 L187.7 750Z" fill="#ff0000" fill-opacity="0.9"/>
<path d="M51.5 782.1 L53.2 781.4 L54.8 781.2 L56.5 781.1 L58.2 780.9 L59.9 780.8 L61.5 780.7 L63.2 780.6 L64.9 780.5 L66.6 780.4 L68.2 780.3 L69.9 780.2 L71.6 780.1 L73.2 780 L74.9 779.9 L76.6 779.9 L78.3 779.8 L79.9 779.7 L81.6 779.6 L83.3 779.5 L85 779.4 L86.6 779.4 L88.3 779.3 L90 779.2 L91.6 779.1 L93.3 779 L95 778.9 L96.7 778.8 L98.3 778.7 L100 778.6 L101.7 778.5 L103.4 778.5 L105 778.4 L106.7 778.3 L108.4 778.2 L110 778.2 L111.7 778.1 L113.4 778.1 L115.1 778 L116.7 778 L118.4 778 L120.1 778 L121.8 778 L123.4 778 L125.1 778 L126.8 778 L128.4 778.1 L130.1 778.1 L131.8 778.1 L133.5 778.1 L135.1 778.2 L136.8 778.2 L138.5 778.3 L140.2 778.3 L141.8 778.4 L143.5 778.4 L145.2 778.5 L146.8 778.5 L148.5 778.5 L150.2 778.6 L151.9 778.6 L153.5 778.7 L155.2 778.7 L156.9 778.8 L158.6 778.8 L160.2 778.8 L161.9 778.9 L163.6 778.9 L165.2 779 L166.9 779 L168.6 779 L170.3 779.1 L171.9 779.1 L173.6 779.2 L175.3 779.2 L177 779.2 L178.6 779.3 L180.3 779.3 L182 779.4 L183.6 779.4 L185.3 779.5 L187 779.5 L188.7 779.5 L190.3 779.6 L192 779.6 L193.7 779.7 L195.4 779.7 L197 779.8 L198.7 779.8 L200.4 779.9 L202 779.9 L203.7 780 L205.4 780 L207.1 780.1 L208.7 780.2 L210.4 780.2 L212.1 780.3 L213.8 780.3 L215.4 780.4 L217.1 780.5 L218.8 780.5 L220.4 780.6 L222.1 780.7 L223.8 780.8 L225.5 780.9 L227.1 780.9 L228.8 781 L230.5 781.2 L232.2 781.3 L233.8 781.5 L235.5 782.1 L235.5 782.1 L233.8 782.6 L232.2 782.7 L230.5 782.7 L228.8 782.8 L227.1 782.8 L225.5 782.8 L223.8 782.8 L222.1 782.8 L220.4 782.8 L218.8 782.8 L217.1 782.8 L215.4 782.8 L213.8 782.8 L212.1 782.8 L210.4 782.8 L208.7 782.7 L207.1 782.7 L205.4 782.7 L203.7 782.7 L202 782.7 L200.4 782.7 L198.7 782.6 L197 782.6 L195.4 782.6 L193.7 782.6 L192 782.6 L190.3 782.5 L188.7 782.5 L187 782.5 L185.3 782.5 L183.6 782.5 L182 782.4 L180.3 782.4 L178.6 782.4 L177 782.4 L175.3 782.3 L173.6 782.3 L171.9 782.3 L170.3 782.3 L168.6 782.2 L166.9 782.2 L165.2 782.2 L163.6 782.2 L161.9 782.1 L160.2 782.1 L158.6 782.1 L156.9 782 L155.2 782 L153.5 782 L151.9 781.9 L150.2 781.9 L148.5 781.8 L146.8 781.8 L145.2 781.8 L143.5 781.7 L141.8 781.7 L140.2 781.6 L138.5 781.6 L136.8 781.5 L135.1 781.5 L133.5 781.4 L131.8 781.4 L130.1 781.4 L128.4 781.3 L126.8 781.3 L125.1 781.3 L123.4 781.2 L121.8 781.2 L120.1 781.2 L118.4 781.2 L116.7 781.2 L115.1 781.2 L113.4 781.2 L111.7 781.3 L110 781.3 L108.4 781.4 L106.7 781.4 L105 781.5 L103.4 781.5 L101.7 781.6 L100 781.6 L98.3 781.7 L96.7 781.8 L95 781.8 L93.3 781.9 L91.6 782 L90 782 L88.3 782.1 L86.6 782.1 L85 782.2 L83.3 782.2 L81.6 782.3 L79.9 782.3 L78.3 782.4 L76.6 782.4 L74.9 782.4 L73.2 782.5 L71.6 782.5 L69.9 782.5 L68.2 782.6 L66.6 782.6 L64.9 782.6 L63.2 782.6 L61.5 782.7 L59.9 782.7 L58.2 782.7 L56.5 782.7 L54.8 782.6 L53.2 782.6 L51.5 782.1Z" fill="#0000ff" fill-opacity="0.9"/>
<path d="M125.1 778.6 L126.8 777.9 L128.5 777.7 L130.1 777.6 L131.8 777.5 L133.5 777.5 L135.2 777.5 L136.9 777.5 L138.6 777.5 L140.2 777.5 L141.9 777.5 L143.6 777.5 L145.3 777.5 L147 777.5 L148.7 777.6 L150.3 777.6 L152 777.6 L153.7 777.7 L155.4 777.7 L157.1 777.8 L158.7 777.8 L160.4 777.8 L162.1 777.9 L163.8 778 L165.5 778 L167.2 778.1 L168.8 778.1 L170.5 778.2 L172.2 778.3 L173.9 778.4 L175.6 778.5 L177.3 778.6 L178.9 778.7 L180.6 778.9 L182.3 779.1 L184 779.9 L184 779.9 L182.3 780.7 L180.6 780.9 L178.9 781 L177.3 781 L175.6 781.1 L173.9 781.1 L172.2 781.1 L170.5 781.1 L168.8 781.1 L167.2 781.1 L165.5 781.1 L163.8 781.1 L162.1 781.1 L160.4 781.1 L158.7 781.1 L157.1 781.1 L155.4 781 L153.7 781 L152 780.9 L150.3 780.9 L148.7 780.8 L147 780.8 L145.3 780.7 L143.6 780.6 L141.9 780.5 L140.2 780.5 L138.6 780.4 L136.9 780.3 L135.2 780.2 L133.5 780.1 L131.8 780 L130.1 779.8 L128.5 779.7 L126.8 779.5 L125.1 778.6Z" fill="#ff0000" fill-opacity="0.9"/>
<path d="M51.5 786.2 L53.2 785.4 L54.8 785.2 L56.5 785 L58.2 784.8 L59.9 784.6 L61.5 784.5 L63.2 784.3 L64.9 784.2 L66.6 784 L68.2 783.9 L69.9 783.8 L71.6 783.6 L73.2 783.5 L74.9 783.4 L76.6 783.3 L78.3 783.2 L79.9 783 L81.6 782.9 L83.3 782.8 L85 782.7 L86.6 782.6 L88.3 782.5 L90 782.4 L91.6 782.3 L93.3 782.2 L95 782 L96.7 781.9 L98.3 781.8 L100 781.7 L101.7 781.6 L103.4 781.5 L105 781.4 L106.7 781.3 L108.4 781.3 L110 781.2 L111.7 781.2 L113.4 781.1 L115.1 781.1 L116.7 781.1 L118.4 781.1 L120.1 781.2 L121.8 781.2 L123.4 781.4 L125.1 782 L125.1 782 L123.4 782.6 L121.8 782.8 L120.1 782.9 L118.4 783 L116.7 783.1 L115.1 783.2 L113.4 783.3 L111.7 783.4 L110 783.6 L108.4 783.7 L106.7 783.8 L105 783.9 L103.4 784.1 L101.7 784.2 L100 784.3 L98.3 784.5 L96.7 784.6 L95 784.8 L93.3 784.9 L91.6 785 L90 785.1 L88.3 785.2 L86.6 785.4 L85 785.5 L83.3 785.6 L81.6 785.7 L79.9 785.7 L78.3 785.8 L76.6 785.9 L74.9 786 L73.2 786.1 L71.6 786.2 L69.9 786.3 L68.2 786.3 L66.6 786.4 L64.9 786.5 L63.2 786.5 L61.5 786.6 L59.9 786.6 L58.2 786.7 L56.5 786.7 L54.8 786.7 L53.2 786.7 L51.5 786.2Z" fill="#ff0000" fill-opacity="0.9"/>
<path d="M180.3 782.8 L182 782.2 L183.6 782.2 L185.3 782.2 L187 782.3 L188.7 782.4 L190.3 782.4 L192 782.5 L193.7 782.6 L195.4 782.7 L197 782.7 L198.7 782.8 L200.4 782.9 L202 782.9 L203.7 783 L205.4 783.1 L207.1 783.2 L208.7 783.2 L210.4 783.3 L212.1 783.4 L213.8 783.5 L215.4 783.6 L217.1 783.7 L218.8 783.8 L220.4 783.9 L222.1 784 L223.8 784.1 L225.5 784.2 L227.1 784.3 L228.8 784.5 L230.5 784.6 L232.2 784.8 L233.8 785 L235.5 785.7 L235.5 785.8 L233.8 786.4 L232.2 786.5 L230.5 786.5 L228.8 786.5 L227.1 786.5 L225.5 786.5 L223.8 786.5 L222.1 786.4 L220.4 786.4 L218.8 786.4 L217.1 786.3 L215.4 786.3 L213.8 786.2 L212.1 786.1 L210.4 786.1 L208.7 786 L207.1 785.9 L205.4 785.8 L203.7 785.7 L202 785.6 L200.4 785.5 L198.7 785.4 L197 785.3 L195.4 785.2 L193.7 785 L192 784.9 L190.3 784.7 L188.7 784.5 L187 784.3 L185.3 784.1 L183.6 783.9 L182 783.6 L180.3 782.8Z" fill="#ff0000" fill-opacity="0.9"/>
<path d="M79.1 792.4 L80.8 791.2 L82.4 790.9 L84.1 790.8 L85.8 790.8 L87.5 790.8 L89.1 790.8 L90.8 790.9 L92.5 791.1 L94.2 791.3 L95.8 791.6 L97.5 793 L97.5 793 L95.8 794.2 L94.2 794.5 L92.5 794.6 L90.8 794.7 L89.1 794.7 L87.5 794.6 L85.8 794.5 L84.1 794.4 L82.4 794.1 L80.8 793.8 L79.1 792.4Z" fill="#ff0000" fill-opacity="0.9"/>
<path d="M189.5 791.7 L190.9 790.3 L192.3 790 L193.6 789.8 L195 789.8 L196.4 789.8 L197.8 789.9 L199.2 790.2 L200.5 791.6 L200.5 791.6 L199.2 793.1 L197.8 793.4 L196.4 793.5 L195 793.6 L193.6 793.6 L192.3 793.4 L190.9 793.2 L189.5 791.7Z" fill="#ff0000" fill-opacity="0.9"/>
<path d="M51.5 800.9 L53.2 800.1 L54.8 799.9 L56.5 799.7 L58.2 799.6 L59.9 799.5 L61.5 799.4 L63.2 799.3 L64.9 799.2 L66.6 799.1 L68.2 799 L69.9 798.9 L71.6 798.9 L73.2 798.8 L74.9 798.7 L76.6 798.6 L78.3 798.6 L79.9 798.5 L81.6 798.4 L83.3 798.4 L85 798.3 L86.6 798.3 L88.3 798.2 L90 798.1 L91.6 798.1 L93.3 798 L95 798 L96.7 797.9 L98.3 797.9 L100 797.8 L101.7 797.8 L103.4 797.7 L105 797.7 L106.7 797.6 L108.4 797.6 L110 797.6 L111.7 797.5 L113.4 797.5 L115.1 797.4 L116.7 797.4 L118.4 797.4 L120.1 797.3 L121.8 797.3 L123.4 797.2 L125.1 797.2 L126.8 797.2 L128.4 797.1 L130.1 797.1 L131.8 797 L133.5 797 L135.1 797 L136.8 796.9 L138.5 796.9 L140.2 796.9 L141.8 796.8 L143.5 796.8 L145.2 796.8 L146.8 796.7 L148.5 796.7 L150.2 796.7 L151.9 796.7 L153.5 796.7 L155.2 796.7 L156.9 796.7 L158.6 796.7 L160.2 796.7 L161.9 796.7 L163.6 796.8 L165.2 796.8 L166.9 796.8 L168.6 796.9 L170.3 796.9 L171.9 797 L173.6 797.1 L175.3 797.1 L177 797.2 L178.6 797.3 L180.3 797.3 L182 797.4 L183.6 797.5 L185.3 797.6 L187 797.7 L188.7 797.7 L190.3 797.8 L192 797.9 L193.7 798 L195.4 798.1 L197 798.1 L198.7 798.2 L200.4 798.3 L202 798.4 L203.7 798.5 L205.4 798.5 L207.1 798.6 L208.7 798.7 L210.4 798.8 L212.1 798.9 L213.8 799 L215.4 799.1 L217.1 799.2 L218.8 799.3 L220.4 799.4 L222.1 799.5 L223.8 799.6 L225.5 799.7 L227.1 799.8 L228.8 800 L230.5 800.1 L232.2 800.3 L233.8 800.5 L235.5 801.3 L235.5 801.3 L233.8 802 L232.2 802.1 L230.5 802.2 L228.8 802.2 L227.1 802.3 L225.5 802.3 L223.8 802.3 L222.1 802.3 L220.4 802.3 L218.8 802.3 L217.1 802.2 L215.4 802.2 L213.8 802.2 L212.1 802.2 L210.4 802.2 L208.7 802.1 L207.1 802.1 L205.4 802.1 L203.7 802.1 L202 802 L200.4 802 L198.7 802 L197 801.9 L195.4 801.9 L193.7 801.9 L192 801.8 L190.3 801.8 L188.7 801.7 L187 801.7 L185.3 801.6 L183.6 801.6 L182 801.5 L180.3 801.5 L178.6 801.4 L177 801.4 L175.3 801.3 L173.6 801.3 L171.9 801.2 L170.3 801.2 L168.6 801.2 L166.9 801.1 L165.2 801.1 L163.6 801.1 L161.9 801.1 L160.2 801.1 L158.6 801 L156.9 801.1 L155.2 801.1 L153.5 801.1 L151.9 801.1 L150.2 801.1 L148.5 801.1 L146.8 801.1 L145.2 801.2 L143.5 801.2 L141.8 801.2 L140.2 801.3 L138.5 801.3 L136.8 801.3 L135.1 801.3 L133.5 801.4 L131.8 801.4 L130.1 801.4 L128.4 801.5 L126.8 801.5 L125.1 801.5 L123.4 801.6 L121.8 801.6 L120.1 801.6 L118.4 801.6 L116.7 801.7 L115.1 801.7 L113.4 801.7 L111.7 801.7 L110 801.7 L108.4 801.8 L106.7 801.8 L105 801.8 L103.4 801.8 L101.7 801.8 L100 801.8 L98.3 801.9 L96.7 801.9 L95 801.9 L93.3 801.9 L91.6 801.9 L90 801.9 L88.3 802 L86.6 802 L85 802 L83.3 802 L81.6 802 L79.9 802 L78.3 802 L76.6 802 L74.9 802 L73.2 802 L71.6 802 L69.9 802 L68.2 802 L66.6 802 L64.9 802 L63.2 802 L61.5 802 L59.9 801.9 L58.2 801.9 L56.5 801.8 L54.8 801.8 L53.2 801.6 L51.5 800.9Z" fill="#ff0000" fill-opacity="0.9"/>
<path d="M51.5 806 L53.2 805.3 L54.8 805 L56.5 804.8 L58.2 804.6 L59.9 804.4 L61.5 804.3 L63.2 804.1 L64.9 803.9 L66.6 803.7 L68.2 803.5 L69.9 803.4 L71.6 803.2 L73.2 803 L74.9 802.8 L76.6 802.6 L78.3 802.4 L79.9 802.2 L81.6 802 L83.3 801.9 L85 801.7 L86.6 801.5 L88.3 801.4 L90 801.3 L91.6 801.1 L93.3 801 L95 800.8 L96.7 800.7 L98.3 800.5 L100 800.4 L101.7 800.3 L103.4 800.2 L105 800.1 L106.7 800 L108.4 799.9 L110 799.8 L111.7 799.8 L113.4 799.7 L115.1 799.7 L116.7 799.7 L118.4 799.8 L120.1 799.9 L121.8 799.9 L123.4 800.1 L125.1 800.7 L125.1 800.7 L123.4 801.3 L121.8 801.5 L120.1 801.6 L118.4 801.7 L116.7 801.7 L115.1 801.8 L113.4 801.9 L111.7 802 L110 802.2 L108.4 802.3 L106.7 802.4 L105 802.6 L103.4 802.7 L101.7 802.9 L100 803.1 L98.3 803.2 L96.7 803.4 L95 803.5 L93.3 803.7 L91.6 803.9 L90 804 L88.3 804.1 L86.6 804.3 L85 804.4 L83.3 804.6 L81.6 804.8 L79.9 804.9 L78.3 805.1 L76.6 805.3 L74.9 805.4 L73.2 805.6 L71.6 805.7 L69.9 805.8 L68.2 806 L66.6 806.1 L64.9 806.2 L63.2 806.3 L61.5 806.4 L59.9 806.4 L58.2 806.5 L56.5 806.6 L54.8 806.6 L53.2 806.6 L51.5 806Z" fill="#0000ff" fill-opacity="0.9"/>
<path d="M171.1 801.2 L172.8 800.6 L174.5 800.6 L176.2 800.6 L177.9 800.7 L179.6 800.7 L181.3 800.8 L183 800.9 L184.7 801 L186.4 801.1 L188 801.3 L189.7 801.4 L191.4 801.5 L193.1 801.6 L194.8 801.7 L196.5 801.9 L198.2 802 L199.9 802.1 L201.6 802.2 L203.3 802.3 L205 802.5 L206.7 802.6 L208.4 802.7 L210.1 802.9 L211.8 803 L213.5 803.2 L215.2 803.3 L216.9 803.5 L218.6 803.6 L220.2 803.8 L221.9 803.9 L223.6 804.1 L225.3 804.3 L227 804.5 L228.7 804.7 L230.4 804.9 L232.1 805.2 L233.8 805.5 L235.5 806.2 L235.5 806.3 L233.8 806.8 L232.1 806.8 L230.4 806.7 L228.7 806.7 L227 806.6 L225.3 806.5 L223.6 806.4 L221.9 806.3 L220.2 806.2 L218.6 806.1 L216.9 806 L215.2 805.9 L213.5 805.8 L211.8 805.7 L210.1 805.6 L208.4 805.4 L206.7 805.3 L205 805.2 L203.3 805.1 L201.6 805 L199.9 804.8 L198.2 804.7 L196.5 804.6 L194.8 804.4 L193.1 804.3 L191.4 804.1 L189.7 803.9 L188 803.8 L186.4 803.6 L184.7 803.4 L183 803.2 L181.3 803 L179.6 802.8 L177.9 802.6 L176.2 802.4 L174.5 802.2 L172.8 801.9 L171.1 801.2Z" fill="#0000ff" fill-opacity="0.9"/>
<path d="M51.5 807.1 L53.2 806.4 L54.8 806.2 L56.5 806.1 L58.2 806 L59.9 805.8 L61.5 805.8 L63.2 805.7 L64.9 805.6 L66.6 805.5 L68.2 805.5 L69.9 805.4 L71.6 805.4 L73.2 805.3 L74.9 805.3 L76.6 805.3 L78.3 805.2 L79.9 805.2 L81.6 805.2 L83.3 805.3 L85 805.3 L86.6 805.4 L88.3 805.9 L88.3 805.9 L86.6 806.6 L85 806.8 L83.3 806.9 L81.6 807.1 L79.9 807.2 L78.3 807.3 L76.6 807.4 L74.9 807.4 L73.2 807.5 L71.6 807.6 L69.9 807.6 L68.2 807.7 L66.6 807.7 L64.9 807.7 L63.2 807.8 L61.5 807.8 L59.9 807.8 L58.2 807.8 L56.5 807.8 L54.8 807.7 L53.2 807.6 L51.5 807.1Z" fill="#0000ff" fill-opacity="0.9"/>
<path d="M134.3 851.8 L136 851.4 L137.6 851.8 L139.3 852.3 L141 852.8 L142.7 853.2 L144.3 853.4 L146 853.5 L147.7 853.6 L149.4 853.7 L151 853.8 L152.7 853.9 L154.4 854 L156 854 L157.7 854 L159.4 854 L161.1 854 L162.7 853.9 L164.4 853.9 L166.1 853.9 L167.8 853.8 L169.4 853.8 L171.1 853.7 L172.8 853.7 L174.4 853.7 L176.1 853.7 L177.8 853.7 L179.5 853.7 L181.1 853.7 L182.8 853.8 L184.5 853.9 L186.2 854.2 L187.8 854.5 L189.5 855.6 L189.5 855.6 L187.8 856.1 L186.2 856.2 L184.5 856.2 L182.8 856.3 L181.1 856.4 L179.5 856.5 L177.8 856.5 L176.1 856.6 L174.4 856.7 L172.8 856.8 L171.1 856.9 L169.4 857 L167.8 857.1 L166.1 857.1 L164.4 857.2 L162.7 857.2 L161.1 857.3 L159.4 857.3 L157.7 857.3 L156 857.3 L154.4 857.2 L152.7 857.1 L151 856.9 L149.4 856.8 L147.7 856.6 L146 856.4 L144.3 856.1 L142.7 855.8 L141 855.3 L139.3 854.6 L137.6 853.8 L136 853 L134.3 851.8Z" fill="#ff0000" fill-opacity="0.9"/>
<path d="M66.2 864.5 L67.8 863 L69.4 862.7 L71 862.6 L72.7 862.5 L74.3 862.6 L75.9 862.7 L77.5 863 L79.1 864.5 L79.1 864.5 L77.5 865.9 L75.9 866.2 L74.3 866.3 L72.7 866.4 L71 866.3 L69.4 866.2 L67.8 865.9 L66.2 864.5Z" fill="#0000ff" fill-opacity="0.9"/>
<path d="M58.9 871.1 L60 870 L61.2 869.8 L62.3 869.8 L63.5 869.9 L64.6 870 L65.8 870.3 L66.9 870.7 L68.1 872 L68.1 872 L66.9 873.1 L65.8 873.3 L64.6 873.3 L63.5 873.2 L62.3 873 L61.2 872.8 L60 872.4 L58.9 871.1Z" fill="#0000ff" fill-opacity="0.9"/>
<path d="M209.7 863.8 L211.1 862.3 L212.5 862.1 L213.9 861.9 L215.3 861.9 L216.6 862 L218 862.1 L219.4 862.4 L220.8 863.9 L220.8 863.9 L219.4 865.3 L218 865.6 L216.6 865.7 L215.3 865.8 L213.9 865.7 L212.5 865.5 L211.1 865.2 L209.7 863.8Z" fill="#0000ff" fill-opacity="0.9"/>
<path d="M213.4 873.7 L214.8 871.7 L216.2 870.9 L217.6 870.4 L218.9 870.1 L220.3 870 L221.7 870.1 L223.1 870.4 L224.5 871.9 L224.5 871.9 L223.1 873.3 L221.7 873.6 L220.3 873.7 L218.9 873.9 L217.6 874.1 L216.2 874.4 L214.8 874.6 L213.4 873.7Z" fill="#0000ff" fill-opacity="0.9"/>
<path d="M217.1 729.9 L218.9 728.1 L220.8 726.9 L222.6 725.9 L224.5 725 L226.3 724.4 L228.1 723.9 L230 723.4 L231.8 723.1 L233.7 722.9 L235.5 723.4 L235.5 723.4 L233.7 724.4 L231.8 724.9 L230 725.5 L228.1 726 L226.3 726.6 L224.5 727.2 L222.6 728 L220.8 728.8 L218.9 729.7 L217.1 729.9Z" fill="#ff0000" fill-opacity="0.9"/>
<path d="M88.3 793.8 L90 793.5 L91.7 793.4 L93.4 793.4 L95 793.3 L96.7 793.3 L98.4 793.3 L100.1 793.3 L101.8 793.3 L103.5 793.3 L105.2 793.3 L106.9 793.2 L108.5 793.2 L110.2 793.2 L111.9 793.2 L113.6 793.2 L115.3 793.2 L117 793.2 L118.7 793.2 L120.3 793.2 L122 793.2 L123.7 793.1 L125.4 793.1 L127.1 793.1 L128.8 793.1 L130.5 793 L132.2 793 L133.8 793 L135.5 793 L137.2 792.9 L138.9 792.9 L140.6 792.9 L142.3 792.9 L144 792.8 L145.6 792.8 L147.3 792.8 L149 792.8 L150.7 792.8 L152.4 792.8 L154.1 792.8 L155.8 792.8 L157.5 792.8 L159.1 792.8 L160.8 792.8 L162.5 792.8 L164.2 792.8 L165.9 792.8 L167.6 792.8 L169.3 792.8 L170.9 792.9 L172.6 792.9 L174.3 792.9 L176 792.9 L177.7 792.9 L179.4 793 L181.1 793 L182.8 793 L184.4 793.1 L186.1 793.1 L187.8 793.2 L189.5 793.5 L189.5 793.5 L187.8 793.9 L186.1 794 L184.4 794 L182.8 794.1 L181.1 794.1 L179.4 794.1 L177.7 794.1 L176 794.2 L174.3 794.2 L172.6 794.2 L170.9 794.2 L169.3 794.2 L167.6 794.3 L165.9 794.3 L164.2 794.3 L162.5 794.3 L160.8 794.3 L159.1 794.3 L157.5 794.3 L155.8 794.3 L154.1 794.3 L152.4 794.4 L150.7 794.4 L149 794.4 L147.3 794.4 L145.6 794.5 L144 794.5 L142.3 794.5 L140.6 794.5 L138.9 794.6 L137.2 794.6 L135.5 794.6 L133.8 794.6 L132.2 794.7 L130.5 794.7 L128.8 794.7 L127.1 794.7 L125.4 794.7 L123.7 794.7 L122 794.7 L120.3 794.7 L118.7 794.7 L117 794.7 L115.3 794.7 L113.6 794.7 L111.9 794.7 L110.2 794.7 L108.5 794.6 L106.9 794.6 L105.2 794.6 L103.5 794.6 L101.8 794.5 L100.1 794.5 L98.4 794.5 L96.7 794.4 L95 794.4 L93.4 794.3 L91.7 794.3 L90 794.2 L88.3 793.8Z" fill="#0000ff" fill-opacity="0.9"/>
</g>
<use href="#bands0" y="673.5"/>
</g>
<rect x="51.5" y="693.5" width="184" height="205" fill="none" stroke="#111" stroke-width="0.9"/>
<path d="M48.3 693.5H51.5 M48.3 734.5H51.5 M48.3 775.5H51.5 M48.3 816.5H51.5 M48.3 857.5H51.5 M48.3 898.5H51.5 M51.5 898.5V901.5 M118.8 898.5V901.5 M157.7 898.5V901.5 M235.5 898.5V901.5" stroke="#111" stroke-width="0.9" fill="none"/>
<text x="57.1" y="710.1" font-size="14.8">(j)</text>
<path d="M249 61H433.3 M249 102H433.3 M249 143H433.3 M249 184H433.3 M316.5 20V225 M355.4 20V225" stroke="#d0d0d0" stroke-width="0.8" stroke-dasharray="0.9 1.16" fill="none"/>
<g clip-path="url(#cp10)"><g filter="url(#bl)">
<path d="M280.3 75.2 L282 74.6 L283.7 74.5 L285.4 74.4 L287.1 74.3 L288.8 74.3 L290.5 74.2 L292.2 74.2 L293.9 74.2 L295.6 74.2 L297.3 74.2 L299 74.2 L300.7 74.2 L302.3 74.2 L304 74.2 L305.7 74.3 L307.4 74.3 L309.1 74.3 L310.8 74.3 L312.5 74.3 L314.2 74.3 L315.9 74.3 L317.6 74.3 L319.3 74.3 L321 74.2 L322.7 74.2 L324.4 74.1 L326.1 74 L327.8 73.9 L329.4 73.9 L331.1 73.8 L332.8 73.7 L334.5 73.6 L336.2 73.6 L337.9 73.5 L339.6 73.5 L341.3 73.5 L343 73.5 L344.7 73.4 L346.4 73.4 L348.1 73.4 L349.8 73.4 L351.5 73.4 L353.2 73.4 L354.8 73.4 L356.5 73.4 L358.2 73.3 L359.9 73.3 L361.6 73.2 L363.3 73.1 L365 73 L366.7 72.9 L368.4 72.7 L370.1 72.6 L371.8 72.5 L373.5 72.4 L375.2 72.3 L376.9 72.2 L378.6 72.2 L380.3 72.2 L381.9 72.1 L383.6 72.2 L385.3 72.2 L387 72.3 L388.7 72.3 L390.4 72.4 L392.1 72.5 L393.8 72.6 L395.5 72.8 L397.2 72.9 L398.9 73 L400.6 73.2 L402.3 73.4 L404 73.6 L405.7 74.2 L405.7 74.2 L404 74.6 L402.3 74.7 L400.6 74.7 L398.9 74.6 L397.2 74.6 L395.5 74.6 L393.8 74.5 L392.1 74.5 L390.4 74.5 L388.7 74.4 L387 74.4 L385.3 74.4 L383.6 74.4 L381.9 74.5 L380.3 74.5 L378.6 74.6 L376.9 74.7 L375.2 74.8 L373.5 74.9 L371.8 75 L370.1 75.2 L368.4 75.3 L366.7 75.5 L365 75.6 L363.3 75.7 L361.6 75.8 L359.9 75.9 L358.2 76 L356.5 76.1 L354.8 76.1 L353.2 76.1 L351.5 76.1 L349.8 76.2 L348.1 76.2 L346.4 76.2 L344.7 76.2 L343 76.2 L341.3 76.2 L339.6 76.2 L337.9 76.3 L336.2 76.3 L334.5 76.4 L332.8 76.4 L331.1 76.5 L329.4 76.6 L327.8 76.6 L326.1 76.7 L324.4 76.8 L322.7 76.8 L321 76.8 L319.3 76.9 L317.6 76.9 L315.9 76.9 L314.2 76.8 L312.5 76.8 L310.8 76.8 L309.1 76.7 L307.4 76.7 L305.7 76.6 L304 76.5 L302.3 76.5 L300.7 76.4 L299 76.3 L297.3 76.3 L295.6 76.2 L293.9 76.2 L292.2 76.1 L290.5 76.1 L288.8 76 L287.1 76 L285.4 75.9 L283.7 75.8 L282 75.7 L280.3 75.2Z" fill="#ff0000" fill-opacity="0.9"/>
<path d="M276.6 91.3 L278.3 90.6 L280 90.5 L281.7 90.4 L283.4 90.3 L285.1 90.2 L286.8 90.2 L288.5 90.1 L290.1 90.1 L291.8 90 L293.5 90 L295.2 90 L296.9 89.9 L298.6 89.9 L300.3 89.9 L302 89.9 L303.6 89.9 L305.3 89.9 L307 89.9 L308.7 89.9 L310.4 90 L312.1 90 L313.8 90 L315.5 90 L317.1 90.1 L318.8 90.2 L320.5 90.3 L322.2 90.5 L323.9 90.7 L325.6 90.9 L327.3 91.2 L328.9 91.5 L330.6 91.7 L332.3 92 L334 92.2 L335.7 92.3 L337.4 92.5 L339.1 92.5 L340.8 92.6 L342.4 92.6 L344.1 92.6 L345.8 92.6 L347.5 92.6 L349.2 92.6 L350.9 92.6 L352.6 92.6 L354.3 92.6 L355.9 92.6 L357.6 92.6 L359.3 92.5 L361 92.4 L362.7 92.3 L364.4 92.2 L366.1 92 L367.8 91.8 L369.4 91.6 L371.1 91.5 L372.8 91.3 L374.5 91.1 L376.2 91 L377.9 90.9 L379.6 90.8 L381.3 90.8 L382.9 90.8 L384.6 90.8 L386.3 90.8 L388 90.8 L389.7 90.9 L391.4 91 L393.1 91 L394.8 91.2 L396.4 91.8 L396.4 91.8 L394.8 92.5 L393.1 92.6 L391.4 92.8 L389.7 92.9 L388 92.9 L386.3 93 L384.6 93.1 L382.9 93.2 L381.3 93.2 L379.6 93.4 L377.9 93.5 L376.2 93.7 L374.5 93.9 L372.8 94.1 L371.1 94.3 L369.4 94.5 L367.8 94.8 L366.1 95 L364.4 95.2 L362.7 95.4 L361 95.5 L359.3 95.7 L357.6 95.7 L355.9 95.8 L354.3 95.8 L352.6 95.8 L350.9 95.8 L349.2 95.8 L347.5 95.8 L345.8 95.8 L344.1 95.9 L342.4 95.9 L340.8 95.9 L339.1 95.8 L337.4 95.8 L335.7 95.6 L334 95.5 L332.3 95.3 L330.6 95 L328.9 94.7 L327.3 94.5 L325.6 94.2 L323.9 93.9 L322.2 93.7 L320.5 93.5 L318.8 93.3 L317.1 93.2 L315.5 93.2 L313.8 93.1 L312.1 93.1 L310.4 93 L308.7 93 L307 92.9 L305.3 92.9 L303.6 92.8 L302 92.8 L300.3 92.7 L298.6 92.7 L296.9 92.6 L295.2 92.6 L293.5 92.5 L291.8 92.5 L290.1 92.5 L288.5 92.4 L286.8 92.4 L285.1 92.3 L283.4 92.2 L281.7 92.2 L280 92.1 L278.3 91.9 L276.6 91.3Z" fill="#ff0000" fill-opacity="0.9"/>
<path d="M341.1 114.7 L342.9 114.1 L344.6 114.4 L346.4 114.8 L348.1 115.2 L349.8 115.5 L351.6 115.8 L353.3 116 L355 116.1 L356.8 116 L358.5 115.9 L360.2 115.7 L362 115.4 L363.7 115.1 L365.4 114.8 L367.2 114.6 L368.9 114.3 L370.6 114.9 L370.6 114.9 L368.9 116.7 L367.2 117.4 L365.4 118 L363.7 118.6 L362 119 L360.2 119.4 L358.5 119.7 L356.8 119.9 L355 119.9 L353.3 119.8 L351.6 119.5 L349.8 119.1 L348.1 118.6 L346.4 118 L344.6 117.2 L342.9 116.4 L341.1 114.7Z" fill="#0000ff" fill-opacity="0.9"/>
<path d="M263.7 88.7 L264.7 88.1 L265.6 88 L266.5 88.1 L267.4 88.3 L268.4 88.4 L269.3 88.7 L270.2 89.1 L271.1 90.2 L271.1 90.2 L270.2 90.7 L269.3 90.7 L268.4 90.6 L267.4 90.5 L266.5 90.3 L265.6 90 L264.7 89.7 L263.7 88.7Z" fill="#ff0000" fill-opacity="0.9"/>
<path d="M322.7 91.9 L323.9 90.4 L325 89.6 L326.2 88.9 L327.3 88.3 L328.5 87.7 L329.6 87.1 L330.8 86.6 L331.9 86.7 L331.9 86.7 L330.8 88.2 L329.6 89.1 L328.5 89.8 L327.3 90.5 L326.2 91.1 L325 91.6 L323.9 92.1 L322.7 91.9Z" fill="#ff0000" fill-opacity="0.9"/>
<path d="M341.1 207.4 L342.9 207 L344.6 206.9 L346.3 206.8 L348.1 206.7 L349.8 206.7 L351.5 206.6 L353.2 206.6 L355 206.6 L356.7 206.6 L358.4 206.7 L360.2 206.8 L361.9 206.9 L363.6 207.1 L365.3 207.3 L367.1 207.6 L368.8 208.1 L368.8 208.1 L367.1 208.3 L365.3 208.1 L363.6 208 L361.9 207.9 L360.2 207.8 L358.4 207.7 L356.7 207.7 L355 207.7 L353.2 207.7 L351.5 207.7 L349.8 207.7 L348.1 207.7 L346.3 207.7 L344.6 207.7 L342.9 207.7 L341.1 207.4Z" fill="#ff0000" fill-opacity="0.9"/>
<path d="M285.9 71 L287.6 70.1 L289.3 70.1 L291.1 70.2 L292.8 70.4 L294.5 70.6 L296.3 70.7 L298 70.9 L299.7 71 L301.5 71.2 L303.2 71.3 L304.9 71.5 L306.7 71.7 L308.4 71.9 L310.1 72.1 L311.9 72.4 L313.6 72.8 L315.3 74.1 L315.3 74.1 L313.6 75.4 L311.9 75.6 L310.1 75.8 L308.4 75.8 L306.7 75.8 L304.9 75.8 L303.2 75.7 L301.5 75.6 L299.7 75.4 L298 75.2 L296.3 75 L294.5 74.7 L292.8 74.3 L291.1 73.9 L289.3 73.4 L287.6 72.7 L285.9 71Z" fill="#0000ff" fill-opacity="0.9"/>
<path d="M315.3 74.1 L317 73.2 L318.8 73 L320.5 72.8 L322.2 72.5 L323.9 72.3 L325.6 72.1 L327.3 71.8 L329 71.6 L330.7 71.3 L332.4 71.1 L334.1 70.9 L335.8 70.7 L337.5 70.6 L339.2 70.5 L340.9 70.4 L342.6 70.4 L344.3 70.3 L346 70.3 L347.7 70.3 L349.4 70.4 L351.1 70.4 L352.8 70.4 L354.5 70.5 L356.2 70.6 L357.9 70.7 L359.6 71.5 L359.6 71.5 L357.9 72.4 L356.2 72.7 L354.5 72.9 L352.8 73.1 L351.1 73.2 L349.4 73.3 L347.7 73.4 L346 73.5 L344.3 73.5 L342.6 73.6 L340.9 73.7 L339.2 73.8 L337.5 73.9 L335.8 74 L334.1 74.2 L332.4 74.3 L330.7 74.5 L329 74.7 L327.3 74.8 L325.6 75 L323.9 75.1 L322.2 75.2 L320.5 75.2 L318.8 75.1 L317 75 L315.3 74.1Z" fill="#0000ff" fill-opacity="0.9"/>
<path d="M359.6 71.5 L361.3 70.2 L362.9 69.9 L364.6 69.6 L366.3 69.4 L368 69.2 L369.6 69 L371.3 68.8 L373 68.7 L374.7 68.5 L376.3 68.4 L378 68.2 L379.7 68.1 L381.4 68 L383 67.9 L384.7 67.7 L386.4 67.5 L388.1 67.2 L389.7 66.9 L391.4 66.6 L393.1 66.3 L394.8 66.1 L396.4 66.8 L396.4 66.8 L394.8 68.5 L393.1 69.3 L391.4 70 L389.7 70.5 L388.1 71.1 L386.4 71.5 L384.7 71.9 L383 72.1 L381.4 72.3 L379.7 72.5 L378 72.6 L376.3 72.8 L374.7 72.9 L373 73 L371.3 73 L369.6 73 L368 73.1 L366.3 73 L364.6 73 L362.9 72.9 L361.3 72.7 L359.6 71.5Z" fill="#0000ff" fill-opacity="0.9"/>
<path d="M249 87.1 L250.7 85.9 L252.4 85.6 L254.1 85.5 L255.8 85.4 L257.5 85.4 L259.2 85.4 L260.9 85.4 L262.6 85.5 L264.3 85.6 L266 85.7 L267.7 85.9 L269.4 86.2 L271.1 87.5 L271.1 87.5 L269.4 88.7 L267.7 89 L266 89.1 L264.3 89.2 L262.6 89.2 L260.9 89.2 L259.2 89.2 L257.5 89.1 L255.8 89 L254.1 88.9 L252.4 88.7 L250.7 88.4 L249 87.1Z" fill="#0000ff" fill-opacity="0.9"/>
<path d="M271.1 87.5 L272.8 86.3 L274.5 86 L276.2 85.8 L277.9 85.7 L279.6 85.6 L281.4 85.6 L283.1 85.5 L284.8 85.5 L286.5 85.5 L288.2 85.5 L289.9 85.5 L291.6 85.6 L293.3 85.7 L295 85.8 L296.7 85.9 L298.4 86.1 L300.1 86.3 L301.8 86.5 L303.5 86.7 L305.2 86.9 L307 87.2 L308.7 87.4 L310.4 87.7 L312.1 88 L313.8 88.4 L315.5 88.8 L317.2 90.2 L317.2 90.2 L315.5 91.4 L313.8 91.6 L312.1 91.6 L310.4 91.6 L308.7 91.6 L307 91.5 L305.2 91.4 L303.5 91.3 L301.8 91.2 L300.1 91.1 L298.4 91 L296.7 90.8 L295 90.7 L293.3 90.6 L291.6 90.5 L289.9 90.4 L288.2 90.3 L286.5 90.2 L284.8 90.1 L283.1 90 L281.4 89.9 L279.6 89.8 L277.9 89.6 L276.2 89.4 L274.5 89.2 L272.8 88.8 L271.1 87.5Z" fill="#0000ff" fill-opacity="0.9"/>
<path d="M317.2 90.2 L318.9 89.3 L320.6 89.2 L322.3 89.2 L324 89.2 L325.7 89.3 L327.5 89.3 L329.2 89.4 L330.9 89.6 L332.6 89.7 L334.3 89.9 L336 90 L337.7 90.3 L339.4 90.6 L341.1 91.7 L341.1 91.7 L339.4 92.7 L337.7 92.8 L336 92.9 L334.3 92.9 L332.6 92.9 L330.9 92.8 L329.2 92.7 L327.5 92.6 L325.7 92.5 L324 92.3 L322.3 92 L320.6 91.8 L318.9 91.4 L317.2 90.2Z" fill="#0000ff" fill-opacity="0.9"/>
<path d="M341.1 91.7 L342.8 90.5 L344.5 90.2 L346.2 90.1 L347.9 90 L349.5 89.9 L351.2 89.8 L352.9 89.8 L354.6 89.7 L356.2 89.6 L357.9 89.5 L359.6 89.4 L361.3 89.3 L362.9 89.2 L364.6 89 L366.3 88.8 L368 88.6 L369.6 88.4 L371.3 88.2 L373 88 L374.7 87.8 L376.3 87.6 L378 87.5 L379.7 87.3 L381.4 87.1 L383 87 L384.7 86.9 L386.4 86.7 L388.1 86.6 L389.7 86.4 L391.4 86.3 L393.1 86.2 L394.8 86.2 L396.4 87.2 L396.4 87.2 L394.8 88.7 L393.1 89.2 L391.4 89.7 L389.7 90.1 L388.1 90.5 L386.4 90.8 L384.7 91.2 L383 91.4 L381.4 91.7 L379.7 91.9 L378 92.2 L376.3 92.4 L374.7 92.7 L373 92.9 L371.3 93.2 L369.6 93.4 L368 93.6 L366.3 93.7 L364.6 93.9 L362.9 94 L361.3 94.1 L359.6 94.2 L357.9 94.2 L356.2 94.2 L354.6 94.1 L352.9 94 L351.2 93.9 L349.5 93.8 L347.9 93.7 L346.2 93.5 L344.5 93.2 L342.8 92.9 L341.1 91.7Z" fill="#0000ff" fill-opacity="0.9"/>
<path d="M396.4 87.2 L398.2 85.9 L400 85.4 L401.7 85.1 L403.5 84.9 L405.2 84.7 L407 84.6 L408.7 84.6 L410.5 84.5 L412.2 84.5 L414 84.5 L415.7 84.5 L417.5 84.6 L419.3 84.6 L421 84.7 L422.8 84.8 L424.5 84.9 L426.3 85.1 L428 85.3 L429.8 85.5 L431.5 85.9 L433.3 87.1 L433.3 87.1 L431.5 88 L429.8 88.2 L428 88.3 L426.3 88.3 L424.5 88.3 L422.8 88.4 L421 88.4 L419.3 88.4 L417.5 88.4 L415.7 88.4 L414 88.4 L412.2 88.3 L410.5 88.3 L408.7 88.3 L407 88.2 L405.2 88.1 L403.5 88.1 L401.7 88.1 L400 88.1 L398.2 88 L396.4 87.2Z" fill="#0000ff" fill-opacity="0.9"/>
</g>
<use href="#bands1" y="0"/>
</g>
<rect x="249" y="20" width="184.3" height="205" fill="none" stroke="#111" stroke-width="0.9"/>
<path d="M245.8 20H249 M245.8 61H249 M245.8 102H249 M245.8 143H249 M245.8 184H249 M245.8 225H249 M249 225V228 M316.5 225V228 M355.4 225V228 M433.3 225V228" stroke="#111" stroke-width="0.9" fill="none"/>
<text x="254.6" y="36.6" font-size="14.8">(b)</text>
<path d="M249 285.5H433.3 M249 326.5H433.3 M249 367.5H433.3 M249 408.5H433.3 M316.5 244.5V449.5 M355.4 244.5V449.5" stroke="#d0d0d0" stroke-width="0.8" stroke-dasharray="0.9 1.16" fill="none"/>
<g clip-path="url(#cp11)"><g filter="url(#bl)">
<path d="M280.3 299.7 L282 299.1 L283.7 299 L285.4 298.9 L287.1 298.8 L288.8 298.8 L290.5 298.7 L292.2 298.7 L293.9 298.7 L295.6 298.7 L297.3 298.7 L299 298.7 L300.7 298.7 L302.3 298.7 L304 298.7 L305.7 298.8 L307.4 298.8 L309.1 298.8 L310.8 298.8 L312.5 298.8 L314.2 298.8 L315.9 298.8 L317.6 298.8 L319.3 298.8 L321 298.7 L322.7 298.7 L324.4 298.6 L326.1 298.5 L327.8 298.4 L329.4 298.4 L331.1 298.3 L332.8 298.2 L334.5 298.1 L336.2 298.1 L337.9 298 L339.6 298 L341.3 298 L343 298 L344.7 297.9 L346.4 297.9 L348.1 297.9 L349.8 297.9 L351.5 297.9 L353.2 297.9 L354.8 297.9 L356.5 297.9 L358.2 297.8 L359.9 297.8 L361.6 297.7 L363.3 297.6 L365 297.5 L366.7 297.4 L368.4 297.2 L370.1 297.1 L371.8 297 L373.5 296.9 L375.2 296.8 L376.9 296.7 L378.6 296.7 L380.3 296.7 L381.9 296.6 L383.6 296.7 L385.3 296.7 L387 296.8 L388.7 296.8 L390.4 296.9 L392.1 297 L393.8 297.1 L395.5 297.3 L397.2 297.4 L398.9 297.5 L400.6 297.7 L402.3 297.9 L404 298.1 L405.7 298.7 L405.7 298.7 L404 299.1 L402.3 299.2 L400.6 299.2 L398.9 299.1 L397.2 299.1 L395.5 299.1 L393.8 299 L392.1 299 L390.4 299 L388.7 298.9 L387 298.9 L385.3 298.9 L383.6 298.9 L381.9 299 L380.3 299 L378.6 299.1 L376.9 299.2 L375.2 299.3 L373.5 299.4 L371.8 299.5 L370.1 299.7 L368.4 299.8 L366.7 300 L365 300.1 L363.3 300.2 L361.6 300.3 L359.9 300.4 L358.2 300.5 L356.5 300.6 L354.8 300.6 L353.2 300.6 L351.5 300.6 L349.8 300.7 L348.1 300.7 L346.4 300.7 L344.7 300.7 L343 300.7 L341.3 300.7 L339.6 300.7 L337.9 300.8 L336.2 300.8 L334.5 300.9 L332.8 300.9 L331.1 301 L329.4 301.1 L327.8 301.1 L326.1 301.2 L324.4 301.3 L322.7 301.3 L321 301.3 L319.3 301.4 L317.6 301.4 L315.9 301.4 L314.2 301.3 L312.5 301.3 L310.8 301.3 L309.1 301.2 L307.4 301.2 L305.7 301.1 L304 301 L302.3 301 L300.7 300.9 L299 300.8 L297.3 300.8 L295.6 300.7 L293.9 300.7 L292.2 300.6 L290.5 300.6 L288.8 300.5 L287.1 300.5 L285.4 300.4 L283.7 300.3 L282 300.2 L280.3 299.7Z" fill="#ff0000" fill-opacity="0.9"/>
<path d="M276.6 315.8 L278.3 315 L280 314.8 L281.7 314.7 L283.4 314.6 L285.1 314.5 L286.8 314.5 L288.5 314.4 L290.1 314.4 L291.8 314.3 L293.5 314.3 L295.2 314.2 L296.9 314.2 L298.6 314.2 L300.3 314.2 L302 314.2 L303.6 314.2 L305.3 314.2 L307 314.2 L308.7 314.2 L310.4 314.2 L312.1 314.2 L313.8 314.2 L315.5 314.3 L317.1 314.3 L318.8 314.4 L320.5 314.5 L322.2 314.7 L323.9 314.9 L325.6 315.2 L327.3 315.4 L328.9 315.7 L330.6 315.9 L332.3 316.2 L334 316.4 L335.7 316.6 L337.4 316.7 L339.1 316.8 L340.8 316.8 L342.4 316.8 L344.1 316.8 L345.8 316.8 L347.5 316.8 L349.2 316.8 L350.9 316.8 L352.6 316.8 L354.3 316.8 L355.9 316.9 L357.6 316.8 L359.3 316.8 L361 316.7 L362.7 316.6 L364.4 316.4 L366.1 316.3 L367.8 316.1 L369.4 315.9 L371.1 315.7 L372.8 315.6 L374.5 315.4 L376.2 315.3 L377.9 315.2 L379.6 315.1 L381.3 315 L382.9 315.1 L384.6 315.1 L386.3 315.1 L388 315.2 L389.7 315.2 L391.4 315.3 L393.1 315.4 L394.8 315.6 L396.4 316.3 L396.4 316.3 L394.8 317.1 L393.1 317.3 L391.4 317.4 L389.7 317.5 L388 317.6 L386.3 317.7 L384.6 317.8 L382.9 317.9 L381.3 317.9 L379.6 318.1 L377.9 318.2 L376.2 318.4 L374.5 318.6 L372.8 318.8 L371.1 319.1 L369.4 319.3 L367.8 319.5 L366.1 319.7 L364.4 319.9 L362.7 320.1 L361 320.3 L359.3 320.4 L357.6 320.5 L355.9 320.6 L354.3 320.6 L352.6 320.6 L350.9 320.6 L349.2 320.6 L347.5 320.6 L345.8 320.6 L344.1 320.6 L342.4 320.6 L340.8 320.6 L339.1 320.6 L337.4 320.6 L335.7 320.4 L334 320.2 L332.3 320 L330.6 319.8 L328.9 319.5 L327.3 319.2 L325.6 319 L323.9 318.7 L322.2 318.5 L320.5 318.3 L318.8 318.1 L317.1 318 L315.5 317.9 L313.8 317.9 L312.1 317.8 L310.4 317.8 L308.7 317.7 L307 317.7 L305.3 317.6 L303.6 317.6 L302 317.5 L300.3 317.5 L298.6 317.4 L296.9 317.4 L295.2 317.3 L293.5 317.3 L291.8 317.2 L290.1 317.2 L288.5 317.1 L286.8 317 L285.1 317 L283.4 316.9 L281.7 316.8 L280 316.7 L278.3 316.5 L276.6 315.8Z" fill="#ff0000" fill-opacity="0.9"/>
<path d="M344.8 340.4 L345.3 339.5 L345.8 339.4 L346.2 339.5 L346.7 339.6 L347.1 339.8 L347.6 340 L348.1 340.3 L348.5 341.5 L348.5 341.5 L348.1 342.4 L347.6 342.5 L347.1 342.4 L346.7 342.3 L346.2 342.2 L345.8 341.9 L345.3 341.6 L344.8 340.4Z" fill="#ff0000" fill-opacity="0.9"/>
<path d="M363.3 341.5 L363.7 340.3 L364.2 340 L364.6 339.8 L365.1 339.6 L365.6 339.6 L366 339.5 L366.5 339.6 L367 340.5 L367 340.5 L366.5 341.7 L366 342 L365.6 342.2 L365.1 342.4 L364.6 342.5 L364.2 342.5 L363.7 342.4 L363.3 341.5Z" fill="#ff0000" fill-opacity="0.9"/>
<path d="M263.7 313.2 L264.7 312.6 L265.6 312.5 L266.5 312.6 L267.4 312.8 L268.4 312.9 L269.3 313.2 L270.2 313.6 L271.1 314.7 L271.1 314.7 L270.2 315.2 L269.3 315.2 L268.4 315.1 L267.4 315 L266.5 314.8 L265.6 314.5 L264.7 314.2 L263.7 313.2Z" fill="#ff0000" fill-opacity="0.9"/>
<path d="M322.7 316.4 L323.9 314.9 L325 314.1 L326.2 313.4 L327.3 312.8 L328.5 312.2 L329.6 311.6 L330.8 311.1 L331.9 311.2 L331.9 311.2 L330.8 312.7 L329.6 313.6 L328.5 314.3 L327.3 315 L326.2 315.6 L325 316.1 L323.9 316.6 L322.7 316.4Z" fill="#ff0000" fill-opacity="0.9"/>
<path d="M285.9 295.5 L287.6 294.6 L289.3 294.6 L291.1 294.7 L292.8 294.9 L294.5 295.1 L296.3 295.2 L298 295.4 L299.7 295.5 L301.5 295.7 L303.2 295.8 L304.9 296 L306.7 296.2 L308.4 296.4 L310.1 296.6 L311.9 296.9 L313.6 297.3 L315.3 298.6 L315.3 298.6 L313.6 299.9 L311.9 300.1 L310.1 300.3 L308.4 300.3 L306.7 300.3 L304.9 300.3 L303.2 300.2 L301.5 300.1 L299.7 299.9 L298 299.7 L296.3 299.5 L294.5 299.2 L292.8 298.8 L291.1 298.4 L289.3 297.9 L287.6 297.2 L285.9 295.5Z" fill="#0000ff" fill-opacity="0.9"/>
<path d="M315.3 298.6 L317 297.7 L318.8 297.5 L320.5 297.3 L322.2 297 L323.9 296.8 L325.6 296.6 L327.3 296.3 L329 296.1 L330.7 295.8 L332.4 295.6 L334.1 295.4 L335.8 295.2 L337.5 295.1 L339.2 295 L340.9 294.9 L342.6 294.9 L344.3 294.8 L346 294.8 L347.7 294.8 L349.4 294.9 L351.1 294.9 L352.8 294.9 L354.5 295 L356.2 295.1 L357.9 295.2 L359.6 296 L359.6 296 L357.9 296.9 L356.2 297.2 L354.5 297.4 L352.8 297.6 L351.1 297.7 L349.4 297.8 L347.7 297.9 L346 298 L344.3 298 L342.6 298.1 L340.9 298.2 L339.2 298.3 L337.5 298.4 L335.8 298.5 L334.1 298.7 L332.4 298.8 L330.7 299 L329 299.2 L327.3 299.3 L325.6 299.5 L323.9 299.6 L322.2 299.7 L320.5 299.7 L318.8 299.6 L317 299.5 L315.3 298.6Z" fill="#0000ff" fill-opacity="0.9"/>
<path d="M359.6 296 L361.3 294.7 L362.9 294.4 L364.6 294.1 L366.3 293.9 L368 293.7 L369.6 293.5 L371.3 293.3 L373 293.2 L374.7 293 L376.3 292.9 L378 292.7 L379.7 292.6 L381.4 292.5 L383 292.4 L384.7 292.2 L386.4 292 L388.1 291.7 L389.7 291.4 L391.4 291.1 L393.1 290.8 L394.8 290.6 L396.4 291.3 L396.4 291.3 L394.8 293 L393.1 293.8 L391.4 294.5 L389.7 295 L388.1 295.6 L386.4 296 L384.7 296.4 L383 296.6 L381.4 296.8 L379.7 297 L378 297.1 L376.3 297.3 L374.7 297.4 L373 297.5 L371.3 297.5 L369.6 297.5 L368 297.6 L366.3 297.5 L364.6 297.5 L362.9 297.4 L361.3 297.2 L359.6 296Z" fill="#0000ff" fill-opacity="0.9"/>
<path d="M249 311.6 L250.7 310.4 L252.4 310.1 L254.1 310 L255.8 309.9 L257.5 309.9 L259.2 309.9 L260.9 309.9 L262.6 310 L264.3 310.1 L266 310.2 L267.7 310.4 L269.4 310.7 L271.1 312 L271.1 312 L269.4 313.2 L267.7 313.5 L266 313.6 L264.3 313.7 L262.6 313.7 L260.9 313.7 L259.2 313.7 L257.5 313.6 L255.8 313.5 L254.1 313.4 L252.4 313.2 L250.7 312.9 L249 311.6Z" fill="#0000ff" fill-opacity="0.9"/>
<path d="M271.1 312 L272.8 310.8 L274.5 310.5 L276.2 310.3 L277.9 310.2 L279.6 310.1 L281.4 310.1 L283.1 310 L284.8 310 L286.5 310 L288.2 310 L289.9 310 L291.6 310.1 L293.3 310.2 L295 310.3 L296.7 310.4 L298.4 310.6 L300.1 310.8 L301.8 311 L303.5 311.2 L305.2 311.4 L307 311.7 L308.7 311.9 L310.4 312.2 L312.1 312.5 L313.8 312.9 L315.5 313.3 L317.2 314.7 L317.2 314.7 L315.5 315.9 L313.8 316.1 L312.1 316.1 L310.4 316.1 L308.7 316.1 L307 316 L305.2 315.9 L303.5 315.8 L301.8 315.7 L300.1 315.6 L298.4 315.5 L296.7 315.3 L295 315.2 L293.3 315.1 L291.6 315 L289.9 314.9 L288.2 314.8 L286.5 314.7 L284.8 314.6 L283.1 314.5 L281.4 314.4 L279.6 314.3 L277.9 314.1 L276.2 313.9 L274.5 313.7 L272.8 313.3 L271.1 312Z" fill="#0000ff" fill-opacity="0.9"/>
<path d="M317.2 314.7 L318.9 313.8 L320.6 313.7 L322.3 313.7 L324 313.7 L325.7 313.8 L327.5 313.8 L329.2 313.9 L330.9 314.1 L332.6 314.2 L334.3 314.4 L336 314.5 L337.7 314.8 L339.4 315.1 L341.1 316.2 L341.1 316.2 L339.4 317.2 L337.7 317.3 L336 317.4 L334.3 317.4 L332.6 317.4 L330.9 317.3 L329.2 317.2 L327.5 317.1 L325.7 317 L324 316.8 L322.3 316.5 L320.6 316.3 L318.9 315.9 L317.2 314.7Z" fill="#0000ff" fill-opacity="0.9"/>
<path d="M341.1 316.2 L342.8 315 L344.5 314.7 L346.2 314.6 L347.9 314.5 L349.5 314.4 L351.2 314.3 L352.9 314.3 L354.6 314.2 L356.2 314.1 L357.9 314 L359.6 313.9 L361.3 313.8 L362.9 313.7 L364.6 313.5 L366.3 313.3 L368 313.1 L369.6 312.9 L371.3 312.7 L373 312.5 L374.7 312.3 L376.3 312.1 L378 312 L379.7 311.8 L381.4 311.6 L383 311.5 L384.7 311.4 L386.4 311.2 L388.1 311.1 L389.7 310.9 L391.4 310.8 L393.1 310.7 L394.8 310.7 L396.4 311.7 L396.4 311.7 L394.8 313.2 L393.1 313.7 L391.4 314.2 L389.7 314.6 L388.1 315 L386.4 315.3 L384.7 315.7 L383 315.9 L381.4 316.2 L379.7 316.4 L378 316.7 L376.3 316.9 L374.7 317.2 L373 317.4 L371.3 317.7 L369.6 317.9 L368 318.1 L366.3 318.2 L364.6 318.4 L362.9 318.5 L361.3 318.6 L359.6 318.7 L357.9 318.7 L356.2 318.7 L354.6 318.6 L352.9 318.5 L351.2 318.4 L349.5 318.3 L347.9 318.2 L346.2 318 L344.5 317.7 L342.8 317.4 L341.1 316.2Z" fill="#0000ff" fill-opacity="0.9"/>
<path d="M396.4 311.7 L398.2 310.4 L400 309.9 L401.7 309.6 L403.5 309.4 L405.2 309.2 L407 309.1 L408.7 309.1 L410.5 309 L412.2 309 L414 309 L415.7 309 L417.5 309.1 L419.3 309.1 L421 309.2 L422.8 309.3 L424.5 309.4 L426.3 309.6 L428 309.8 L429.8 310 L431.5 310.4 L433.3 311.6 L433.3 311.6 L431.5 312.5 L429.8 312.7 L428 312.8 L426.3 312.8 L424.5 312.8 L422.8 312.9 L421 312.9 L419.3 312.9 L417.5 312.9 L415.7 312.9 L414 312.9 L412.2 312.8 L410.5 312.8 L408.7 312.8 L407 312.7 L405.2 312.6 L403.5 312.6 L401.7 312.6 L400 312.6 L398.2 312.5 L396.4 311.7Z" fill="#0000ff" fill-opacity="0.9"/>
</g>
<use href="#bands1" y="224.5"/>
</g>
<rect x="249" y="244.5" width="184.3" height="205" fill="none" stroke="#111" stroke-width="0.9"/>
<path d="M245.8 244.5H249 M245.8 285.5H249 M245.8 326.5H249 M245.8 367.5H249 M245.8 408.5H249 M245.8 449.5H249 M249 449.5V452.5 M316.5 449.5V452.5 M355.4 449.5V452.5 M433.3 449.5V452.5" stroke="#111" stroke-width="0.9" fill="none"/>
<text x="254.6" y="261.1" font-size="14.8">(e)</text>
<path d="M249 510H433.3 M249 551H433.3 M249 592H433.3 M249 633H433.3 M316.5 469V674 M355.4 469V674" stroke="#d0d0d0" stroke-width="0.8" stroke-dasharray="0.9 1.16" fill="none"/>
<g clip-path="url(#cp12)"><g filter="url(#bl)">
<path d="M285.9 520 L287.7 519.1 L289.5 519.1 L291.4 519.3 L293.2 519.5 L295.1 519.8 L296.9 520 L298.8 520.3 L300.6 520.7 L302.4 521.1 L304.3 522.6 L304.3 522.6 L302.4 523.8 L300.6 523.9 L298.8 523.9 L296.9 523.8 L295.1 523.6 L293.2 523.3 L291.4 522.9 L289.5 522.4 L287.7 521.8 L285.9 520Z" fill="#ff0000" fill-opacity="0.9"/>
<path d="M304.3 522.6 L305.2 521.4 L306.1 521.2 L307.1 521.2 L308 521.2 L308.9 521.3 L309.8 521.4 L310.7 521.7 L311.7 523 L311.7 523 L310.7 524.2 L309.8 524.4 L308.9 524.5 L308 524.5 L307.1 524.4 L306.1 524.2 L305.2 523.9 L304.3 522.6Z" fill="#0000ff" fill-opacity="0.9"/>
<path d="M374.3 519.7 L375.9 518.2 L377.5 517.7 L379.2 517.5 L380.8 517.3 L382.4 517.2 L384 517.1 L385.6 517.2 L387.2 518.3 L387.2 518.3 L385.6 520.1 L384 520.6 L382.4 520.9 L380.8 521.1 L379.2 521.2 L377.5 521.2 L375.9 521.1 L374.3 519.7Z" fill="#ff0000" fill-opacity="0.9"/>
<path d="M387.2 518.3 L388.4 516.8 L389.5 516.3 L390.7 515.9 L391.8 515.5 L393 515.2 L394.1 515 L395.3 514.9 L396.4 515.8 L396.4 515.8 L395.3 517.4 L394.1 518 L393 518.4 L391.8 518.8 L390.7 519.1 L389.5 519.3 L388.4 519.3 L387.2 518.3Z" fill="#0000ff" fill-opacity="0.9"/>
<path d="M285.9 524.6 L287.5 524.2 L289.2 524.5 L290.9 524.8 L292.6 525.1 L294.2 525.5 L295.9 525.8 L297.6 526 L299.3 526.2 L300.9 526.4 L302.6 526.5 L304.3 526.6 L306 526.6 L307.6 526.7 L309.3 526.7 L311 526.8 L312.7 526.8 L314.3 526.9 L316 526.9 L317.7 527 L319.4 527.1 L321 527.1 L322.7 527.2 L324.4 527.3 L326.1 527.3 L327.7 527.4 L329.4 527.5 L331.1 527.5 L332.8 527.6 L334.4 527.7 L336.1 527.7 L337.8 527.8 L339.5 527.9 L341.1 527.9 L342.8 528 L344.5 528.1 L346.2 528.2 L347.9 528.3 L349.5 528.4 L351.2 528.5 L352.9 528.5 L354.6 528.5 L356.2 528.6 L357.9 528.6 L359.6 528.6 L361.3 528.6 L362.9 528.5 L364.6 528.5 L366.3 528.5 L368 528.5 L369.6 528.4 L371.3 528.4 L373 528.4 L374.7 528.3 L376.3 528.3 L378 528.2 L379.7 528.1 L381.4 528.1 L383 528 L384.7 527.9 L386.4 527.7 L388.1 527.5 L389.7 527.2 L391.4 526.9 L393.1 526.5 L394.8 526.2 L396.4 526.5 L396.4 526.5 L394.8 527.9 L393.1 528.7 L391.4 529.3 L389.7 529.9 L388.1 530.3 L386.4 530.7 L384.7 531.1 L383 531.3 L381.4 531.5 L379.7 531.6 L378 531.8 L376.3 531.9 L374.7 532 L373 532.2 L371.3 532.3 L369.6 532.4 L368 532.5 L366.3 532.6 L364.6 532.6 L362.9 532.7 L361.3 532.7 L359.6 532.8 L357.9 532.8 L356.2 532.8 L354.6 532.9 L352.9 532.8 L351.2 532.8 L349.5 532.7 L347.9 532.7 L346.2 532.6 L344.5 532.5 L342.8 532.4 L341.1 532.3 L339.5 532.3 L337.8 532.2 L336.1 532.1 L334.4 532 L332.8 532 L331.1 531.9 L329.4 531.8 L327.7 531.7 L326.1 531.6 L324.4 531.5 L322.7 531.4 L321 531.3 L319.4 531.2 L317.7 531.1 L316 531 L314.3 530.9 L312.7 530.8 L311 530.7 L309.3 530.5 L307.6 530.4 L306 530.3 L304.3 530.1 L302.6 530 L300.9 529.8 L299.3 529.5 L297.6 529.2 L295.9 528.8 L294.2 528.3 L292.6 527.8 L290.9 527.2 L289.2 526.6 L287.5 525.9 L285.9 524.6Z" fill="#0000ff" fill-opacity="0.9"/>
<path d="M276.6 536.6 L278.4 535.3 L280.2 535 L281.9 534.8 L283.7 534.7 L285.4 534.6 L287.2 534.6 L288.9 534.6 L290.7 534.6 L292.4 534.6 L294.2 534.7 L296 534.8 L297.7 535 L299.5 535.2 L301.2 535.4 L303 535.6 L304.7 535.9 L306.5 536.2 L308.2 536.5 L310 536.9 L311.7 537.4 L313.5 539 L313.5 539 L311.7 540.2 L310 540.4 L308.2 540.4 L306.5 540.4 L304.7 540.3 L303 540.2 L301.2 540.1 L299.5 540 L297.7 539.9 L296 539.8 L294.2 539.7 L292.4 539.5 L290.7 539.4 L288.9 539.3 L287.2 539.2 L285.4 539 L283.7 538.9 L281.9 538.7 L280.2 538.4 L278.4 538.1 L276.6 536.6Z" fill="#ff0000" fill-opacity="0.9"/>
<path d="M341.1 540.7 L342.9 539.5 L344.7 539.2 L346.4 539.1 L348.2 539 L349.9 538.9 L351.7 538.8 L353.4 538.8 L355.2 538.8 L356.9 538.7 L358.7 538.6 L360.5 538.6 L362.2 538.5 L364 538.3 L365.7 538.2 L367.5 538.1 L369.2 538 L371 537.9 L372.7 537.8 L374.5 537.8 L376.3 537.8 L378 538.8 L378 538.8 L376.3 540.3 L374.5 540.8 L372.7 541.2 L371 541.6 L369.2 541.9 L367.5 542.2 L365.7 542.4 L364 542.7 L362.2 542.8 L360.5 543 L358.7 543 L356.9 543.1 L355.2 543.1 L353.4 543 L351.7 542.9 L349.9 542.8 L348.2 542.7 L346.4 542.5 L344.7 542.3 L342.9 541.9 L341.1 540.7Z" fill="#0000ff" fill-opacity="0.9"/>
<path d="M378 538.8 L379.7 537.4 L381.5 537 L383.2 536.6 L384.9 536.3 L386.6 535.9 L388.4 535.6 L390.1 535.3 L391.8 535 L393.6 534.7 L395.3 534.5 L397 534.3 L398.7 534.1 L400.5 534.1 L402.2 534.1 L403.9 534.3 L405.7 535.4 L405.7 535.4 L403.9 536.6 L402.2 537 L400.5 537.3 L398.7 537.6 L397 537.9 L395.3 538.2 L393.6 538.5 L391.8 538.8 L390.1 539.1 L388.4 539.4 L386.6 539.6 L384.9 539.7 L383.2 539.8 L381.5 539.8 L379.7 539.8 L378 538.8Z" fill="#ff0000" fill-opacity="0.9"/>
<path d="M267.4 540.3 L269.1 539.4 L270.8 539.2 L272.5 539.1 L274.3 539 L276 538.9 L277.7 538.8 L279.4 538.8 L281.1 538.7 L282.8 538.7 L284.5 538.6 L286.2 538.6 L287.9 538.6 L289.6 538.6 L291.3 538.6 L293 538.6 L294.7 538.6 L296.4 538.7 L298.1 538.7 L299.9 538.8 L301.6 538.8 L303.3 538.9 L305 539 L306.7 539.1 L308.4 539.3 L310.1 539.4 L311.8 539.7 L313.5 540.6 L313.5 540.6 L311.8 541.4 L310.1 541.5 L308.4 541.6 L306.7 541.7 L305 541.8 L303.3 541.8 L301.6 541.8 L299.9 541.9 L298.1 541.9 L296.4 541.9 L294.7 541.9 L293 541.9 L291.3 541.9 L289.6 541.9 L287.9 541.9 L286.2 541.9 L284.5 541.9 L282.8 541.8 L281.1 541.8 L279.4 541.8 L277.7 541.7 L276 541.6 L274.3 541.6 L272.5 541.5 L270.8 541.3 L269.1 541.1 L267.4 540.3Z" fill="#0000ff" fill-opacity="0.9"/>
<path d="M313.5 540.6 L315.2 539.9 L316.9 539.8 L318.6 539.8 L320.3 539.9 L322 540 L323.7 540.2 L325.4 540.4 L327.1 540.6 L328.8 540.9 L330.5 541.1 L332.2 541.3 L333.9 541.5 L335.6 541.7 L337.3 541.8 L339 541.8 L340.7 541.8 L342.4 541.8 L344.1 541.8 L345.8 541.8 L347.5 541.8 L349.2 541.8 L350.9 541.8 L352.5 541.9 L354.2 541.9 L355.9 541.9 L357.6 541.9 L359.3 541.8 L361 541.7 L362.7 541.6 L364.4 541.5 L366.1 541.3 L367.8 541.2 L369.5 541 L371.2 540.9 L372.9 540.8 L374.6 540.7 L376.3 540.7 L378 541.2 L378 541.2 L376.3 542 L374.6 542.3 L372.9 542.6 L371.2 542.9 L369.5 543.1 L367.8 543.4 L366.1 543.6 L364.4 543.9 L362.7 544.1 L361 544.2 L359.3 544.4 L357.6 544.5 L355.9 544.5 L354.2 544.5 L352.5 544.6 L350.9 544.6 L349.2 544.6 L347.5 544.6 L345.8 544.6 L344.1 544.6 L342.4 544.6 L340.7 544.6 L339 544.5 L337.3 544.5 L335.6 544.3 L333.9 544.1 L332.2 543.9 L330.5 543.6 L328.8 543.3 L327.1 543 L325.4 542.7 L323.7 542.4 L322 542.1 L320.3 541.9 L318.6 541.6 L316.9 541.4 L315.2 541.2 L313.5 540.6Z" fill="#ff0000" fill-opacity="0.9"/>
<path d="M331.9 560 L333.5 559.3 L335.2 559.7 L336.8 560.2 L338.4 560.8 L340 561.4 L341.6 562.1 L343.2 562.9 L344.8 564.9 L344.8 564.9 L343.2 565.8 L341.6 565.6 L340 565.2 L338.4 564.7 L336.8 564 L335.2 563.2 L333.5 562.2 L331.9 560Z" fill="#ff0000" fill-opacity="0.9"/>
<path d="M344.8 564.9 L346.7 563.9 L348.5 564.1 L350.4 564.4 L352.2 564.6 L354.1 564.7 L355.9 564.8 L357.7 564.8 L359.6 564.8 L361.4 564.8 L363.3 566 L363.3 566 L361.4 567.9 L359.6 568.5 L357.7 568.9 L355.9 569.2 L354.1 569.1 L352.2 568.9 L350.4 568.5 L348.5 567.9 L346.7 567 L344.8 564.9Z" fill="#0000ff" fill-opacity="0.9"/>
<path d="M363.3 566 L364.6 564.2 L366 563.5 L367.4 563 L368.8 562.6 L370.2 562.2 L371.6 561.8 L372.9 561.5 L374.3 562.2 L374.3 562.2 L372.9 564.3 L371.6 565.3 L370.2 566 L368.8 566.5 L367.4 566.8 L366 567 L364.6 567.1 L363.3 566Z" fill="#ff0000" fill-opacity="0.9"/>
<path d="M267.4 662.2 L269.1 661.7 L270.8 661.4 L272.5 661.1 L274.1 660.9 L275.8 660.6 L277.5 660.4 L279.2 660.1 L280.8 659.8 L282.5 659.6 L284.2 659.3 L285.9 659 L287.5 658.7 L289.2 658.5 L290.9 658.2 L292.6 658 L294.2 657.9 L295.9 657.7 L297.6 657.6 L299.3 657.5 L300.9 657.5 L302.6 657.4 L304.3 657.3 L306 657.3 L307.6 657.3 L309.3 657.2 L311 657.2 L312.7 657.1 L314.3 657 L316 657 L317.7 656.9 L319.4 656.8 L321 656.7 L322.7 656.6 L324.4 656.5 L326.1 656.4 L327.7 656.3 L329.4 656.2 L331.1 656.1 L332.8 656 L334.4 656 L336.1 655.9 L337.8 655.8 L339.5 655.8 L341.2 655.7 L342.8 655.7 L344.5 655.6 L346.2 655.6 L347.9 655.6 L349.5 655.5 L351.2 655.5 L352.9 655.5 L354.6 655.5 L356.2 655.5 L357.9 655.5 L359.6 655.6 L361.3 655.7 L362.9 655.9 L364.6 656 L366.3 656.2 L368 656.4 L369.6 656.6 L371.3 656.8 L373 657 L374.7 657.2 L376.3 657.4 L378 657.6 L379.7 657.8 L381.4 658 L383 658.2 L384.7 658.5 L386.4 658.7 L388.1 659 L389.7 659.2 L391.4 659.4 L393.1 659.7 L394.8 659.9 L396.4 660.2 L398.1 660.4 L399.8 660.6 L401.5 660.8 L403.1 661 L404.8 661.2 L406.5 661.4 L408.2 661.6 L409.8 661.9 L411.5 662.1 L413.2 662.3 L414.9 662.7 L414.9 662.7 L413.2 662.8 L411.5 662.7 L409.8 662.5 L408.2 662.4 L406.5 662.2 L404.8 662 L403.1 661.9 L401.5 661.7 L399.8 661.5 L398.1 661.3 L396.4 661.1 L394.8 660.9 L393.1 660.7 L391.4 660.5 L389.7 660.3 L388.1 660.1 L386.4 659.8 L384.7 659.6 L383 659.4 L381.4 659.2 L379.7 659 L378 658.8 L376.3 658.6 L374.7 658.4 L373 658.2 L371.3 658 L369.6 657.8 L368 657.7 L366.3 657.5 L364.6 657.3 L362.9 657.1 L361.3 657 L359.6 656.9 L357.9 656.8 L356.2 656.8 L354.6 656.8 L352.9 656.8 L351.2 656.8 L349.5 656.8 L347.9 656.9 L346.2 656.9 L344.5 657 L342.8 657 L341.2 657.1 L339.5 657.1 L337.8 657.2 L336.1 657.2 L334.4 657.3 L332.8 657.3 L331.1 657.4 L329.4 657.5 L327.7 657.6 L326.1 657.7 L324.4 657.8 L322.7 657.9 L321 658 L319.4 658.1 L317.7 658.2 L316 658.2 L314.3 658.3 L312.7 658.4 L311 658.4 L309.3 658.4 L307.6 658.5 L306 658.5 L304.3 658.5 L302.6 658.6 L300.9 658.6 L299.3 658.7 L297.6 658.7 L295.9 658.8 L294.2 659 L292.6 659.1 L290.9 659.3 L289.2 659.5 L287.5 659.7 L285.9 660 L284.2 660.2 L282.5 660.5 L280.8 660.7 L279.2 661 L277.5 661.2 L275.8 661.4 L274.1 661.6 L272.5 661.8 L270.8 662 L269.1 662.2 L267.4 662.2Z" fill="#0000ff" fill-opacity="0.9"/>
<path d="M282.2 532.6 L283.9 532.2 L285.5 532.2 L287.2 532.1 L288.9 532 L290.6 532 L292.3 532 L293.9 531.9 L295.6 531.9 L297.3 531.9 L299 531.9 L300.7 531.8 L302.3 531.8 L304 531.8 L305.7 531.8 L307.4 531.8 L309.1 531.8 L310.7 531.7 L312.4 531.7 L314.1 531.7 L315.8 531.7 L317.5 531.7 L319.1 531.7 L320.8 531.7 L322.5 531.8 L324.2 531.9 L325.9 531.9 L327.5 532 L329.2 532.1 L330.9 532.1 L332.6 532.2 L334.3 532.3 L335.9 532.3 L337.6 532.4 L339.3 532.4 L341 532.4 L342.7 532.2 L344.3 531.9 L346 531.6 L347.7 531.2 L349.4 530.8 L351.1 530.4 L352.8 530.1 L354.4 530 L356.1 530 L357.8 530 L359.5 530.1 L361.2 530.3 L362.8 530.5 L364.5 530.7 L366.2 531 L367.9 531.3 L369.6 531.5 L371.2 531.8 L372.9 532.1 L374.6 532.3 L376.3 532.6 L378 532.7 L379.6 532.9 L381.3 533 L383 533.1 L384.7 533.1 L386.4 533.1 L388 533.1 L389.7 533.2 L391.4 533.2 L393.1 533.3 L394.8 533.4 L396.4 533.8 L396.4 533.8 L394.8 534.2 L393.1 534.3 L391.4 534.3 L389.7 534.4 L388 534.4 L386.4 534.5 L384.7 534.5 L383 534.5 L381.3 534.5 L379.6 534.5 L378 534.3 L376.3 534.2 L374.6 534 L372.9 533.8 L371.2 533.5 L369.6 533.3 L367.9 533 L366.2 532.8 L364.5 532.6 L362.8 532.4 L361.2 532.2 L359.5 532 L357.8 531.9 L356.1 531.9 L354.4 531.9 L352.8 532.1 L351.1 532.4 L349.4 532.7 L347.7 533.1 L346 533.5 L344.3 533.9 L342.7 534.2 L341 534.3 L339.3 534.4 L337.6 534.3 L335.9 534.3 L334.3 534.2 L332.6 534.2 L330.9 534.1 L329.2 534 L327.5 533.9 L325.9 533.9 L324.2 533.8 L322.5 533.7 L320.8 533.6 L319.1 533.6 L317.5 533.6 L315.8 533.6 L314.1 533.5 L312.4 533.5 L310.7 533.5 L309.1 533.5 L307.4 533.5 L305.7 533.5 L304 533.5 L302.3 533.4 L300.7 533.4 L299 533.4 L297.3 533.4 L295.6 533.4 L293.9 533.3 L292.3 533.3 L290.6 533.3 L288.9 533.2 L287.2 533.2 L285.5 533.1 L283.9 533 L282.2 532.6Z" fill="#ff0000" fill-opacity="0.9"/>
<path d="M400.1 535.7 L401.8 534.4 L403.5 534.1 L405.2 533.9 L406.8 533.8 L408.5 533.8 L410.2 533.8 L411.9 533.8 L413.5 533.9 L415.2 534.1 L416.9 534.3 L418.6 535.5 L418.6 535.5 L416.9 536.6 L415.2 536.8 L413.5 537 L411.9 537 L410.2 537.1 L408.5 537.1 L406.8 537 L405.2 536.9 L403.5 536.8 L401.8 536.7 L400.1 535.7Z" fill="#0000ff" fill-opacity="0.9"/>
</g>
<use href="#bands1" y="449"/>
</g>
<rect x="249" y="469" width="184.3" height="205" fill="none" stroke="#111" stroke-width="0.9"/>
<path d="M245.8 469H249 M245.8 510H249 M245.8 551H249 M245.8 592H249 M245.8 633H249 M245.8 674H249 M249 674V677 M316.5 674V677 M355.4 674V677 M433.3 674V677" stroke="#111" stroke-width="0.9" fill="none"/>
<text x="254.6" y="485.6" font-size="14.8">(h)</text>
<path d="M249 734.5H433.3 M249 775.5H433.3 M249 816.5H433.3 M249 857.5H433.3 M316.5 693.5V898.5 M355.4 693.5V898.5" stroke="#d0d0d0" stroke-width="0.8" stroke-dasharray="0.9 1.16" fill="none"/>
<g clip-path="url(#cp13)"><g filter="url(#bl)">
<path d="M295.1 746.2 L296.8 745.6 L298.4 745.6 L300.1 745.6 L301.8 745.7 L303.5 745.7 L305.2 745.8 L306.9 745.8 L308.5 745.9 L310.2 745.9 L311.9 746 L313.6 746 L315.3 746 L317 745.9 L318.7 745.9 L320.3 745.7 L322 745.6 L323.7 745.4 L325.4 745.2 L327.1 745 L328.8 744.8 L330.4 744.6 L332.1 744.4 L333.8 744.2 L335.5 744 L337.2 743.8 L338.9 743.7 L340.5 743.6 L342.2 743.6 L343.9 743.5 L345.6 743.5 L347.3 743.4 L349 743.4 L350.7 743.4 L352.3 743.3 L354 743.3 L355.7 743.3 L357.4 743.2 L359.1 743.2 L360.8 743.1 L362.4 743.1 L364.1 743 L365.8 743 L367.5 742.9 L369.2 742.8 L370.9 742.8 L372.5 742.7 L374.2 742.6 L375.9 742.5 L377.6 742.4 L379.3 742.4 L381 742.3 L382.6 742.2 L384.3 742 L386 741.8 L387.7 741.6 L389.4 741.3 L391.1 741.1 L392.8 741.4 L392.8 741.4 L391.1 742.7 L389.4 743.3 L387.7 743.8 L386 744.3 L384.3 744.6 L382.6 744.9 L381 745.1 L379.3 745.3 L377.6 745.5 L375.9 745.7 L374.2 745.8 L372.5 746 L370.9 746.1 L369.2 746.3 L367.5 746.4 L365.8 746.5 L364.1 746.6 L362.4 746.7 L360.8 746.8 L359.1 746.9 L357.4 747 L355.7 747 L354 747.1 L352.3 747.2 L350.7 747.2 L349 747.2 L347.3 747.3 L345.6 747.3 L343.9 747.4 L342.2 747.4 L340.5 747.5 L338.9 747.5 L337.2 747.7 L335.5 747.8 L333.8 748 L332.1 748.1 L330.4 748.3 L328.8 748.5 L327.1 748.7 L325.4 748.9 L323.7 749 L322 749.1 L320.3 749.2 L318.7 749.3 L317 749.3 L315.3 749.3 L313.6 749.2 L311.9 749.1 L310.2 749 L308.5 748.8 L306.9 748.7 L305.2 748.5 L303.5 748.3 L301.8 748.1 L300.1 747.9 L298.4 747.6 L296.8 747.2 L295.1 746.2Z" fill="#0000ff" fill-opacity="0.9"/>
<path d="M304.3 748.9 L306 748.3 L307.7 748.2 L309.4 748.2 L311.1 748.1 L312.8 748.1 L314.4 748.1 L316.1 748 L317.8 748 L319.5 747.9 L321.2 747.8 L322.9 747.8 L324.6 747.7 L326.3 747.6 L328 747.5 L329.7 747.4 L331.4 747.3 L333.1 747.2 L334.8 747.2 L336.4 747.1 L338.1 747 L339.8 747 L341.5 747 L343.2 747 L344.9 746.9 L346.6 746.9 L348.3 746.9 L350 746.9 L351.7 746.9 L353.4 746.9 L355.1 746.9 L356.8 746.9 L358.5 746.8 L360.1 746.8 L361.8 746.7 L363.5 746.6 L365.2 746.5 L366.9 746.4 L368.6 746.3 L370.3 746.2 L372 746.1 L373.7 746 L375.4 746 L377.1 745.9 L378.8 745.9 L380.5 745.9 L382.1 746 L383.8 746.1 L385.5 746.2 L387.2 746.9 L387.2 746.9 L385.5 747.4 L383.8 747.5 L382.1 747.6 L380.5 747.7 L378.8 747.9 L377.1 748 L375.4 748.1 L373.7 748.3 L372 748.4 L370.3 748.6 L368.6 748.7 L366.9 748.9 L365.2 749 L363.5 749.2 L361.8 749.3 L360.1 749.4 L358.5 749.5 L356.8 749.5 L355.1 749.6 L353.4 749.6 L351.7 749.6 L350 749.7 L348.3 749.7 L346.6 749.7 L344.9 749.7 L343.2 749.7 L341.5 749.7 L339.8 749.7 L338.1 749.7 L336.4 749.8 L334.8 749.8 L333.1 749.9 L331.4 749.9 L329.7 750 L328 750.1 L326.3 750.1 L324.6 750.1 L322.9 750.2 L321.2 750.2 L319.5 750.2 L317.8 750.2 L316.1 750.2 L314.4 750.1 L312.8 750 L311.1 750 L309.4 749.9 L307.7 749.7 L306 749.5 L304.3 748.9Z" fill="#ff0000" fill-opacity="0.9"/>
<path d="M285.9 761.3 L287.5 760.4 L289.2 760.2 L290.9 760.1 L292.6 760 L294.3 760 L296 760.1 L297.7 760.1 L299.4 760.2 L301.1 760.3 L302.8 760.4 L304.4 760.5 L306.1 760.6 L307.8 760.8 L309.5 760.9 L311.2 761 L312.9 761.1 L314.6 761.3 L316.3 761.4 L318 761.5 L319.6 761.6 L321.3 761.7 L323 761.8 L324.7 761.9 L326.4 762 L328.1 762.1 L329.8 762.2 L331.5 762.3 L333.2 762.4 L334.9 762.5 L336.5 762.5 L338.2 762.6 L339.9 762.7 L341.6 762.7 L343.3 762.8 L345 762.8 L346.7 762.9 L348.4 762.9 L350.1 763 L351.7 763 L353.4 763 L355.1 763.1 L356.8 763.1 L358.5 763.1 L360.2 763 L361.9 762.9 L363.6 762.8 L365.3 762.7 L367 762.6 L368.6 762.4 L370.3 762.3 L372 762.1 L373.7 762 L375.4 761.8 L377.1 761.7 L378.8 761.6 L380.5 761.5 L382.2 761.4 L383.8 761.4 L385.5 761.4 L387.2 762.2 L387.2 762.2 L385.5 763.4 L383.8 763.9 L382.2 764.2 L380.5 764.6 L378.8 764.9 L377.1 765.2 L375.4 765.5 L373.7 765.8 L372 766 L370.3 766.3 L368.6 766.6 L367 766.8 L365.3 767 L363.6 767.2 L361.9 767.4 L360.2 767.5 L358.5 767.6 L356.8 767.7 L355.1 767.8 L353.4 767.8 L351.7 767.8 L350.1 767.8 L348.4 767.8 L346.7 767.7 L345 767.7 L343.3 767.7 L341.6 767.6 L339.9 767.6 L338.2 767.5 L336.5 767.5 L334.9 767.4 L333.2 767.3 L331.5 767.2 L329.8 767.1 L328.1 767 L326.4 766.8 L324.7 766.7 L323 766.6 L321.3 766.4 L319.6 766.3 L318 766.1 L316.3 766 L314.6 765.8 L312.9 765.7 L311.2 765.5 L309.5 765.3 L307.8 765.1 L306.1 764.9 L304.4 764.7 L302.8 764.4 L301.1 764.2 L299.4 764 L297.7 763.8 L296 763.6 L294.3 763.3 L292.6 763.1 L290.9 762.9 L289.2 762.7 L287.5 762.4 L285.9 761.3Z" fill="#ff0000" fill-opacity="0.9"/>
<path d="M295.1 764.8 L296.8 764.1 L298.4 763.9 L300.1 763.8 L301.8 763.8 L303.5 763.7 L305.1 763.7 L306.8 763.7 L308.5 763.7 L310.2 763.6 L311.8 763.6 L313.5 763.6 L315.2 763.7 L316.9 763.7 L318.5 763.7 L320.2 763.9 L321.9 764 L323.6 764.2 L325.2 764.4 L326.9 764.7 L328.6 764.9 L330.3 765.2 L331.9 765.4 L333.6 765.6 L335.3 765.8 L337 766 L338.6 766 L340.3 766.1 L342 766.1 L343.7 766.1 L345.3 766.1 L347 766.1 L348.7 766.1 L350.4 766.1 L352 766.1 L353.7 766.1 L355.4 766.1 L357.1 766.1 L358.7 766.1 L360.4 766 L362.1 765.9 L363.8 765.7 L365.4 765.6 L367.1 765.4 L368.8 765.3 L370.5 765.1 L372.1 764.9 L373.8 764.8 L375.5 764.7 L377.2 764.6 L378.8 764.5 L380.5 764.5 L382.2 764.5 L383.9 764.6 L385.5 764.7 L387.2 765.4 L387.2 765.4 L385.5 766.1 L383.9 766.3 L382.2 766.4 L380.5 766.6 L378.8 766.8 L377.2 766.9 L375.5 767.2 L373.8 767.4 L372.1 767.6 L370.5 767.8 L368.8 768.1 L367.1 768.3 L365.4 768.5 L363.8 768.7 L362.1 768.9 L360.4 769.1 L358.7 769.2 L357.1 769.3 L355.4 769.3 L353.7 769.3 L352 769.3 L350.4 769.3 L348.7 769.3 L347 769.4 L345.3 769.4 L343.7 769.4 L342 769.4 L340.3 769.4 L338.6 769.3 L337 769.2 L335.3 769.1 L333.6 768.9 L331.9 768.7 L330.3 768.4 L328.6 768.1 L326.9 767.9 L325.2 767.6 L323.6 767.3 L321.9 767.1 L320.2 766.9 L318.5 766.7 L316.9 766.6 L315.2 766.5 L313.5 766.5 L311.8 766.4 L310.2 766.3 L308.5 766.2 L306.8 766.2 L305.1 766.1 L303.5 766 L301.8 765.9 L300.1 765.8 L298.4 765.7 L296.8 765.5 L295.1 764.8Z" fill="#0000ff" fill-opacity="0.9"/>
<path d="M331.9 784.5 L333.1 783.6 L334.2 783.8 L335.4 784.2 L336.5 784.6 L337.7 785.1 L338.8 785.7 L340 786.3 L341.1 788.2 L341.1 788.2 L340 789.2 L338.8 789.1 L337.7 788.9 L336.5 788.5 L335.4 787.9 L334.2 787.3 L333.1 786.5 L331.9 784.5Z" fill="#0000ff" fill-opacity="0.9"/>
<path d="M341.1 788.2 L342.9 787.4 L344.6 787.7 L346.4 788.1 L348.1 788.4 L349.8 788.7 L351.6 789 L353.3 789.2 L355 789.3 L356.8 789.3 L358.5 789.1 L360.2 788.9 L362 788.7 L363.7 788.4 L365.4 788.1 L367.2 787.8 L368.9 787.7 L370.6 788.4 L370.6 788.4 L368.9 790.3 L367.2 791.1 L365.4 791.7 L363.7 792.3 L362 792.8 L360.2 793.2 L358.5 793.5 L356.8 793.7 L355 793.7 L353.3 793.6 L351.6 793.3 L349.8 792.9 L348.1 792.3 L346.4 791.7 L344.6 790.9 L342.9 790.1 L341.1 788.2Z" fill="#ff0000" fill-opacity="0.9"/>
<path d="M282.2 748 L282.6 747.1 L283.1 747 L283.6 747.1 L284 747.2 L284.5 747.4 L284.9 747.6 L285.4 747.9 L285.9 749.1 L285.9 749.1 L285.4 750 L284.9 750.1 L284.5 750 L284 749.9 L283.6 749.8 L283.1 749.5 L282.6 749.2 L282.2 748Z" fill="#ff0000" fill-opacity="0.9"/>
<path d="M278.5 760.7 L278.9 759.9 L279.4 759.8 L279.9 759.9 L280.3 760 L280.8 760.2 L281.3 760.5 L281.7 760.9 L282.2 762.1 L282.2 762.1 L281.7 762.9 L281.3 763 L280.8 762.9 L280.3 762.8 L279.9 762.6 L279.4 762.3 L278.9 761.9 L278.5 760.7Z" fill="#0000ff" fill-opacity="0.9"/>
<path d="M249 848.1 L250.8 846.4 L252.7 846 L254.5 845.8 L256.4 845.6 L258.2 845.5 L260.1 845.5 L261.9 845.6 L263.7 847 L263.7 847 L261.9 848.9 L260.1 849.5 L258.2 849.8 L256.4 850 L254.5 850.1 L252.7 850 L250.8 849.7 L249 848.1Z" fill="#ff0000" fill-opacity="0.9"/>
<path d="M418.6 847.9 L420.4 846.4 L422.2 846.2 L424.1 846.1 L425.9 846.1 L427.8 846.2 L429.6 846.5 L431.5 846.8 L433.3 848.5 L433.3 848.5 L431.5 850.1 L429.6 850.4 L427.8 850.5 L425.9 850.5 L424.1 850.4 L422.2 850.1 L420.4 849.7 L418.6 847.9Z" fill="#ff0000" fill-opacity="0.9"/>
<path d="M258.2 849.7 L259.9 848.9 L261.7 849 L263.4 849.3 L265.1 849.7 L266.9 850.2 L268.6 850.7 L270.3 851.4 L272 852.1 L273.8 852.8 L275.5 853.5 L277.2 854.3 L278.9 855 L280.7 855.8 L282.4 856.5 L284.1 857.3 L285.9 858.7 L285.9 858.7 L284.1 859.3 L282.4 859 L280.7 858.5 L278.9 858 L277.2 857.4 L275.5 856.7 L273.8 856.1 L272 855.4 L270.3 854.7 L268.6 854 L266.9 853.3 L265.1 852.7 L263.4 852.1 L261.7 851.5 L259.9 850.9 L258.2 849.7Z" fill="#0000ff" fill-opacity="0.9"/>
<path d="M258.2 854.2 L259.9 853.7 L261.7 853.9 L263.4 854.2 L265.1 854.6 L266.9 855 L268.6 855.6 L270.3 856.1 L272 856.7 L273.8 857.4 L275.5 858 L277.2 858.7 L278.9 859.4 L280.7 860.1 L282.4 860.9 L284.1 861.7 L285.9 863.1 L285.9 863.1 L284.1 863.3 L282.4 862.9 L280.7 862.4 L278.9 861.9 L277.2 861.3 L275.5 860.7 L273.8 860.1 L272 859.5 L270.3 858.9 L268.6 858.2 L266.9 857.6 L265.1 857.1 L263.4 856.5 L261.7 855.9 L259.9 855.4 L258.2 854.2Z" fill="#ff0000" fill-opacity="0.9"/>
<path d="M396.4 856.9 L398.2 855.5 L399.9 854.9 L401.6 854.4 L403.4 853.9 L405.1 853.3 L406.8 852.7 L408.5 852 L410.3 851.4 L412 850.7 L413.7 850.1 L415.4 849.6 L417.2 849.2 L418.9 849 L420.6 848.9 L422.4 848.9 L424.1 849.7 L424.1 849.7 L422.4 850.9 L420.6 851.3 L418.9 851.7 L417.2 852.2 L415.4 852.8 L413.7 853.4 L412 854 L410.3 854.7 L408.5 855.3 L406.8 855.9 L405.1 856.4 L403.4 856.8 L401.6 857.2 L399.9 857.4 L398.2 857.6 L396.4 856.9Z" fill="#0000ff" fill-opacity="0.9"/>
<path d="M396.4 865.5 L398.2 864.1 L399.9 863.4 L401.6 862.7 L403.4 862 L405.1 861.1 L406.8 860.2 L408.5 859.1 L410.3 858.1 L412 857 L413.7 856 L415.4 855.1 L417.2 854.4 L418.9 853.8 L420.6 853.6 L422.4 853.4 L424.1 854 L424.1 854 L422.4 855.1 L420.6 855.6 L418.9 856.1 L417.2 856.9 L415.4 857.7 L413.7 858.7 L412 859.7 L410.3 860.8 L408.5 861.9 L406.8 862.9 L405.1 863.7 L403.4 864.5 L401.6 865 L399.9 865.4 L398.2 865.8 L396.4 865.5Z" fill="#ff0000" fill-opacity="0.9"/>
<path d="M267.4 886.7 L269.1 886.2 L270.8 885.9 L272.5 885.6 L274.1 885.4 L275.8 885.1 L277.5 884.9 L279.2 884.6 L280.8 884.3 L282.5 884.1 L284.2 883.8 L285.9 883.5 L287.5 883.2 L289.2 883 L290.9 882.7 L292.6 882.5 L294.2 882.4 L295.9 882.2 L297.6 882.1 L299.3 882 L300.9 882 L302.6 881.9 L304.3 881.8 L306 881.8 L307.6 881.8 L309.3 881.7 L311 881.7 L312.7 881.6 L314.3 881.5 L316 881.5 L317.7 881.4 L319.4 881.3 L321 881.2 L322.7 881.1 L324.4 881 L326.1 880.9 L327.7 880.8 L329.4 880.7 L331.1 880.6 L332.8 880.5 L334.4 880.5 L336.1 880.4 L337.8 880.3 L339.5 880.3 L341.2 880.2 L342.8 880.2 L344.5 880.1 L346.2 880.1 L347.9 880.1 L349.5 880 L351.2 880 L352.9 880 L354.6 880 L356.2 880 L357.9 880 L359.6 880.1 L361.3 880.2 L362.9 880.4 L364.6 880.5 L366.3 880.7 L368 880.9 L369.6 881.1 L371.3 881.3 L373 881.5 L374.7 881.7 L376.3 881.9 L378 882.1 L379.7 882.3 L381.4 882.5 L383 882.7 L384.7 883 L386.4 883.2 L388.1 883.5 L389.7 883.7 L391.4 883.9 L393.1 884.2 L394.8 884.4 L396.4 884.7 L398.1 884.9 L399.8 885.1 L401.5 885.3 L403.1 885.5 L404.8 885.7 L406.5 885.9 L408.2 886.1 L409.8 886.4 L411.5 886.6 L413.2 886.8 L414.9 887.2 L414.9 887.2 L413.2 887.3 L411.5 887.2 L409.8 887 L408.2 886.9 L406.5 886.7 L404.8 886.5 L403.1 886.4 L401.5 886.2 L399.8 886 L398.1 885.8 L396.4 885.6 L394.8 885.4 L393.1 885.2 L391.4 885 L389.7 884.8 L388.1 884.6 L386.4 884.3 L384.7 884.1 L383 883.9 L381.4 883.7 L379.7 883.5 L378 883.3 L376.3 883.1 L374.7 882.9 L373 882.7 L371.3 882.5 L369.6 882.3 L368 882.2 L366.3 882 L364.6 881.8 L362.9 881.6 L361.3 881.5 L359.6 881.4 L357.9 881.3 L356.2 881.3 L354.6 881.3 L352.9 881.3 L351.2 881.3 L349.5 881.3 L347.9 881.4 L346.2 881.4 L344.5 881.5 L342.8 881.5 L341.2 881.6 L339.5 881.6 L337.8 881.7 L336.1 881.7 L334.4 881.8 L332.8 881.8 L331.1 881.9 L329.4 882 L327.7 882.1 L326.1 882.2 L324.4 882.3 L322.7 882.4 L321 882.5 L319.4 882.6 L317.7 882.7 L316 882.7 L314.3 882.8 L312.7 882.9 L311 882.9 L309.3 882.9 L307.6 883 L306 883 L304.3 883 L302.6 883.1 L300.9 883.1 L299.3 883.2 L297.6 883.2 L295.9 883.3 L294.2 883.5 L292.6 883.6 L290.9 883.8 L289.2 884 L287.5 884.2 L285.9 884.5 L284.2 884.7 L282.5 885 L280.8 885.2 L279.2 885.5 L277.5 885.7 L275.8 885.9 L274.1 886.1 L272.5 886.3 L270.8 886.5 L269.1 886.7 L267.4 886.7Z" fill="#0000ff" fill-opacity="0.9"/>
<path d="M363.3 755.1 L365 754.2 L366.7 753.9 L368.4 753.8 L370.1 753.6 L371.8 753.5 L373.5 753.4 L375.2 753.3 L377 753.2 L378.7 753.1 L380.4 753.1 L382.1 753 L383.8 753 L385.5 753 L387.2 753.6 L387.2 753.6 L385.5 754.8 L383.8 755.2 L382.1 755.4 L380.4 755.6 L378.7 755.8 L377 755.9 L375.2 756 L373.5 756.1 L371.8 756.1 L370.1 756.2 L368.4 756.1 L366.7 756.1 L365 755.9 L363.3 755.1Z" fill="#0000ff" fill-opacity="0.9"/>
<path d="M282.2 748 L282.6 746.9 L283.1 746.8 L283.6 746.8 L284 746.9 L284.5 747.1 L284.9 747.3 L285.4 747.7 L285.9 749.1 L285.9 749.1 L285.4 750.2 L284.9 750.3 L284.5 750.3 L284 750.2 L283.6 750 L283.1 749.8 L282.6 749.4 L282.2 748Z" fill="#0000ff" fill-opacity="0.9"/>
<path d="M400.1 739.2 L400.6 737.9 L401 737.5 L401.5 737.3 L402 737.1 L402.4 737 L402.9 737.1 L403.4 737.2 L403.8 738.3 L403.8 738.3 L403.4 739.7 L402.9 740 L402.4 740.3 L402 740.4 L401.5 740.5 L401 740.5 L400.6 740.3 L400.1 739.2Z" fill="#0000ff" fill-opacity="0.9"/>
<path d="M289.5 770.7 L290 769.8 L290.5 769.7 L290.9 769.8 L291.4 769.9 L291.8 770.1 L292.3 770.3 L292.8 770.7 L293.2 771.8 L293.2 771.8 L292.8 772.7 L292.3 772.8 L291.8 772.8 L291.4 772.6 L290.9 772.5 L290.5 772.2 L290 771.9 L289.5 770.7Z" fill="#0000ff" fill-opacity="0.9"/>
<path d="M333.8 759 L334.2 757.7 L334.7 757.2 L335.2 756.9 L335.6 756.6 L336.1 756.3 L336.5 756.2 L337 756.2 L337.5 757 L337.5 757 L337 758.2 L336.5 758.7 L336.1 759 L335.6 759.3 L335.2 759.5 L334.7 759.7 L334.2 759.8 L333.8 759Z" fill="#0000ff" fill-opacity="0.9"/>
<path d="M413 764.6 L413.5 763.2 L413.9 762.8 L414.4 762.5 L414.9 762.4 L415.3 762.3 L415.8 762.3 L416.3 762.4 L416.7 763.5 L416.7 763.5 L416.3 764.9 L415.8 765.3 L415.3 765.5 L414.9 765.7 L414.4 765.8 L413.9 765.8 L413.5 765.7 L413 764.6Z" fill="#0000ff" fill-opacity="0.9"/>
<path d="M402 749 L402.4 747.8 L402.9 747.4 L403.4 747.1 L403.8 746.8 L404.3 746.6 L404.7 746.5 L405.2 746.5 L405.7 747.2 L405.7 747.2 L405.2 748.5 L404.7 749 L404.3 749.3 L403.8 749.6 L403.4 749.8 L402.9 749.9 L402.4 749.8 L402 749Z" fill="#0000ff" fill-opacity="0.9"/>
<path d="M320.9 781.5 L321.3 780.1 L321.8 779.6 L322.3 779.3 L322.7 779 L323.2 778.9 L323.6 778.8 L324.1 778.9 L324.6 779.9 L324.6 779.9 L324.1 781.3 L323.6 781.8 L323.2 782.1 L322.7 782.3 L322.3 782.5 L321.8 782.6 L321.3 782.6 L320.9 781.5Z" fill="#0000ff" fill-opacity="0.9"/>
<path d="M260.1 760.8 L260.5 759.8 L261 759.6 L261.4 759.5 L261.9 759.5 L262.4 759.5 L262.8 759.6 L263.3 759.8 L263.7 760.9 L263.7 760.9 L263.3 761.9 L262.8 762.1 L262.4 762.2 L261.9 762.2 L261.4 762.2 L261 762.1 L260.5 761.8 L260.1 760.8Z" fill="#ff0000" fill-opacity="0.9"/>
</g>
<use href="#bands1" y="673.5"/>
</g>
<rect x="249" y="693.5" width="184.3" height="205" fill="none" stroke="#111" stroke-width="0.9"/>
<path d="M245.8 693.5H249 M245.8 734.5H249 M245.8 775.5H249 M245.8 816.5H249 M245.8 857.5H249 M245.8 898.5H249 M249 898.5V901.5 M316.5 898.5V901.5 M355.4 898.5V901.5 M433.3 898.5V901.5" stroke="#111" stroke-width="0.9" fill="none"/>
<text x="254.6" y="710.1" font-size="14.8">(k)</text>
<path d="M446.7 61H616.5 M446.7 102H616.5 M446.7 143H616.5 M446.7 184H616.5 M508.9 20V225 M544.7 20V225" stroke="#d0d0d0" stroke-width="0.8" stroke-dasharray="0.9 1.16" fill="none"/>
<g clip-path="url(#cp20)"><g filter="url(#bl)">
<path d="M456.9 61.7 L458.4 61.4 L460 61.4 L461.5 61.5 L463.1 61.6 L464.7 61.7 L466.2 61.8 L467.8 61.9 L469.3 62 L470.9 62.1 L472.4 62.2 L474 62.3 L475.5 62.4 L477.1 62.5 L478.6 62.6 L480.2 62.7 L481.7 62.7 L483.3 62.8 L484.8 62.9 L486.4 63 L487.9 63.1 L489.5 63.2 L491 63.3 L492.6 63.4 L494.1 63.4 L495.7 63.5 L497.3 63.6 L498.8 63.7 L500.4 63.8 L501.9 63.9 L503.5 64 L505 64 L506.6 64.1 L508.1 64.3 L509.7 64.2 L511.2 64.4 L511.2 64.4 L509.7 65.2 L508.1 65.4 L506.6 65.5 L505 65.5 L503.5 65.5 L501.9 65.5 L500.4 65.5 L498.8 65.4 L497.3 65.4 L495.7 65.4 L494.1 65.3 L492.6 65.3 L491 65.2 L489.5 65.1 L487.9 65.1 L486.4 65 L484.8 64.9 L483.3 64.8 L481.7 64.7 L480.2 64.6 L478.6 64.5 L477.1 64.4 L475.5 64.3 L474 64.2 L472.4 64.1 L470.9 63.9 L469.3 63.8 L467.8 63.6 L466.2 63.4 L464.7 63.2 L463.1 63.1 L461.5 62.8 L460 62.6 L458.4 62.3 L456.9 61.7Z" fill="#0000ff" fill-opacity="0.9"/>
<path d="M562.2 62.5 L563.7 62.2 L565.3 62.2 L566.9 62.3 L568.5 62.4 L570.1 62.5 L571.6 62.5 L573.2 62.5 L574.8 62.5 L576.4 62.5 L578 62.5 L579.6 62.5 L581.1 62.4 L582.7 62.4 L584.3 62.4 L585.9 62.3 L587.5 62.3 L589 62.2 L590.6 62.2 L592.2 62.1 L593.8 62.1 L595.4 62 L596.9 61.9 L598.5 61.9 L600.1 61.8 L601.7 61.7 L603.3 61.6 L604.8 61.6 L606.4 61.5 L608 61.9 L608 61.9 L606.4 62.5 L604.8 62.8 L603.3 63 L601.7 63.2 L600.1 63.4 L598.5 63.6 L596.9 63.7 L595.4 63.8 L593.8 63.9 L592.2 64 L590.6 64.1 L589 64.2 L587.5 64.3 L585.9 64.3 L584.3 64.3 L582.7 64.4 L581.1 64.4 L579.6 64.4 L578 64.4 L576.4 64.4 L574.8 64.4 L573.2 64.3 L571.6 64.2 L570.1 64.1 L568.5 63.9 L566.9 63.7 L565.3 63.5 L563.7 63.2 L562.2 62.5Z" fill="#0000ff" fill-opacity="0.9"/>
<path d="M451.8 70.3 L453.3 70 L454.9 69.9 L456.4 69.9 L458 69.8 L459.5 69.8 L461.1 69.8 L462.7 69.8 L464.2 69.8 L465.8 69.8 L467.3 69.8 L468.9 69.9 L470.4 69.9 L472 69.9 L473.5 69.9 L475.1 69.9 L476.6 69.9 L478.2 70 L479.7 70 L481.3 70 L482.8 70 L484.4 70.1 L485.9 70.1 L487.5 70.1 L489 70.2 L490.6 70.2 L492.1 70.3 L493.7 70.3 L495.2 70.4 L496.8 70.4 L498.3 70.5 L499.9 70.5 L501.4 70.6 L503 70.7 L504.5 70.7 L506.1 70.8 L507.6 70.9 L509.2 71 L510.7 71.1 L512.3 71.3 L513.8 71.4 L515.4 71.7 L516.9 71.9 L518.5 72.1 L520 72.4 L521.6 72.6 L523.1 72.9 L524.7 73.1 L526.2 73.3 L527.8 73.5 L529.3 73.6 L530.9 73.8 L532.4 73.8 L534 73.9 L535.6 73.9 L537.1 73.9 L538.7 73.8 L540.2 73.8 L541.8 73.8 L543.3 73.8 L544.9 73.8 L546.4 73.8 L548 73.7 L549.5 73.6 L551.1 73.5 L552.6 73.4 L554.2 73.2 L555.7 73 L557.3 72.8 L558.8 72.6 L560.4 72.4 L561.9 72.2 L563.5 72 L565 71.8 L566.6 71.5 L568.1 71.3 L569.7 71.2 L571.2 71 L572.8 70.8 L574.3 70.7 L575.9 70.6 L577.4 70.5 L579 70.4 L580.5 70.3 L582.1 70.2 L583.6 70.1 L585.2 70.1 L586.7 70 L588.3 69.9 L589.8 69.8 L591.4 69.8 L592.9 69.7 L594.5 69.7 L596 69.7 L597.6 69.6 L599.1 69.6 L600.7 69.6 L602.2 69.6 L603.8 69.7 L605.3 69.7 L606.9 69.7 L608.5 69.7 L610 69.7 L611.6 69.8 L613.1 70.1 L613.1 70.1 L611.6 70.4 L610 70.5 L608.5 70.6 L606.9 70.6 L605.3 70.7 L603.8 70.7 L602.2 70.7 L600.7 70.8 L599.1 70.8 L597.6 70.9 L596 70.9 L594.5 71 L592.9 71.1 L591.4 71.1 L589.8 71.2 L588.3 71.3 L586.7 71.4 L585.2 71.5 L583.6 71.6 L582.1 71.7 L580.5 71.8 L579 71.9 L577.4 72 L575.9 72.2 L574.3 72.3 L572.8 72.4 L571.2 72.6 L569.7 72.8 L568.1 73 L566.6 73.2 L565 73.4 L563.5 73.6 L561.9 73.9 L560.4 74.1 L558.8 74.3 L557.3 74.5 L555.7 74.7 L554.2 74.9 L552.6 75.1 L551.1 75.2 L549.5 75.4 L548 75.5 L546.4 75.5 L544.9 75.6 L543.3 75.6 L541.8 75.6 L540.2 75.6 L538.7 75.6 L537.1 75.6 L535.6 75.6 L534 75.6 L532.4 75.6 L530.9 75.5 L529.3 75.4 L527.8 75.2 L526.2 75.1 L524.7 74.8 L523.1 74.6 L521.6 74.4 L520 74.1 L518.5 73.9 L516.9 73.6 L515.4 73.4 L513.8 73.2 L512.3 73 L510.7 72.8 L509.2 72.7 L507.6 72.6 L506.1 72.5 L504.5 72.4 L503 72.3 L501.4 72.3 L499.9 72.2 L498.3 72.1 L496.8 72 L495.2 72 L493.7 71.9 L492.1 71.8 L490.6 71.8 L489 71.7 L487.5 71.7 L485.9 71.6 L484.4 71.6 L482.8 71.5 L481.3 71.5 L479.7 71.4 L478.2 71.4 L476.6 71.3 L475.1 71.3 L473.5 71.2 L472 71.2 L470.4 71.2 L468.9 71.1 L467.3 71.1 L465.8 71 L464.2 71 L462.7 70.9 L461.1 70.9 L459.5 70.8 L458 70.8 L456.4 70.7 L454.9 70.7 L453.3 70.6 L451.8 70.3Z" fill="#ff0000" fill-opacity="0.9"/>
<path d="M463.7 72.4 L465.3 72 L466.8 72.1 L468.4 72.2 L470 72.4 L471.6 72.5 L473.2 72.7 L474.8 72.9 L476.4 73.2 L477.9 73.4 L479.5 73.6 L481.1 73.9 L482.7 74.1 L484.3 74.3 L485.9 74.5 L487.5 74.7 L489 74.9 L490.6 75 L492.2 75.2 L493.8 75.3 L495.4 75.4 L497 75.5 L498.5 75.6 L500.1 75.8 L501.7 75.9 L503.3 76 L504.9 76.2 L506.5 76.3 L508.1 76.5 L509.6 76.8 L511.2 77.5 L511.2 77.5 L509.6 78 L508.1 78 L506.5 78 L504.9 78 L503.3 78 L501.7 77.9 L500.1 77.9 L498.5 77.9 L497 77.8 L495.4 77.7 L493.8 77.6 L492.2 77.5 L490.6 77.4 L489 77.3 L487.5 77.1 L485.9 76.9 L484.3 76.7 L482.7 76.5 L481.1 76.2 L479.5 76 L477.9 75.7 L476.4 75.4 L474.8 75.1 L473.2 74.8 L471.6 74.5 L470 74.2 L468.4 73.9 L466.8 73.6 L465.3 73.2 L463.7 72.4Z" fill="#ff0000" fill-opacity="0.9"/>
<path d="M446.7 79.7 L448.3 78.8 L449.8 78.7 L451.4 78.5 L452.9 78.5 L454.5 78.4 L456 78.4 L457.6 78.4 L459.2 78.3 L460.7 78.3 L462.3 78.4 L463.8 78.4 L465.4 78.4 L466.9 78.4 L468.5 78.5 L470 78.5 L471.6 78.6 L473.2 78.7 L474.7 78.7 L476.3 78.8 L477.8 78.9 L479.4 79.1 L480.9 79.2 L482.5 79.5 L484.1 80.4 L484.1 80.4 L482.5 81.3 L480.9 81.4 L479.4 81.6 L477.8 81.6 L476.3 81.7 L474.7 81.7 L473.2 81.7 L471.6 81.7 L470 81.7 L468.5 81.7 L466.9 81.7 L465.4 81.7 L463.8 81.7 L462.3 81.6 L460.7 81.6 L459.2 81.5 L457.6 81.4 L456 81.4 L454.5 81.3 L452.9 81.2 L451.4 81 L449.8 80.9 L448.3 80.6 L446.7 79.7Z" fill="#0000ff" fill-opacity="0.9"/>
<path d="M480.7 80.3 L482.2 79.3 L483.8 79.1 L485.3 79 L486.9 78.9 L488.4 78.9 L490 78.8 L491.5 78.8 L493.1 78.7 L494.6 78.7 L496.2 78.7 L497.7 78.7 L499.2 78.6 L500.8 78.6 L502.3 78.6 L503.9 78.6 L505.4 78.6 L507 78.6 L508.5 78.5 L510.1 78.5 L511.6 78.5 L513.2 78.4 L514.7 78.3 L516.3 78.3 L517.8 78.2 L519.4 78.1 L520.9 78 L522.5 77.9 L524 77.8 L525.6 77.7 L527.1 77.6 L528.7 77.5 L530.2 77.4 L531.8 77.3 L533.3 77.2 L534.9 77.2 L536.4 77.1 L538 77 L539.5 77 L541.1 77 L542.6 77 L544.2 77 L545.7 77 L547.3 77.1 L548.8 77.2 L550.4 77.2 L551.9 77.3 L553.5 77.4 L555 77.6 L556.6 77.7 L558.1 77.8 L559.7 78 L561.2 78.2 L562.8 78.3 L564.3 78.5 L565.9 78.8 L567.4 79.1 L569 80.2 L569 80.2 L567.4 81.1 L565.9 81.3 L564.3 81.4 L562.8 81.5 L561.2 81.5 L559.7 81.5 L558.1 81.5 L556.6 81.5 L555 81.5 L553.5 81.5 L551.9 81.5 L550.4 81.5 L548.8 81.5 L547.3 81.5 L545.7 81.5 L544.2 81.6 L542.6 81.6 L541.1 81.7 L539.5 81.7 L538 81.8 L536.4 81.9 L534.9 82 L533.3 82.1 L531.8 82.2 L530.2 82.3 L528.7 82.4 L527.1 82.5 L525.6 82.6 L524 82.7 L522.5 82.8 L520.9 82.9 L519.4 83 L517.8 83.1 L516.3 83.1 L514.7 83.2 L513.2 83.2 L511.6 83.2 L510.1 83.2 L508.5 83.2 L507 83.2 L505.4 83.2 L503.9 83.1 L502.3 83.1 L500.8 83 L499.2 82.9 L497.7 82.8 L496.2 82.8 L494.6 82.7 L493.1 82.6 L491.5 82.5 L490 82.3 L488.4 82.2 L486.9 82.1 L485.3 81.9 L483.8 81.7 L482.2 81.4 L480.7 80.3Z" fill="#0000ff" fill-opacity="0.9"/>
<path d="M569 80.2 L570.5 79.3 L572.1 79.1 L573.7 79 L575.3 78.9 L576.9 78.8 L578.5 78.8 L580 78.7 L581.6 78.7 L583.2 78.6 L584.8 78.6 L586.4 78.6 L588 78.5 L589.6 78.5 L591.1 78.5 L592.7 78.5 L594.3 78.5 L595.9 78.5 L597.5 78.5 L599.1 78.5 L600.7 78.5 L602.2 78.5 L603.8 78.6 L605.4 78.6 L607 78.6 L608.6 78.7 L610.2 78.7 L611.7 78.8 L613.3 78.9 L614.9 79.1 L616.5 79.9 L616.5 79.9 L614.9 80.9 L613.3 81.1 L611.7 81.3 L610.2 81.4 L608.6 81.5 L607 81.6 L605.4 81.7 L603.8 81.8 L602.2 81.8 L600.7 81.9 L599.1 81.9 L597.5 82 L595.9 82 L594.3 82 L592.7 82 L591.1 82 L589.6 82 L588 82 L586.4 82 L584.8 82 L583.2 81.9 L581.6 81.9 L580 81.8 L578.5 81.8 L576.9 81.7 L575.3 81.6 L573.7 81.5 L572.1 81.3 L570.5 81.1 L569 80.2Z" fill="#0000ff" fill-opacity="0.9"/>
<path d="M446.7 82.6 L448.2 82.2 L449.8 82.1 L451.3 82 L452.9 81.9 L454.4 81.8 L456 81.8 L457.5 81.7 L459 81.7 L460.6 81.7 L462.1 81.6 L463.7 81.6 L465.2 81.6 L466.8 81.5 L468.3 81.5 L469.9 81.5 L471.4 81.5 L472.9 81.4 L474.5 81.4 L476 81.4 L477.6 81.4 L479.1 81.4 L480.7 81.4 L482.2 81.4 L483.7 81.4 L485.3 81.4 L486.8 81.4 L488.4 81.4 L489.9 81.4 L491.5 81.4 L493 81.4 L494.6 81.4 L496.1 81.5 L497.6 81.5 L499.2 81.5 L500.7 81.5 L502.3 81.5 L503.8 81.5 L505.4 81.5 L506.9 81.5 L508.4 81.5 L510 81.5 L511.5 81.5 L513.1 81.5 L514.6 81.4 L516.2 81.4 L517.7 81.4 L519.3 81.3 L520.8 81.3 L522.3 81.3 L523.9 81.2 L525.4 81.2 L527 81.1 L528.5 81.1 L530.1 81 L531.6 81 L533.1 81 L534.7 80.9 L536.2 80.9 L537.8 80.9 L539.3 80.9 L540.9 80.8 L542.4 80.8 L543.9 80.8 L545.5 80.8 L547 80.8 L548.6 80.9 L550.1 80.9 L551.7 80.9 L553.2 81 L554.8 81 L556.3 81.1 L557.8 81.1 L559.4 81.2 L560.9 81.2 L562.5 81.3 L564 81.4 L565.6 81.4 L567.1 81.5 L568.6 81.5 L570.2 81.5 L571.7 81.6 L573.3 81.6 L574.8 81.6 L576.4 81.6 L577.9 81.6 L579.5 81.6 L581 81.7 L582.5 81.7 L584.1 81.7 L585.6 81.7 L587.2 81.7 L588.7 81.7 L590.3 81.7 L591.8 81.7 L593.3 81.8 L594.9 81.8 L596.4 81.8 L598 81.8 L599.5 81.8 L601.1 81.9 L602.6 81.9 L604.2 81.9 L605.7 81.9 L607.2 82 L608.8 82 L610.3 82 L611.9 82.1 L613.4 82.1 L615 82.2 L616.5 82.6 L616.5 82.6 L615 83 L613.4 83.1 L611.9 83.1 L610.3 83.2 L608.8 83.2 L607.2 83.3 L605.7 83.3 L604.2 83.3 L602.6 83.3 L601.1 83.4 L599.5 83.4 L598 83.4 L596.4 83.4 L594.9 83.4 L593.3 83.5 L591.8 83.5 L590.3 83.5 L588.7 83.5 L587.2 83.5 L585.6 83.5 L584.1 83.5 L582.5 83.5 L581 83.6 L579.5 83.6 L577.9 83.6 L576.4 83.6 L574.8 83.6 L573.3 83.6 L571.7 83.6 L570.2 83.6 L568.6 83.5 L567.1 83.5 L565.6 83.5 L564 83.4 L562.5 83.4 L560.9 83.3 L559.4 83.3 L557.8 83.2 L556.3 83.2 L554.8 83.2 L553.2 83.1 L551.7 83.1 L550.1 83 L548.6 83 L547 83 L545.5 83 L543.9 83 L542.4 83 L540.9 83 L539.3 83 L537.8 83.1 L536.2 83.1 L534.7 83.1 L533.1 83.2 L531.6 83.2 L530.1 83.2 L528.5 83.3 L527 83.3 L525.4 83.4 L523.9 83.4 L522.3 83.5 L520.8 83.5 L519.3 83.5 L517.7 83.6 L516.2 83.6 L514.6 83.6 L513.1 83.6 L511.5 83.6 L510 83.6 L508.4 83.6 L506.9 83.6 L505.4 83.6 L503.8 83.6 L502.3 83.6 L500.7 83.6 L499.2 83.5 L497.6 83.5 L496.1 83.5 L494.6 83.5 L493 83.5 L491.5 83.4 L489.9 83.4 L488.4 83.4 L486.8 83.4 L485.3 83.3 L483.7 83.3 L482.2 83.3 L480.7 83.3 L479.1 83.2 L477.6 83.2 L476 83.2 L474.5 83.2 L472.9 83.2 L471.4 83.2 L469.9 83.2 L468.3 83.2 L466.8 83.2 L465.2 83.2 L463.7 83.1 L462.1 83.1 L460.6 83.1 L459 83.1 L457.5 83.1 L456 83.1 L454.4 83.1 L452.9 83.1 L451.3 83 L449.8 83 L448.2 82.9 L446.7 82.6Z" fill="#ff0000" fill-opacity="0.9"/>
<path d="M518 86.5 L519.6 85.8 L521.2 85.9 L522.7 86.1 L524.3 86.3 L525.9 86.4 L527.4 86.6 L529 86.7 L530.6 86.8 L532.2 86.9 L533.7 86.9 L535.3 86.9 L536.9 86.8 L538.4 86.8 L540 86.8 L541.6 86.7 L543.1 86.7 L544.7 86.7 L546.3 86.7 L547.9 86.6 L549.4 86.6 L551 86.5 L552.6 86.4 L554.1 86.3 L555.7 86.2 L557.3 86.1 L558.9 85.9 L560.4 85.8 L562 85.6 L563.6 85.5 L565.1 85.3 L566.7 85.2 L568.3 85 L569.8 84.8 L571.4 84.7 L573 84.6 L574.6 84.5 L576.1 84.4 L577.7 84.2 L579.3 84.1 L580.8 84.7 L580.8 84.7 L579.3 86.1 L577.7 86.7 L576.1 87.2 L574.6 87.6 L573 87.9 L571.4 88.2 L569.8 88.5 L568.3 88.7 L566.7 89 L565.1 89.3 L563.6 89.5 L562 89.7 L560.4 90 L558.9 90.2 L557.3 90.4 L555.7 90.5 L554.1 90.7 L552.6 90.8 L551 90.9 L549.4 91 L547.9 91 L546.3 91.1 L544.7 91.1 L543.1 91 L541.6 91 L540 91 L538.4 91 L536.9 90.9 L535.3 90.9 L533.7 90.9 L532.2 90.8 L530.6 90.6 L529 90.4 L527.4 90.1 L525.9 89.7 L524.3 89.4 L522.7 88.9 L521.2 88.4 L519.6 87.9 L518 86.5Z" fill="#ff0000" fill-opacity="0.9"/>
<path d="M585.9 83.4 L587.2 81.5 L588.5 80.9 L589.8 80.6 L591 80.5 L592.3 80.6 L593.6 80.8 L594.9 81.1 L596.1 82.8 L596.1 82.8 L594.9 84.4 L593.6 84.7 L592.3 84.9 L591 84.9 L589.8 84.9 L588.5 84.9 L587.2 84.8 L585.9 83.4Z" fill="#ff0000" fill-opacity="0.9"/>
<path d="M480.7 88.6 L482.2 87.8 L483.8 87.7 L485.3 87.6 L486.9 87.6 L488.4 87.5 L490 87.5 L491.5 87.6 L493.1 87.6 L494.6 87.6 L496.2 87.6 L497.7 87.7 L499.3 87.7 L500.8 87.8 L502.4 87.8 L503.9 87.9 L505.5 88 L507 88 L508.6 88.1 L510.1 88.1 L511.7 88.2 L513.2 88.3 L514.8 88.4 L516.3 88.5 L517.9 88.6 L519.4 88.7 L521 88.8 L522.5 89 L524.1 89.1 L525.6 89.2 L527.2 89.3 L528.7 89.3 L530.3 89.4 L531.8 89.5 L533.4 89.5 L534.9 89.6 L536.5 89.6 L538 89.6 L539.6 89.7 L541.1 89.7 L542.7 89.8 L544.2 89.9 L545.8 89.9 L547.3 90 L548.9 90 L550.4 90.1 L552 90.8 L552 90.8 L550.4 91.7 L548.9 92 L547.3 92.2 L545.8 92.3 L544.2 92.4 L542.7 92.5 L541.1 92.5 L539.6 92.6 L538 92.6 L536.5 92.7 L534.9 92.7 L533.4 92.7 L531.8 92.7 L530.3 92.7 L528.7 92.7 L527.2 92.7 L525.6 92.6 L524.1 92.5 L522.5 92.4 L521 92.3 L519.4 92.2 L517.9 92.1 L516.3 92 L514.8 91.9 L513.2 91.8 L511.7 91.7 L510.1 91.6 L508.6 91.5 L507 91.5 L505.5 91.4 L503.9 91.3 L502.4 91.2 L500.8 91 L499.3 90.9 L497.7 90.8 L496.2 90.7 L494.6 90.6 L493.1 90.5 L491.5 90.3 L490 90.2 L488.4 90.1 L486.9 89.9 L485.3 89.8 L483.8 89.6 L482.2 89.4 L480.7 88.6Z" fill="#0000ff" fill-opacity="0.9"/>
<path d="M552 90.8 L553.6 89.6 L555.2 89.2 L556.8 88.9 L558.4 88.6 L560 88.3 L561.6 88 L563.2 87.8 L564.8 87.6 L566.4 87.4 L568 87.3 L569.6 87.2 L571.2 87.1 L572.8 87.1 L574.3 87.2 L575.9 87.3 L577.5 87.5 L579.1 88.5 L579.1 88.5 L577.5 89.5 L575.9 89.7 L574.3 89.9 L572.8 90 L571.2 90.2 L569.6 90.4 L568 90.5 L566.4 90.7 L564.8 90.9 L563.2 91.1 L561.6 91.2 L560 91.4 L558.4 91.5 L556.8 91.6 L555.2 91.6 L553.6 91.6 L552 90.8Z" fill="#0000ff" fill-opacity="0.9"/>
<path d="M446.7 94.7 L447.5 93.3 L448.4 93 L449.2 92.8 L450.1 92.8 L450.9 92.8 L451.8 92.9 L452.6 93.2 L453.5 94.6 L453.5 94.6 L452.6 96.1 L451.8 96.4 L450.9 96.5 L450.1 96.6 L449.2 96.6 L448.4 96.4 L447.5 96.2 L446.7 94.7Z" fill="#ff0000" fill-opacity="0.9"/>
<path d="M608 94.9 L609.1 93.5 L610.1 93.2 L611.2 93.1 L612.3 93 L613.3 93.1 L614.4 93.3 L615.4 93.6 L616.5 95 L616.5 95 L615.4 96.5 L614.4 96.7 L613.3 96.9 L612.3 96.9 L611.2 96.8 L610.1 96.7 L609.1 96.4 L608 94.9Z" fill="#ff0000" fill-opacity="0.9"/>
<path d="M463.7 100.3 L464.5 99.1 L465.4 99.1 L466.2 99.3 L467.1 99.6 L467.9 100.1 L468.8 100.6 L469.6 101.3 L470.5 103.2 L470.5 103.2 L469.6 104.2 L468.8 104.1 L467.9 103.8 L467.1 103.5 L466.2 103.1 L465.4 102.6 L464.5 102 L463.7 100.3Z" fill="#ff0000" fill-opacity="0.9"/>
<path d="M487.5 110.4 L489 109.8 L490.6 110 L492.2 110.3 L493.8 110.5 L495.3 110.7 L496.9 110.9 L498.5 111.1 L500.1 111.3 L501.6 111.5 L503.2 111.7 L504.8 111.9 L506.4 112.1 L507.9 112.4 L509.5 113.4 L509.5 113.4 L507.9 114.5 L506.4 114.7 L504.8 114.8 L503.2 114.8 L501.6 114.7 L500.1 114.6 L498.5 114.4 L496.9 114.2 L495.3 113.9 L493.8 113.6 L492.2 113.1 L490.6 112.6 L489 111.9 L487.5 110.4Z" fill="#ff0000" fill-opacity="0.9"/>
<path d="M533.3 110.6 L534.9 108.9 L536.4 108.3 L538 107.9 L539.5 107.6 L541.1 107.4 L542.6 107.2 L544.2 107.2 L545.8 107.3 L547.3 107.5 L548.9 107.8 L550.4 108.2 L552 109.8 L552 109.8 L550.4 111.1 L548.9 111.3 L547.3 111.4 L545.8 111.5 L544.2 111.6 L542.6 111.6 L541.1 111.7 L539.5 111.8 L538 111.9 L536.4 111.9 L534.9 111.8 L533.3 110.6Z" fill="#0000ff" fill-opacity="0.9"/>
<path d="M572.4 111 L573 109.7 L573.6 109.5 L574.3 109.3 L574.9 109.3 L575.5 109.3 L576.2 109.4 L576.8 109.7 L577.4 110.9 L577.4 110.9 L576.8 112.1 L576.2 112.4 L575.5 112.5 L574.9 112.6 L574.3 112.6 L573.6 112.4 L573 112.2 L572.4 111Z" fill="#ff0000" fill-opacity="0.9"/>
<path d="M592.7 104.3 L593.4 102.7 L594 102.1 L594.6 101.7 L595.3 101.4 L595.9 101.2 L596.5 101.1 L597.2 101.1 L597.8 102.1 L597.8 102.1 L597.2 103.5 L596.5 104 L595.9 104.4 L595.3 104.7 L594.6 104.9 L594 105.1 L593.4 105.2 L592.7 104.3Z" fill="#ff0000" fill-opacity="0.9"/>
<path d="M454.3 170.3 L455.9 169.4 L457.5 169.2 L459.1 169 L460.7 168.9 L462.3 168.9 L463.8 168.8 L465.4 168.7 L467 168.7 L468.6 168.6 L470.2 168.6 L471.8 168.6 L473.3 168.5 L474.9 168.5 L476.5 168.5 L478.1 168.5 L479.7 168.5 L481.3 168.5 L482.8 168.5 L484.4 168.5 L486 168.5 L487.6 168.6 L489.2 168.6 L490.8 168.6 L492.3 168.7 L493.9 168.7 L495.5 168.8 L497.1 168.9 L498.7 168.9 L500.3 169 L501.8 169.1 L503.4 169.2 L505 169.3 L506.6 169.4 L508.2 169.6 L509.8 169.7 L511.3 170 L512.9 171.1 L512.9 171.1 L511.3 171.8 L509.8 172 L508.2 172.1 L506.6 172.2 L505 172.2 L503.4 172.3 L501.8 172.3 L500.3 172.3 L498.7 172.4 L497.1 172.4 L495.5 172.4 L493.9 172.4 L492.3 172.4 L490.8 172.4 L489.2 172.4 L487.6 172.4 L486 172.4 L484.4 172.4 L482.8 172.4 L481.3 172.3 L479.7 172.3 L478.1 172.3 L476.5 172.3 L474.9 172.2 L473.3 172.2 L471.8 172.2 L470.2 172.1 L468.6 172.1 L467 172 L465.4 172 L463.8 171.9 L462.3 171.8 L460.7 171.7 L459.1 171.6 L457.5 171.4 L455.9 171.2 L454.3 170.3Z" fill="#ff0000" fill-opacity="0.9"/>
<path d="M514.6 171.2 L516.3 170.2 L518 170.2 L519.7 170.4 L521.4 170.8 L523.1 171.3 L524.8 172.1 L526.5 172.9 L528.2 174.8 L528.2 174.8 L526.5 175.4 L524.8 175 L523.1 174.6 L521.4 174.1 L519.7 173.6 L518 173.2 L516.3 172.7 L514.6 171.2Z" fill="#ff0000" fill-opacity="0.9"/>
<path d="M550.3 180.3 L551.2 178.4 L552.2 177.5 L553.1 176.9 L554.1 176.3 L555.1 175.9 L556 175.5 L557 175.4 L557.9 176.4 L557.9 176.4 L557 178.3 L556 179 L555.1 179.6 L554.1 180.2 L553.1 180.6 L552.2 181 L551.2 181.2 L550.3 180.3Z" fill="#0000ff" fill-opacity="0.9"/>
<path d="M582.5 183.7 L583.2 182 L583.8 181.5 L584.5 181.2 L585.1 180.9 L585.7 180.7 L586.4 180.7 L587 180.7 L587.6 181.9 L587.6 181.9 L587 183.6 L586.4 184.1 L585.7 184.5 L585.1 184.7 L584.5 184.9 L583.8 185 L583.2 184.9 L582.5 183.7Z" fill="#0000ff" fill-opacity="0.9"/>
<path d="M563.9 186.2 L565.1 184.9 L566.4 184.8 L567.7 184.7 L569 184.7 L570.2 184.8 L571.5 184.9 L572.8 185 L574 186.2 L574 186.2 L572.8 187.9 L571.5 188.3 L570.2 188.5 L569 188.6 L567.7 188.5 L566.4 188.2 L565.1 187.8 L563.9 186.2Z" fill="#ff0000" fill-opacity="0.9"/>
<path d="M599.5 170.4 L600.6 168.7 L601.6 168.3 L602.7 168.2 L603.8 168.1 L604.8 168.2 L605.9 168.3 L606.9 168.7 L608 170.3 L608 170.3 L606.9 172 L605.9 172.3 L604.8 172.5 L603.8 172.5 L602.7 172.5 L601.6 172.3 L600.6 172 L599.5 170.4Z" fill="#ff0000" fill-opacity="0.9"/>
<path d="M472.2 180.5 L473 179.7 L473.9 180 L474.7 180.3 L475.6 180.7 L476.4 181.2 L477.3 181.7 L478.1 182.3 L479 183.9 L479 183.9 L478.1 184.8 L477.3 184.7 L476.4 184.4 L475.6 184 L474.7 183.5 L473.9 182.9 L473 182.2 L472.2 180.5Z" fill="#0000ff" fill-opacity="0.9"/>
<path d="M475.6 181.6 L476.2 181.1 L476.8 181.2 L477.5 181.4 L478.1 181.6 L478.7 181.9 L479.4 182.2 L480 182.6 L480.7 183.7 L480.7 183.7 L480 184.3 L479.4 184.2 L478.7 184 L478.1 183.8 L477.5 183.5 L476.8 183.2 L476.2 182.7 L475.6 181.6Z" fill="#ff0000" fill-opacity="0.9"/>
</g>
<use href="#bands2" y="0"/>
</g>
<rect x="446.7" y="20" width="169.8" height="205" fill="none" stroke="#111" stroke-width="0.9"/>
<path d="M443.5 20H446.7 M443.5 61H446.7 M443.5 102H446.7 M443.5 143H446.7 M443.5 184H446.7 M443.5 225H446.7 M446.7 225V228 M508.9 225V228 M544.7 225V228 M616.5 225V228" stroke="#111" stroke-width="0.9" fill="none"/>
<text x="452.3" y="36.6" font-size="14.8">(c)</text>
<path d="M446.7 285.5H616.5 M446.7 326.5H616.5 M446.7 367.5H616.5 M446.7 408.5H616.5 M508.9 244.5V449.5 M544.7 244.5V449.5" stroke="#d0d0d0" stroke-width="0.8" stroke-dasharray="0.9 1.16" fill="none"/>
<g clip-path="url(#cp21)"><g filter="url(#bl)">
<path d="M455.2 286 L456.7 285.8 L458.3 285.8 L459.8 285.9 L461.4 286.1 L462.9 286.2 L464.5 286.3 L466 286.4 L467.6 286.5 L469.1 286.6 L470.7 286.7 L472.2 286.8 L473.8 286.9 L475.3 287 L476.9 287.1 L478.4 287.2 L480 287.3 L481.5 287.4 L483.1 287.5 L484.6 287.6 L486.2 287.7 L487.7 287.8 L489.2 287.8 L490.8 287.9 L492.3 288 L493.9 288.1 L495.4 288.2 L497 288.3 L498.5 288.4 L500.1 288.5 L501.6 288.6 L503.2 288.7 L504.7 288.8 L506.3 288.9 L507.8 289.3 L507.8 289.3 L506.3 289.7 L504.7 289.8 L503.2 289.8 L501.6 289.8 L500.1 289.8 L498.5 289.7 L497 289.7 L495.4 289.7 L493.9 289.6 L492.3 289.6 L490.8 289.5 L489.2 289.4 L487.7 289.4 L486.2 289.3 L484.6 289.2 L483.1 289.1 L481.5 289 L480 288.9 L478.4 288.9 L476.9 288.8 L475.3 288.6 L473.8 288.5 L472.2 288.4 L470.7 288.3 L469.1 288.1 L467.6 288 L466 287.8 L464.5 287.6 L462.9 287.5 L461.4 287.3 L459.8 287.1 L458.3 286.8 L456.7 286.6 L455.2 286Z" fill="#0000ff" fill-opacity="0.9"/>
<path d="M565.6 287.4 L567.1 287.1 L568.7 287.1 L570.3 287.2 L571.8 287.2 L573.4 287.2 L575 287.2 L576.6 287.2 L578.1 287.2 L579.7 287.1 L581.3 287.1 L582.9 287.1 L584.4 287 L586 287 L587.6 286.9 L589.1 286.9 L590.7 286.8 L592.3 286.8 L593.9 286.7 L595.4 286.6 L597 286.6 L598.6 286.5 L600.1 286.4 L601.7 286.3 L603.3 286.2 L604.9 286.1 L606.4 286.1 L608 286.4 L608 286.4 L606.4 287 L604.9 287.2 L603.3 287.4 L601.7 287.6 L600.1 287.8 L598.6 287.9 L597 288.1 L595.4 288.2 L593.9 288.3 L592.3 288.4 L590.7 288.5 L589.1 288.5 L587.6 288.6 L586 288.6 L584.4 288.7 L582.9 288.7 L581.3 288.7 L579.7 288.7 L578.1 288.7 L576.6 288.7 L575 288.7 L573.4 288.6 L571.8 288.5 L570.3 288.4 L568.7 288.2 L567.1 288 L565.6 287.4Z" fill="#0000ff" fill-opacity="0.9"/>
<path d="M446.7 294.7 L447.3 293.5 L448 293.2 L448.6 293.1 L449.2 293.1 L449.9 293.1 L450.5 293.3 L451.2 293.5 L451.8 294.8 L451.8 294.8 L451.2 296 L450.5 296.2 L449.9 296.3 L449.2 296.4 L448.6 296.3 L448 296.2 L447.3 296 L446.7 294.7Z" fill="#0000ff" fill-opacity="0.9"/>
<path d="M453.5 295.6 L455 295.2 L456.6 295.3 L458.1 295.4 L459.7 295.6 L461.2 295.7 L462.8 295.9 L464.3 296 L465.9 296.2 L467.4 296.4 L469 296.6 L470.5 296.8 L472.1 297 L473.6 297.2 L475.2 297.4 L476.7 297.7 L478.2 297.9 L479.8 298.2 L481.3 298.4 L482.9 298.6 L484.4 298.8 L486 299 L487.5 299.2 L489.1 299.4 L490.6 299.5 L492.2 299.6 L493.7 299.8 L495.3 299.9 L496.8 300 L498.4 300.1 L499.9 300.2 L501.5 300.3 L503 300.3 L504.5 300.5 L506.1 300.6 L507.6 300.7 L509.2 300.8 L510.7 301 L512.3 301.1 L513.8 301.3 L515.4 301.5 L516.9 301.7 L518.5 302 L520 302.2 L521.6 302.5 L523.1 303.2 L523.1 303.2 L521.6 303.6 L520 303.5 L518.5 303.5 L516.9 303.4 L515.4 303.3 L513.8 303.2 L512.3 303.1 L510.7 303 L509.2 302.9 L507.6 302.8 L506.1 302.7 L504.5 302.7 L503 302.6 L501.5 302.5 L499.9 302.5 L498.4 302.4 L496.8 302.3 L495.3 302.3 L493.7 302.2 L492.2 302.1 L490.6 301.9 L489.1 301.8 L487.5 301.7 L486 301.5 L484.4 301.3 L482.9 301 L481.3 300.8 L479.8 300.5 L478.2 300.3 L476.7 300 L475.2 299.7 L473.6 299.4 L472.1 299.2 L470.5 298.9 L469 298.7 L467.4 298.5 L465.9 298.2 L464.3 298 L462.8 297.7 L461.2 297.5 L459.7 297.2 L458.1 296.9 L456.6 296.6 L455 296.3 L453.5 295.6Z" fill="#ff0000" fill-opacity="0.9"/>
<path d="M523.1 298.2 L524.7 298 L526.3 298.2 L527.8 298.3 L529.4 298.4 L531 298.5 L532.5 298.5 L534.1 298.5 L535.7 298.5 L537.3 298.4 L538.8 298.4 L540.4 298.4 L542 298.3 L543.5 298.3 L545.1 298.3 L546.7 298.2 L548.3 298.2 L549.8 298 L551.4 297.9 L553 297.7 L554.6 297.5 L556.1 297.3 L557.7 297.1 L559.3 296.9 L560.8 296.7 L562.4 296.5 L564 296.2 L565.6 296 L567.1 295.8 L568.7 295.6 L570.3 295.4 L571.8 295.2 L573.4 295.1 L575 295 L576.6 294.9 L578.1 294.8 L579.7 294.7 L581.3 294.6 L582.9 294.5 L584.4 294.4 L586 294.3 L587.6 294.3 L589.1 294.2 L590.7 294.1 L592.3 294.1 L593.9 294.1 L595.4 294 L597 294 L598.6 294 L600.1 294 L601.7 294.1 L603.3 294.1 L604.9 294.1 L606.4 294.2 L608 294.6 L608 294.6 L606.4 295.1 L604.9 295.2 L603.3 295.3 L601.7 295.3 L600.1 295.4 L598.6 295.5 L597 295.5 L595.4 295.6 L593.9 295.7 L592.3 295.8 L590.7 295.8 L589.1 295.9 L587.6 296 L586 296.1 L584.4 296.2 L582.9 296.4 L581.3 296.5 L579.7 296.6 L578.1 296.7 L576.6 296.8 L575 296.9 L573.4 297 L571.8 297.2 L570.3 297.4 L568.7 297.6 L567.1 297.8 L565.6 298 L564 298.2 L562.4 298.4 L560.8 298.7 L559.3 298.9 L557.7 299.1 L556.1 299.3 L554.6 299.5 L553 299.6 L551.4 299.8 L549.8 299.9 L548.3 300 L546.7 300.1 L545.1 300.1 L543.5 300.1 L542 300.1 L540.4 300.1 L538.8 300.1 L537.3 300 L535.7 300 L534.1 300 L532.5 299.9 L531 299.8 L529.4 299.7 L527.8 299.4 L526.3 299.2 L524.7 298.9 L523.1 298.2Z" fill="#ff0000" fill-opacity="0.9"/>
<path d="M609.7 294.6 L610.6 293.4 L611.4 293.1 L612.3 293 L613.1 293 L614 293 L614.8 293.1 L615.7 293.4 L616.5 294.6 L616.5 294.6 L615.7 295.8 L614.8 296.1 L614 296.2 L613.1 296.3 L612.3 296.2 L611.4 296.1 L610.6 295.9 L609.7 294.6Z" fill="#0000ff" fill-opacity="0.9"/>
<path d="M446.7 304.2 L448.2 303.3 L449.8 303.1 L451.3 303 L452.9 302.9 L454.4 302.9 L456 302.9 L457.5 302.8 L459 302.8 L460.6 302.8 L462.1 302.8 L463.7 302.9 L465.2 302.9 L466.8 302.9 L468.3 303 L469.9 303.1 L471.4 303.1 L472.9 303.2 L474.5 303.3 L476 303.5 L477.6 303.6 L479.1 303.9 L480.7 304.8 L480.7 304.8 L479.1 305.7 L477.6 305.9 L476 306 L474.5 306.1 L472.9 306.1 L471.4 306.2 L469.9 306.2 L468.3 306.2 L466.8 306.2 L465.2 306.2 L463.7 306.2 L462.1 306.1 L460.6 306.1 L459 306 L457.5 306 L456 305.9 L454.4 305.8 L452.9 305.7 L451.3 305.5 L449.8 305.4 L448.2 305.1 L446.7 304.2Z" fill="#0000ff" fill-opacity="0.9"/>
<path d="M480.7 304.8 L482.2 303.8 L483.8 303.6 L485.3 303.5 L486.9 303.4 L488.4 303.4 L490 303.3 L491.5 303.3 L493.1 303.2 L494.6 303.2 L496.2 303.2 L497.7 303.2 L499.2 303.1 L500.8 303.1 L502.3 303.1 L503.9 303.1 L505.4 303.1 L507 303.1 L508.5 303 L510.1 303 L511.6 303 L513.2 302.9 L514.7 302.8 L516.3 302.8 L517.8 302.7 L519.4 302.6 L520.9 302.5 L522.5 302.4 L524 302.3 L525.6 302.2 L527.1 302.1 L528.7 302 L530.2 301.9 L531.8 301.8 L533.3 301.7 L534.9 301.7 L536.4 301.6 L538 301.5 L539.5 301.5 L541.1 301.5 L542.6 301.5 L544.2 301.5 L545.7 301.5 L547.3 301.6 L548.8 301.7 L550.4 301.7 L551.9 301.8 L553.5 301.9 L555 302.1 L556.6 302.2 L558.1 302.3 L559.7 302.5 L561.2 302.7 L562.8 302.8 L564.3 303 L565.9 303.3 L567.4 303.6 L569 304.7 L569 304.7 L567.4 305.6 L565.9 305.8 L564.3 305.9 L562.8 306 L561.2 306 L559.7 306 L558.1 306 L556.6 306 L555 306 L553.5 306 L551.9 306 L550.4 306 L548.8 306 L547.3 306 L545.7 306 L544.2 306.1 L542.6 306.1 L541.1 306.2 L539.5 306.2 L538 306.3 L536.4 306.4 L534.9 306.5 L533.3 306.6 L531.8 306.7 L530.2 306.8 L528.7 306.9 L527.1 307 L525.6 307.1 L524 307.2 L522.5 307.3 L520.9 307.4 L519.4 307.5 L517.8 307.6 L516.3 307.6 L514.7 307.7 L513.2 307.7 L511.6 307.7 L510.1 307.7 L508.5 307.7 L507 307.7 L505.4 307.7 L503.9 307.6 L502.3 307.6 L500.8 307.5 L499.2 307.4 L497.7 307.3 L496.2 307.3 L494.6 307.2 L493.1 307.1 L491.5 307 L490 306.8 L488.4 306.7 L486.9 306.6 L485.3 306.4 L483.8 306.2 L482.2 305.9 L480.7 304.8Z" fill="#0000ff" fill-opacity="0.9"/>
<path d="M569 304.7 L570.5 303.9 L572.1 303.7 L573.7 303.6 L575.3 303.5 L576.9 303.4 L578.5 303.4 L580 303.3 L581.6 303.3 L583.2 303.2 L584.8 303.2 L586.4 303.2 L588 303.1 L589.6 303.1 L591.1 303.1 L592.7 303.1 L594.3 303.1 L595.9 303.1 L597.5 303.1 L599.1 303.1 L600.7 303.1 L602.2 303.1 L603.8 303.2 L605.4 303.2 L607 303.2 L608.6 303.3 L610.2 303.3 L611.7 303.4 L613.3 303.5 L614.9 303.6 L616.5 304.4 L616.5 304.4 L614.9 305.3 L613.3 305.5 L611.7 305.7 L610.2 305.8 L608.6 305.9 L607 306 L605.4 306.1 L603.8 306.2 L602.2 306.2 L600.7 306.3 L599.1 306.3 L597.5 306.3 L595.9 306.4 L594.3 306.4 L592.7 306.4 L591.1 306.4 L589.6 306.4 L588 306.4 L586.4 306.4 L584.8 306.3 L583.2 306.3 L581.6 306.3 L580 306.2 L578.5 306.2 L576.9 306.1 L575.3 306 L573.7 305.9 L572.1 305.8 L570.5 305.5 L569 304.7Z" fill="#0000ff" fill-opacity="0.9"/>
<path d="M446.7 307.1 L448.2 306.7 L449.8 306.6 L451.3 306.5 L452.9 306.4 L454.4 306.3 L456 306.3 L457.5 306.2 L459 306.2 L460.6 306.2 L462.1 306.1 L463.7 306.1 L465.2 306.1 L466.8 306 L468.3 306 L469.9 306 L471.4 306 L472.9 305.9 L474.5 305.9 L476 305.9 L477.6 305.9 L479.1 305.9 L480.7 305.9 L482.2 305.9 L483.7 305.9 L485.3 305.9 L486.8 305.9 L488.4 305.9 L489.9 305.9 L491.5 305.9 L493 305.9 L494.6 305.9 L496.1 306 L497.6 306 L499.2 306 L500.7 306 L502.3 306 L503.8 306 L505.4 306 L506.9 306 L508.4 306 L510 306 L511.5 306 L513.1 306 L514.6 305.9 L516.2 305.9 L517.7 305.9 L519.3 305.8 L520.8 305.8 L522.3 305.8 L523.9 305.7 L525.4 305.7 L527 305.6 L528.5 305.6 L530.1 305.5 L531.6 305.5 L533.1 305.5 L534.7 305.4 L536.2 305.4 L537.8 305.4 L539.3 305.4 L540.9 305.3 L542.4 305.3 L543.9 305.3 L545.5 305.3 L547 305.3 L548.6 305.4 L550.1 305.4 L551.7 305.4 L553.2 305.5 L554.8 305.5 L556.3 305.6 L557.8 305.6 L559.4 305.7 L560.9 305.7 L562.5 305.8 L564 305.9 L565.6 305.9 L567.1 306 L568.6 306 L570.2 306 L571.7 306.1 L573.3 306.1 L574.8 306.1 L576.4 306.1 L577.9 306.1 L579.5 306.1 L581 306.2 L582.5 306.2 L584.1 306.2 L585.6 306.2 L587.2 306.2 L588.7 306.2 L590.3 306.2 L591.8 306.2 L593.3 306.3 L594.9 306.3 L596.4 306.3 L598 306.3 L599.5 306.3 L601.1 306.4 L602.6 306.4 L604.2 306.4 L605.7 306.4 L607.2 306.5 L608.8 306.5 L610.3 306.5 L611.9 306.6 L613.4 306.6 L615 306.7 L616.5 307.1 L616.5 307.1 L615 307.5 L613.4 307.6 L611.9 307.6 L610.3 307.7 L608.8 307.7 L607.2 307.8 L605.7 307.8 L604.2 307.8 L602.6 307.8 L601.1 307.9 L599.5 307.9 L598 307.9 L596.4 307.9 L594.9 307.9 L593.3 308 L591.8 308 L590.3 308 L588.7 308 L587.2 308 L585.6 308 L584.1 308 L582.5 308 L581 308.1 L579.5 308.1 L577.9 308.1 L576.4 308.1 L574.8 308.1 L573.3 308.1 L571.7 308.1 L570.2 308.1 L568.6 308 L567.1 308 L565.6 308 L564 307.9 L562.5 307.9 L560.9 307.8 L559.4 307.8 L557.8 307.7 L556.3 307.7 L554.8 307.7 L553.2 307.6 L551.7 307.6 L550.1 307.5 L548.6 307.5 L547 307.5 L545.5 307.5 L543.9 307.5 L542.4 307.5 L540.9 307.5 L539.3 307.5 L537.8 307.6 L536.2 307.6 L534.7 307.6 L533.1 307.7 L531.6 307.7 L530.1 307.7 L528.5 307.8 L527 307.8 L525.4 307.9 L523.9 307.9 L522.3 308 L520.8 308 L519.3 308 L517.7 308.1 L516.2 308.1 L514.6 308.1 L513.1 308.1 L511.5 308.1 L510 308.1 L508.4 308.1 L506.9 308.1 L505.4 308.1 L503.8 308.1 L502.3 308.1 L500.7 308.1 L499.2 308 L497.6 308 L496.1 308 L494.6 308 L493 308 L491.5 307.9 L489.9 307.9 L488.4 307.9 L486.8 307.9 L485.3 307.8 L483.7 307.8 L482.2 307.8 L480.7 307.8 L479.1 307.7 L477.6 307.7 L476 307.7 L474.5 307.7 L472.9 307.7 L471.4 307.7 L469.9 307.7 L468.3 307.7 L466.8 307.7 L465.2 307.7 L463.7 307.6 L462.1 307.6 L460.6 307.6 L459 307.6 L457.5 307.6 L456 307.6 L454.4 307.6 L452.9 307.6 L451.3 307.5 L449.8 307.5 L448.2 307.4 L446.7 307.1Z" fill="#ff0000" fill-opacity="0.9"/>
<path d="M518 311 L519.6 310.3 L521.2 310.4 L522.7 310.6 L524.3 310.8 L525.9 310.9 L527.4 311.1 L529 311.2 L530.6 311.3 L532.2 311.4 L533.7 311.4 L535.3 311.4 L536.9 311.3 L538.4 311.3 L540 311.3 L541.6 311.2 L543.1 311.2 L544.7 311.2 L546.3 311.2 L547.9 311.1 L549.4 311.1 L551 311 L552.6 310.9 L554.1 310.8 L555.7 310.7 L557.3 310.6 L558.9 310.4 L560.4 310.3 L562 310.1 L563.6 310 L565.1 309.8 L566.7 309.7 L568.3 309.5 L569.8 309.3 L571.4 309.2 L573 309.1 L574.6 309 L576.1 308.9 L577.7 308.7 L579.3 308.6 L580.8 309.2 L580.8 309.2 L579.3 310.6 L577.7 311.2 L576.1 311.7 L574.6 312.1 L573 312.4 L571.4 312.7 L569.8 313 L568.3 313.2 L566.7 313.5 L565.1 313.8 L563.6 314 L562 314.2 L560.4 314.5 L558.9 314.7 L557.3 314.9 L555.7 315 L554.1 315.2 L552.6 315.3 L551 315.4 L549.4 315.5 L547.9 315.5 L546.3 315.6 L544.7 315.6 L543.1 315.5 L541.6 315.5 L540 315.5 L538.4 315.5 L536.9 315.4 L535.3 315.4 L533.7 315.4 L532.2 315.3 L530.6 315.1 L529 314.9 L527.4 314.6 L525.9 314.2 L524.3 313.9 L522.7 313.4 L521.2 312.9 L519.6 312.4 L518 311Z" fill="#ff0000" fill-opacity="0.9"/>
<path d="M582.5 308.7 L584 306.7 L585.5 306 L587 305.5 L588.5 305.2 L590 305.1 L591.5 305.2 L592.9 305.6 L594.4 307.2 L594.4 307.2 L592.9 308.9 L591.5 309.2 L590 309.4 L588.5 309.6 L587 309.8 L585.5 309.9 L584 310 L582.5 308.7Z" fill="#ff0000" fill-opacity="0.9"/>
<path d="M477.3 313.1 L478.8 312.3 L480.4 312.2 L481.9 312.1 L483.5 312 L485 312 L486.6 312 L488.2 312 L489.7 312 L491.3 312.1 L492.8 312.1 L494.4 312.1 L495.9 312.2 L497.5 312.2 L499.1 312.3 L500.6 312.3 L502.2 312.4 L503.7 312.5 L505.3 312.5 L506.8 312.6 L508.4 312.7 L510 312.7 L511.5 312.8 L513.1 312.9 L514.6 313 L516.2 313.1 L517.7 313.2 L519.3 313.3 L520.8 313.5 L522.4 313.6 L524 313.7 L525.5 313.8 L527.1 313.9 L528.6 314 L530.2 314 L531.7 314.1 L533.3 314.1 L534.9 314.2 L536.4 314.2 L538 314.3 L539.5 314.3 L541.1 314.3 L542.6 314.4 L544.2 314.5 L545.8 314.5 L547.3 314.6 L548.9 314.6 L550.4 314.7 L552 315.3 L552 315.3 L550.4 316.1 L548.9 316.4 L547.3 316.6 L545.8 316.7 L544.2 316.8 L542.6 316.9 L541.1 316.9 L539.5 317 L538 317 L536.4 317.1 L534.9 317.1 L533.3 317.1 L531.7 317.1 L530.2 317.1 L528.6 317.1 L527.1 317 L525.5 317 L524 316.9 L522.4 316.8 L520.8 316.7 L519.3 316.6 L517.7 316.5 L516.2 316.4 L514.6 316.3 L513.1 316.2 L511.5 316.1 L510 316 L508.4 315.9 L506.8 315.9 L505.3 315.8 L503.7 315.7 L502.2 315.6 L500.6 315.5 L499.1 315.4 L497.5 315.3 L495.9 315.1 L494.4 315 L492.8 314.9 L491.3 314.8 L489.7 314.7 L488.2 314.6 L486.6 314.5 L485 314.4 L483.5 314.2 L481.9 314.1 L480.4 314 L478.8 313.8 L477.3 313.1Z" fill="#0000ff" fill-opacity="0.9"/>
<path d="M552 315.3 L553.6 313.9 L555.2 313.5 L556.8 313.1 L558.3 312.8 L559.9 312.5 L561.5 312.3 L563.1 312 L564.7 311.8 L566.3 311.7 L567.9 311.5 L569.5 311.4 L571.1 311.4 L572.7 311.5 L574.3 311.6 L575.9 311.8 L577.4 313 L577.4 313 L575.9 314.2 L574.3 314.5 L572.7 314.7 L571.1 314.9 L569.5 315.1 L567.9 315.3 L566.3 315.5 L564.7 315.7 L563.1 315.9 L561.5 316 L559.9 316.2 L558.3 316.3 L556.8 316.4 L555.2 316.4 L553.6 316.3 L552 315.3Z" fill="#0000ff" fill-opacity="0.9"/>
<path d="M446.7 319.2 L447.5 317.8 L448.4 317.5 L449.2 317.3 L450.1 317.3 L450.9 317.3 L451.8 317.4 L452.6 317.7 L453.5 319.1 L453.5 319.1 L452.6 320.6 L451.8 320.9 L450.9 321 L450.1 321.1 L449.2 321.1 L448.4 320.9 L447.5 320.7 L446.7 319.2Z" fill="#ff0000" fill-opacity="0.9"/>
<path d="M608 319.4 L609.1 318 L610.1 317.7 L611.2 317.6 L612.3 317.5 L613.3 317.6 L614.4 317.8 L615.4 318.1 L616.5 319.5 L616.5 319.5 L615.4 321 L614.4 321.2 L613.3 321.4 L612.3 321.4 L611.2 321.3 L610.1 321.2 L609.1 320.9 L608 319.4Z" fill="#ff0000" fill-opacity="0.9"/>
<path d="M468.8 308.6 L469.4 307.5 L470 307.3 L470.7 307.2 L471.3 307.1 L472 307.2 L472.6 307.3 L473.2 307.5 L473.9 308.5 L473.9 308.5 L473.2 309.5 L472.6 309.7 L472 309.9 L471.3 309.9 L470.7 309.9 L470 309.8 L469.4 309.6 L468.8 308.6Z" fill="#ff0000" fill-opacity="0.9"/>
<path d="M487.5 334.9 L488.7 334 L490 334.1 L491.3 334.4 L492.5 334.6 L493.8 334.9 L495.1 335.3 L496.4 335.8 L497.6 337.2 L497.6 337.2 L496.4 338.2 L495.1 338.3 L493.8 338.2 L492.5 337.9 L491.3 337.6 L490 337.1 L488.7 336.5 L487.5 334.9Z" fill="#ff0000" fill-opacity="0.9"/>
<path d="M602.9 324.8 L603.6 323.5 L604.2 323.1 L604.8 322.8 L605.5 322.6 L606.1 322.4 L606.7 322.3 L607.4 322.3 L608 323.2 L608 323.2 L607.4 324.4 L606.7 324.8 L606.1 325.1 L605.5 325.3 L604.8 325.5 L604.2 325.6 L603.6 325.6 L602.9 324.8Z" fill="#0000ff" fill-opacity="0.9"/>
<path d="M454.3 394.8 L455.9 393.9 L457.5 393.7 L459.1 393.5 L460.6 393.4 L462.2 393.3 L463.8 393.2 L465.4 393.2 L466.9 393.1 L468.5 393.1 L470.1 393.1 L471.6 393 L473.2 393 L474.8 393 L476.4 393 L477.9 393 L479.5 393 L481.1 393 L482.7 393 L484.2 393 L485.8 393.1 L487.4 393.1 L489 393.1 L490.5 393.2 L492.1 393.2 L493.7 393.3 L495.2 393.4 L496.8 393.5 L498.4 393.6 L500 393.7 L501.5 393.8 L503.1 393.9 L504.7 394.1 L506.3 394.3 L507.8 395.3 L507.8 395.3 L506.3 396.2 L504.7 396.4 L503.1 396.5 L501.5 396.6 L500 396.7 L498.4 396.7 L496.8 396.8 L495.2 396.8 L493.7 396.8 L492.1 396.8 L490.5 396.8 L489 396.9 L487.4 396.9 L485.8 396.9 L484.2 396.9 L482.7 396.8 L481.1 396.8 L479.5 396.8 L477.9 396.8 L476.4 396.8 L474.8 396.8 L473.2 396.7 L471.6 396.7 L470.1 396.7 L468.5 396.6 L466.9 396.6 L465.4 396.5 L463.8 396.4 L462.2 396.3 L460.6 396.2 L459.1 396.1 L457.5 396 L455.9 395.8 L454.3 394.8Z" fill="#ff0000" fill-opacity="0.9"/>
<path d="M507.8 395.3 L508.4 393.9 L508.9 393.6 L509.4 393.5 L510 393.4 L510.5 393.5 L511 393.7 L511.5 394 L512.1 395.5 L512.1 395.5 L511.5 396.9 L511 397.1 L510.5 397.3 L510 397.3 L509.4 397.2 L508.9 397.1 L508.4 396.8 L507.8 395.3Z" fill="#0000ff" fill-opacity="0.9"/>
<path d="M514.6 395.7 L516.3 394.4 L518 394.3 L519.7 394.4 L521.4 394.8 L523.1 395.3 L524.8 395.9 L526.5 396.6 L528.2 397.4 L529.9 398.4 L531.6 400.7 L531.6 400.7 L529.9 401.5 L528.2 401.2 L526.5 400.7 L524.8 400.2 L523.1 399.7 L521.4 399.1 L519.7 398.6 L518 398.1 L516.3 397.5 L514.6 395.7Z" fill="#ff0000" fill-opacity="0.9"/>
<path d="M531.6 400.7 L532.4 399.9 L533.3 400 L534.1 400.3 L535 400.7 L535.8 401.2 L536.7 401.8 L537.5 402.5 L538.4 404.2 L538.4 404.2 L537.5 405 L536.7 404.8 L535.8 404.5 L535 404 L534.1 403.6 L533.3 403 L532.4 402.3 L531.6 400.7Z" fill="#0000ff" fill-opacity="0.9"/>
<path d="M545.2 407.1 L546.7 404.9 L548.2 403.9 L549.6 403 L551.1 402.2 L552.6 401.4 L554.1 400.8 L555.6 400.3 L557.1 401.3 L557.1 401.3 L555.6 403.6 L554.1 404.7 L552.6 405.7 L551.1 406.6 L549.6 407.3 L548.2 407.9 L546.7 408.2 L545.2 407.1Z" fill="#0000ff" fill-opacity="0.9"/>
<path d="M555.4 402.1 L556 400.5 L556.6 400 L557.3 399.6 L557.9 399.3 L558.6 399.1 L559.2 398.9 L559.8 399 L560.5 400 L560.5 400 L559.8 401.5 L559.2 401.9 L558.6 402.3 L557.9 402.6 L557.3 402.8 L556.6 403 L556 403 L555.4 402.1Z" fill="#ff0000" fill-opacity="0.9"/>
<path d="M582.5 408.2 L583.2 406.5 L583.8 406 L584.5 405.7 L585.1 405.4 L585.7 405.2 L586.4 405.2 L587 405.2 L587.6 406.4 L587.6 406.4 L587 408.1 L586.4 408.6 L585.7 409 L585.1 409.2 L584.5 409.4 L583.8 409.5 L583.2 409.4 L582.5 408.2Z" fill="#0000ff" fill-opacity="0.9"/>
<path d="M563.9 410.7 L564.9 409.4 L566 409.2 L567 409.2 L568.1 409.2 L569.2 409.3 L570.2 409.4 L571.3 409.7 L572.4 411 L572.4 411 L571.3 412.6 L570.2 412.9 L569.2 413 L568.1 413 L567 412.9 L566 412.7 L564.9 412.3 L563.9 410.7Z" fill="#ff0000" fill-opacity="0.9"/>
<path d="M599.5 394.9 L600.6 393.2 L601.6 392.8 L602.7 392.7 L603.8 392.6 L604.8 392.7 L605.9 392.8 L606.9 393.2 L608 394.8 L608 394.8 L606.9 396.5 L605.9 396.8 L604.8 397 L603.8 397 L602.7 397 L601.6 396.8 L600.6 396.5 L599.5 394.9Z" fill="#ff0000" fill-opacity="0.9"/>
<path d="M472.2 405 L473 404.2 L473.9 404.5 L474.7 404.8 L475.6 405.2 L476.4 405.7 L477.3 406.2 L478.1 406.8 L479 408.4 L479 408.4 L478.1 409.3 L477.3 409.2 L476.4 408.9 L475.6 408.5 L474.7 408 L473.9 407.4 L473 406.7 L472.2 405Z" fill="#0000ff" fill-opacity="0.9"/>
<path d="M475.6 406.1 L476.2 405.6 L476.8 405.7 L477.5 405.9 L478.1 406.1 L478.7 406.4 L479.4 406.7 L480 407.1 L480.7 408.2 L480.7 408.2 L480 408.8 L479.4 408.7 L478.7 408.5 L478.1 408.3 L477.5 408 L476.8 407.7 L476.2 407.2 L475.6 406.1Z" fill="#ff0000" fill-opacity="0.9"/>
</g>
<use href="#bands2" y="224.5"/>
</g>
<rect x="446.7" y="244.5" width="169.8" height="205" fill="none" stroke="#111" stroke-width="0.9"/>
<path d="M443.5 244.5H446.7 M443.5 285.5H446.7 M443.5 326.5H446.7 M443.5 367.5H446.7 M443.5 408.5H446.7 M443.5 449.5H446.7 M446.7 449.5V452.5 M508.9 449.5V452.5 M544.7 449.5V452.5 M616.5 449.5V452.5" stroke="#111" stroke-width="0.9" fill="none"/>
<text x="452.3" y="261.1" font-size="14.8">(f)</text>
<path d="M446.7 510H616.5 M446.7 551H616.5 M446.7 592H616.5 M446.7 633H616.5 M508.9 469V674 M544.7 469V674" stroke="#d0d0d0" stroke-width="0.8" stroke-dasharray="0.9 1.16" fill="none"/>
<g clip-path="url(#cp22)"><g filter="url(#bl)">
<path d="M446.7 519.2 L447.8 517.8 L448.8 517.5 L449.9 517.4 L450.9 517.3 L452 517.4 L453.1 517.5 L454.1 517.8 L455.2 519.3 L455.2 519.3 L454.1 520.7 L453.1 521 L452 521.1 L450.9 521.2 L449.9 521.1 L448.8 521 L447.8 520.7 L446.7 519.2Z" fill="#0000ff" fill-opacity="0.9"/>
<path d="M453.5 520.1 L455.1 519.7 L456.6 519.8 L458.2 519.9 L459.7 520 L461.3 520.2 L462.9 520.3 L464.4 520.5 L466 520.7 L467.5 520.9 L469.1 521 L470.7 521.2 L472.2 521.5 L473.8 521.7 L475.3 521.9 L476.9 522.2 L478.5 522.4 L480 522.7 L481.6 522.9 L483.1 523.2 L484.7 523.4 L486.3 523.6 L487.8 523.8 L489.4 523.9 L490.9 524.1 L492.5 524.2 L494.1 524.4 L495.6 524.5 L497.2 524.6 L498.7 524.7 L500.3 524.8 L501.9 524.9 L503.4 525.1 L505 525.2 L506.5 525.4 L508.1 525.6 L509.7 525.8 L511.2 526.5 L511.2 526.5 L509.7 527 L508.1 527 L506.5 527 L505 527 L503.4 526.9 L501.9 526.9 L500.3 526.9 L498.7 526.8 L497.2 526.8 L495.6 526.7 L494.1 526.6 L492.5 526.5 L490.9 526.4 L489.4 526.3 L487.8 526.2 L486.3 526 L484.7 525.8 L483.1 525.6 L481.6 525.3 L480 525.1 L478.5 524.8 L476.9 524.6 L475.3 524.3 L473.8 524 L472.2 523.8 L470.7 523.5 L469.1 523.3 L467.5 523 L466 522.8 L464.4 522.5 L462.9 522.3 L461.3 522 L459.7 521.8 L458.2 521.5 L456.6 521.2 L455.1 520.9 L453.5 520.1Z" fill="#0000ff" fill-opacity="0.9"/>
<path d="M562.2 528 L563.7 527.3 L565.3 526.9 L566.9 526.5 L568.5 526 L570.1 525.4 L571.7 524.9 L573.3 524.4 L574.8 524 L576.4 523.7 L578 523.4 L579.6 523 L581.2 522.7 L582.8 522.4 L584.4 522.2 L585.9 521.9 L587.5 521.6 L589.1 521.4 L590.7 521.1 L592.3 520.9 L593.9 520.7 L595.4 520.5 L597 520.3 L598.6 520.1 L600.2 520 L601.8 519.8 L603.4 519.7 L605 519.6 L606.5 519.5 L608.1 519.4 L609.7 519.9 L609.7 519.9 L608.1 520.7 L606.5 521 L605 521.3 L603.4 521.5 L601.8 521.8 L600.2 522 L598.6 522.3 L597 522.5 L595.4 522.8 L593.9 523 L592.3 523.3 L590.7 523.5 L589.1 523.8 L587.5 524 L585.9 524.3 L584.4 524.6 L582.8 524.8 L581.2 525.1 L579.6 525.4 L578 525.7 L576.4 525.9 L574.8 526.2 L573.3 526.6 L571.7 527 L570.1 527.4 L568.5 527.8 L566.9 528.2 L565.3 528.4 L563.7 528.5 L562.2 528Z" fill="#0000ff" fill-opacity="0.9"/>
<path d="M604.6 519.2 L605.9 517.9 L607.2 517.7 L608.4 517.5 L609.7 517.5 L611 517.5 L612.3 517.6 L613.5 517.9 L614.8 519.1 L614.8 519.1 L613.5 520.3 L612.3 520.6 L611 520.7 L609.7 520.8 L608.4 520.7 L607.2 520.6 L605.9 520.4 L604.6 519.2Z" fill="#0000ff" fill-opacity="0.9"/>
<path d="M446.7 528.7 L448.3 527.7 L449.8 527.5 L451.4 527.3 L452.9 527.2 L454.5 527.2 L456 527.1 L457.6 527.1 L459.2 527.1 L460.7 527.1 L462.3 527.1 L463.8 527.1 L465.4 527.1 L466.9 527.2 L468.5 527.2 L470 527.3 L471.6 527.3 L473.2 527.4 L474.7 527.5 L476.3 527.6 L477.8 527.7 L479.4 527.9 L480.9 528.1 L482.5 528.3 L484.1 529.4 L484.1 529.4 L482.5 530.4 L480.9 530.6 L479.4 530.8 L477.8 530.8 L476.3 530.9 L474.7 531 L473.2 531 L471.6 531 L470 531 L468.5 531 L466.9 531 L465.4 531 L463.8 530.9 L462.3 530.9 L460.7 530.8 L459.2 530.8 L457.6 530.7 L456 530.6 L454.5 530.5 L452.9 530.4 L451.4 530.2 L449.8 530 L448.3 529.8 L446.7 528.7Z" fill="#0000ff" fill-opacity="0.9"/>
<path d="M480.7 529.3 L482.2 528.3 L483.8 528.1 L485.3 528 L486.9 527.9 L488.4 527.9 L490 527.8 L491.5 527.8 L493.1 527.7 L494.6 527.7 L496.2 527.7 L497.7 527.7 L499.2 527.6 L500.8 527.6 L502.3 527.6 L503.9 527.6 L505.4 527.6 L507 527.6 L508.5 527.5 L510.1 527.5 L511.6 527.5 L513.2 527.4 L514.7 527.3 L516.3 527.3 L517.8 527.2 L519.4 527.1 L520.9 527 L522.5 526.9 L524 526.8 L525.6 526.7 L527.1 526.6 L528.7 526.5 L530.2 526.4 L531.8 526.3 L533.3 526.2 L534.9 526.2 L536.4 526.1 L538 526 L539.5 526 L541.1 526 L542.6 526 L544.2 526 L545.7 526 L547.3 526.1 L548.8 526.2 L550.4 526.2 L551.9 526.3 L553.5 526.4 L555 526.6 L556.6 526.7 L558.1 526.8 L559.7 527 L561.2 527.2 L562.8 527.3 L564.3 527.5 L565.9 527.8 L567.4 528.1 L569 529.2 L569 529.2 L567.4 530.1 L565.9 530.3 L564.3 530.4 L562.8 530.5 L561.2 530.5 L559.7 530.5 L558.1 530.5 L556.6 530.5 L555 530.5 L553.5 530.5 L551.9 530.5 L550.4 530.5 L548.8 530.5 L547.3 530.5 L545.7 530.5 L544.2 530.6 L542.6 530.6 L541.1 530.7 L539.5 530.7 L538 530.8 L536.4 530.9 L534.9 531 L533.3 531.1 L531.8 531.2 L530.2 531.3 L528.7 531.4 L527.1 531.5 L525.6 531.6 L524 531.7 L522.5 531.8 L520.9 531.9 L519.4 532 L517.8 532.1 L516.3 532.1 L514.7 532.2 L513.2 532.2 L511.6 532.2 L510.1 532.2 L508.5 532.2 L507 532.2 L505.4 532.2 L503.9 532.1 L502.3 532.1 L500.8 532 L499.2 531.9 L497.7 531.8 L496.2 531.8 L494.6 531.7 L493.1 531.6 L491.5 531.5 L490 531.3 L488.4 531.2 L486.9 531.1 L485.3 530.9 L483.8 530.7 L482.2 530.4 L480.7 529.3Z" fill="#0000ff" fill-opacity="0.9"/>
<path d="M569 529.2 L570.5 528.1 L572.1 527.9 L573.7 527.7 L575.3 527.6 L576.9 527.5 L578.5 527.4 L580 527.3 L581.6 527.3 L583.2 527.2 L584.8 527.2 L586.4 527.1 L588 527.1 L589.6 527.1 L591.1 527.1 L592.7 527 L594.3 527 L595.9 527 L597.5 527.1 L599.1 527.1 L600.7 527.1 L602.2 527.1 L603.8 527.1 L605.4 527.2 L607 527.2 L608.6 527.3 L610.2 527.4 L611.7 527.5 L613.3 527.6 L614.9 527.9 L616.5 528.9 L616.5 528.9 L614.9 530.1 L613.3 530.4 L611.7 530.6 L610.2 530.8 L608.6 530.9 L607 531 L605.4 531.1 L603.8 531.2 L602.2 531.2 L600.7 531.3 L599.1 531.3 L597.5 531.4 L595.9 531.4 L594.3 531.4 L592.7 531.4 L591.1 531.4 L589.6 531.4 L588 531.4 L586.4 531.4 L584.8 531.4 L583.2 531.3 L581.6 531.3 L580 531.2 L578.5 531.1 L576.9 531.1 L575.3 530.9 L573.7 530.8 L572.1 530.6 L570.5 530.3 L569 529.2Z" fill="#0000ff" fill-opacity="0.9"/>
<path d="M467.1 531.3 L468.6 530.8 L470.2 530.6 L471.8 530.5 L473.3 530.5 L474.9 530.4 L476.5 530.3 L478 530.3 L479.6 530.3 L481.2 530.3 L482.7 530.3 L484.3 530.3 L485.9 530.3 L487.5 530.3 L489 530.3 L490.6 530.3 L492.2 530.4 L493.7 530.4 L495.3 530.4 L496.9 530.5 L498.4 530.5 L500 530.6 L501.6 530.7 L503.1 530.7 L504.7 530.8 L506.3 531 L507.8 531.6 L507.8 531.6 L506.3 532.1 L504.7 532.3 L503.1 532.4 L501.6 532.4 L500 532.4 L498.4 532.5 L496.9 532.5 L495.3 532.5 L493.7 532.5 L492.2 532.5 L490.6 532.5 L489 532.5 L487.5 532.5 L485.9 532.5 L484.3 532.4 L482.7 532.4 L481.2 532.4 L479.6 532.4 L478 532.3 L476.5 532.3 L474.9 532.2 L473.3 532.2 L471.8 532.1 L470.2 532 L468.6 531.9 L467.1 531.3Z" fill="#ff0000" fill-opacity="0.9"/>
<path d="M518 535.5 L519.6 534.6 L521.2 534.6 L522.8 534.8 L524.5 534.9 L526.1 535.1 L527.7 535.3 L529.3 535.4 L530.9 535.6 L532.5 535.7 L534.1 535.7 L535.7 535.7 L537.3 535.7 L538.9 535.8 L540.5 535.9 L542.1 536 L543.8 536.1 L545.4 536.3 L547 536.6 L548.6 537.8 L548.6 537.8 L547 539.1 L545.4 539.4 L543.8 539.6 L542.1 539.8 L540.5 539.9 L538.9 540 L537.3 540 L535.7 540.1 L534.1 540.1 L532.5 540 L530.9 539.9 L529.3 539.7 L527.7 539.5 L526.1 539.1 L524.5 538.7 L522.8 538.3 L521.2 537.8 L519.6 537.1 L518 535.5Z" fill="#ff0000" fill-opacity="0.9"/>
<path d="M553.7 537.5 L555.3 536.1 L556.9 535.7 L558.5 535.3 L560.1 535 L561.7 534.7 L563.4 534.5 L565 534.2 L566.6 533.9 L568.2 533.7 L569.8 533.5 L571.4 533.2 L573 533 L574.6 532.9 L576.3 532.7 L577.9 532.5 L579.5 532.2 L581.1 531.9 L582.7 531.6 L584.3 531.5 L585.9 532.4 L585.9 532.4 L584.3 534 L582.7 534.7 L581.1 535.4 L579.5 535.9 L577.9 536.4 L576.3 536.8 L574.6 537.1 L573 537.4 L571.4 537.6 L569.8 537.9 L568.2 538.1 L566.6 538.3 L565 538.4 L563.4 538.6 L561.7 538.7 L560.1 538.8 L558.5 538.8 L556.9 538.8 L555.3 538.6 L553.7 537.5Z" fill="#ff0000" fill-opacity="0.9"/>
<path d="M489.1 537.8 L490.7 537.2 L492.2 537.1 L493.8 537 L495.3 537 L496.9 537 L498.4 537 L500 537 L501.5 537.1 L503 537.1 L504.6 537.2 L506.1 537.2 L507.7 537.3 L509.2 537.3 L510.8 537.4 L512.3 537.4 L513.8 537.5 L515.4 537.6 L516.9 537.7 L518.5 537.8 L520 537.9 L521.6 538 L523.1 538.1 L524.7 538.2 L526.2 538.3 L527.7 538.3 L529.3 538.4 L530.8 538.5 L532.4 538.5 L533.9 538.5 L535.5 538.6 L537 538.6 L538.5 538.6 L540.1 538.6 L541.6 538.7 L543.2 538.7 L544.7 538.8 L546.3 538.8 L547.8 538.8 L549.4 538.8 L550.9 538.7 L552.4 538.7 L554 538.6 L555.5 538.6 L557.1 539.2 L557.1 539.2 L555.5 540.1 L554 540.5 L552.4 540.8 L550.9 541 L549.4 541.2 L547.8 541.3 L546.3 541.4 L544.7 541.5 L543.2 541.6 L541.6 541.6 L540.1 541.6 L538.5 541.7 L537 541.7 L535.5 541.7 L533.9 541.7 L532.4 541.7 L530.8 541.7 L529.3 541.7 L527.7 541.6 L526.2 541.6 L524.7 541.5 L523.1 541.4 L521.6 541.3 L520 541.2 L518.5 541.1 L516.9 540.9 L515.4 540.8 L513.8 540.7 L512.3 540.6 L510.8 540.5 L509.2 540.4 L507.7 540.3 L506.1 540.2 L504.6 540.1 L503 540 L501.5 539.8 L500 539.7 L498.4 539.6 L496.9 539.4 L495.3 539.3 L493.8 539.1 L492.2 538.9 L490.7 538.7 L489.1 537.8Z" fill="#0000ff" fill-opacity="0.9"/>
<path d="M448.4 543.7 L449.2 542.3 L450.1 541.9 L450.9 541.8 L451.8 541.7 L452.6 541.8 L453.5 541.9 L454.3 542.2 L455.2 543.6 L455.2 543.6 L454.3 545.1 L453.5 545.4 L452.6 545.5 L451.8 545.6 L450.9 545.5 L450.1 545.4 L449.2 545.1 L448.4 543.7Z" fill="#0000ff" fill-opacity="0.9"/>
<path d="M604.6 543.9 L605.7 542.4 L606.7 542.2 L607.8 542 L608.9 542 L609.9 542.1 L611 542.2 L612 542.5 L613.1 544 L613.1 544 L612 545.4 L611 545.7 L609.9 545.8 L608.9 545.8 L607.8 545.8 L606.7 545.6 L605.7 545.3 L604.6 543.9Z" fill="#0000ff" fill-opacity="0.9"/>
<path d="M465.4 549.9 L466 548.9 L466.7 548.9 L467.3 549 L467.9 549.3 L468.6 549.6 L469.2 550.1 L469.8 550.7 L470.5 552.2 L470.5 552.2 L469.8 553.1 L469.2 553.1 L468.6 552.9 L467.9 552.6 L467.3 552.3 L466.7 551.9 L466 551.3 L465.4 549.9Z" fill="#0000ff" fill-opacity="0.9"/>
<path d="M535 559.4 L536.7 558.3 L538.4 557.8 L540.1 557.6 L541.8 557.4 L543.5 557.3 L545.2 557.4 L546.9 557.6 L548.6 558.5 L548.6 558.5 L546.9 559.3 L545.2 559.4 L543.5 559.5 L541.8 559.6 L540.1 559.7 L538.4 559.8 L536.7 559.9 L535 559.4Z" fill="#ff0000" fill-opacity="0.9"/>
<path d="M454.3 619.3 L455.9 618.3 L457.4 618.1 L459 617.9 L460.5 617.8 L462.1 617.7 L463.6 617.7 L465.2 617.6 L466.7 617.6 L468.3 617.5 L469.8 617.5 L471.4 617.5 L472.9 617.5 L474.4 617.5 L476 617.5 L477.5 617.5 L479.1 617.5 L480.6 617.5 L482.2 617.6 L483.7 617.6 L485.3 617.7 L486.8 617.7 L488.4 617.8 L489.9 617.9 L491.5 618 L493 618.2 L494.5 618.3 L496.1 618.6 L497.6 619.6 L497.6 619.6 L496.1 620.6 L494.5 620.8 L493 620.9 L491.5 621 L489.9 621.1 L488.4 621.2 L486.8 621.2 L485.3 621.2 L483.7 621.3 L482.2 621.3 L480.6 621.3 L479.1 621.3 L477.5 621.3 L476 621.3 L474.4 621.3 L472.9 621.3 L471.4 621.3 L469.8 621.2 L468.3 621.2 L466.7 621.1 L465.2 621.1 L463.6 621 L462.1 620.9 L460.5 620.8 L459 620.7 L457.4 620.5 L455.9 620.3 L454.3 619.3Z" fill="#0000ff" fill-opacity="0.9"/>
<path d="M511.2 619.9 L511.6 618.9 L512.1 618.7 L512.5 618.7 L512.9 618.7 L513.3 618.8 L513.8 618.9 L514.2 619.2 L514.6 620.2 L514.6 620.2 L514.2 621.2 L513.8 621.4 L513.3 621.4 L512.9 621.4 L512.5 621.4 L512.1 621.2 L511.6 621 L511.2 619.9Z" fill="#ff0000" fill-opacity="0.9"/>
<path d="M552 628.4 L552.5 626.9 L553 626.3 L553.6 625.9 L554.1 625.6 L554.6 625.4 L555.2 625.2 L555.7 625.2 L556.2 626.2 L556.2 626.2 L555.7 627.7 L555.2 628.2 L554.6 628.6 L554.1 628.9 L553.6 629.1 L553 629.3 L552.5 629.3 L552 628.4Z" fill="#ff0000" fill-opacity="0.9"/>
<path d="M582.5 632.7 L583.2 631 L583.8 630.5 L584.5 630.2 L585.1 629.9 L585.7 629.7 L586.4 629.7 L587 629.7 L587.6 630.9 L587.6 630.9 L587 632.6 L586.4 633.1 L585.7 633.5 L585.1 633.7 L584.5 633.9 L583.8 634 L583.2 633.9 L582.5 632.7Z" fill="#0000ff" fill-opacity="0.9"/>
<path d="M567.3 635.6 L568 634.4 L568.7 634.2 L569.5 634.1 L570.2 634 L571 634 L571.7 634.1 L572.5 634.3 L573.2 635.4 L573.2 635.4 L572.5 636.7 L571.7 637.1 L571 637.2 L570.2 637.3 L569.5 637.3 L568.7 637.1 L568 636.8 L567.3 635.6Z" fill="#ff0000" fill-opacity="0.9"/>
<path d="M602.9 619.3 L603.7 617.9 L604.4 617.6 L605.1 617.4 L605.9 617.4 L606.6 617.4 L607.4 617.6 L608.1 617.9 L608.9 619.3 L608.9 619.3 L608.1 620.7 L607.4 621 L606.6 621.2 L605.9 621.2 L605.1 621.2 L604.4 621 L603.7 620.7 L602.9 619.3Z" fill="#0000ff" fill-opacity="0.9"/>
<path d="M473.9 630.4 L474.5 629.8 L475.1 629.9 L475.8 630.1 L476.4 630.4 L477.1 630.7 L477.7 631.1 L478.3 631.6 L479 632.9 L479 632.9 L478.3 633.7 L477.7 633.6 L477.1 633.4 L476.4 633.2 L475.8 632.8 L475.1 632.4 L474.5 631.8 L473.9 630.4Z" fill="#ff0000" fill-opacity="0.9"/>
<path d="M475.6 630.6 L476.2 630.1 L476.8 630.2 L477.5 630.4 L478.1 630.6 L478.7 630.9 L479.4 631.2 L480 631.6 L480.7 632.7 L480.7 632.7 L480 633.3 L479.4 633.2 L478.7 633 L478.1 632.8 L477.5 632.5 L476.8 632.2 L476.2 631.7 L475.6 630.6Z" fill="#0000ff" fill-opacity="0.9"/>
</g>
<use href="#bands2" y="449"/>
</g>
<rect x="446.7" y="469" width="169.8" height="205" fill="none" stroke="#111" stroke-width="0.9"/>
<path d="M443.5 469H446.7 M443.5 510H446.7 M443.5 551H446.7 M443.5 592H446.7 M443.5 633H446.7 M443.5 674H446.7 M446.7 674V677 M508.9 674V677 M544.7 674V677 M616.5 674V677" stroke="#111" stroke-width="0.9" fill="none"/>
<text x="452.3" y="485.6" font-size="14.8">(i)</text>
<path d="M446.7 734.5H616.5 M446.7 775.5H616.5 M446.7 816.5H616.5 M446.7 857.5H616.5 M508.9 693.5V898.5 M544.7 693.5V898.5" stroke="#d0d0d0" stroke-width="0.8" stroke-dasharray="0.9 1.16" fill="none"/>
<g clip-path="url(#cp23)"><g filter="url(#bl)">
<path d="M446.7 734 L448.3 733.7 L449.8 733.7 L451.4 733.8 L453 734 L454.5 734.1 L456.1 734.2 L457.6 734.4 L459.2 734.5 L460.8 734.6 L462.3 734.8 L463.9 734.9 L465.5 735 L467 735.1 L468.6 735.3 L470.2 735.4 L471.7 735.5 L473.3 735.6 L474.9 735.7 L476.4 735.8 L478 735.9 L479.5 736 L481.1 736.1 L482.7 736.2 L484.2 736.3 L485.8 736.4 L487.4 736.5 L488.9 736.6 L490.5 736.7 L492.1 736.8 L493.6 736.9 L495.2 737 L496.7 737.1 L498.3 737.2 L499.9 737.3 L501.4 737.4 L503 737.6 L504.6 737.7 L506.1 738.3 L506.1 738.3 L504.6 738.8 L503 738.9 L501.4 738.9 L499.9 738.9 L498.3 738.9 L496.7 738.9 L495.2 738.8 L493.6 738.8 L492.1 738.8 L490.5 738.7 L488.9 738.6 L487.4 738.6 L485.8 738.5 L484.2 738.4 L482.7 738.4 L481.1 738.3 L479.5 738.2 L478 738.1 L476.4 738 L474.9 737.9 L473.3 737.8 L471.7 737.7 L470.2 737.5 L468.6 737.4 L467 737.3 L465.5 737.1 L463.9 736.9 L462.3 736.8 L460.8 736.6 L459.2 736.4 L457.6 736.2 L456.1 736 L454.5 735.8 L453 735.5 L451.4 735.3 L449.8 735 L448.3 734.7 L446.7 734Z" fill="#0000ff" fill-opacity="0.9"/>
<path d="M569 736.7 L570.5 736.2 L572.1 736.2 L573.7 736.2 L575.3 736.1 L576.9 736.1 L578.5 736 L580 736 L581.6 735.9 L583.2 735.9 L584.8 735.8 L586.4 735.7 L588 735.7 L589.6 735.6 L591.1 735.5 L592.7 735.5 L594.3 735.4 L595.9 735.3 L597.5 735.2 L599.1 735.1 L600.7 735 L602.2 734.9 L603.8 734.8 L605.4 734.6 L607 734.5 L608.6 734.4 L610.2 734.3 L611.7 734.1 L613.3 734 L614.9 733.9 L616.5 734.3 L616.5 734.3 L614.9 735 L613.3 735.4 L611.7 735.7 L610.2 735.9 L608.6 736.2 L607 736.4 L605.4 736.6 L603.8 736.8 L602.2 736.9 L600.7 737.1 L599.1 737.2 L597.5 737.4 L595.9 737.5 L594.3 737.6 L592.7 737.7 L591.1 737.7 L589.6 737.8 L588 737.8 L586.4 737.9 L584.8 737.9 L583.2 737.9 L581.6 737.9 L580 737.9 L578.5 737.9 L576.9 737.9 L575.3 737.8 L573.7 737.7 L572.1 737.6 L570.5 737.4 L569 736.7Z" fill="#0000ff" fill-opacity="0.9"/>
<path d="M455.2 744.8 L456.7 744.6 L458.3 744.8 L459.9 744.9 L461.4 745.1 L463 745.2 L464.5 745.4 L466.1 745.6 L467.7 745.8 L469.2 746 L470.8 746.2 L472.3 746.4 L473.9 746.6 L475.5 746.9 L477 747.1 L478.6 747.4 L480.1 747.6 L481.7 747.8 L483.3 748.1 L484.8 748.3 L486.4 748.5 L487.9 748.7 L489.5 748.8 L491.1 748.9 L492.6 749.1 L494.2 749.2 L495.7 749.3 L497.3 749.4 L498.9 749.4 L500.4 749.5 L502 749.6 L503.5 749.7 L505.1 749.8 L506.6 749.9 L508.2 750 L509.8 750.1 L511.3 750.3 L512.9 750.4 L514.4 750.6 L516 750.7 L517.6 750.9 L519.1 751.1 L520.7 751.3 L522.2 751.5 L523.8 751.7 L525.4 751.8 L526.9 752 L528.5 752.2 L530 752.3 L531.6 752.8 L531.6 752.8 L530 753.1 L528.5 753.1 L526.9 753 L525.4 752.9 L523.8 752.8 L522.2 752.7 L520.7 752.6 L519.1 752.4 L517.6 752.3 L516 752.2 L514.4 752 L512.9 751.9 L511.3 751.8 L509.8 751.6 L508.2 751.6 L506.6 751.5 L505.1 751.4 L503.5 751.3 L502 751.2 L500.4 751.2 L498.9 751.1 L497.3 751 L495.7 750.9 L494.2 750.8 L492.6 750.7 L491.1 750.6 L489.5 750.5 L487.9 750.3 L486.4 750.1 L484.8 749.9 L483.3 749.7 L481.7 749.4 L480.1 749.2 L478.6 748.9 L477 748.6 L475.5 748.4 L473.9 748.1 L472.3 747.8 L470.8 747.6 L469.2 747.4 L467.7 747.1 L466.1 746.9 L464.5 746.7 L463 746.4 L461.4 746.2 L459.9 745.9 L458.3 745.6 L456.7 745.4 L455.2 744.8Z" fill="#ff0000" fill-opacity="0.9"/>
<path d="M494.2 754.2 L495.3 752.8 L496.4 752.5 L497.4 752.4 L498.5 752.3 L499.6 752.4 L500.6 752.6 L501.7 752.9 L502.7 754.3 L502.7 754.3 L501.7 755.8 L500.6 756 L499.6 756.2 L498.5 756.2 L497.4 756.1 L496.4 756 L495.3 755.6 L494.2 754.2Z" fill="#ff0000" fill-opacity="0.9"/>
<path d="M575.7 753.8 L576.6 752.3 L577.4 752 L578.3 751.9 L579.1 751.8 L580 751.9 L580.8 752 L581.7 752.3 L582.5 753.8 L582.5 753.8 L581.7 755.2 L580.8 755.5 L580 755.6 L579.1 755.7 L578.3 755.6 L577.4 755.5 L576.6 755.2 L575.7 753.8Z" fill="#0000ff" fill-opacity="0.9"/>
<path d="M514.6 759.4 L516.2 758.6 L517.7 758.6 L519.3 758.7 L520.8 758.9 L522.3 759.1 L523.9 759.3 L525.4 759.5 L527 759.7 L528.5 759.9 L530.1 760 L531.6 760.1 L533.1 760.1 L534.7 760.1 L536.2 760 L537.8 760 L539.3 760 L540.9 760 L542.4 759.9 L543.9 759.9 L545.5 759.9 L547 759.9 L548.6 759.8 L550.1 759.8 L551.7 759.7 L553.2 759.6 L554.8 759.5 L556.3 759.4 L557.8 759.2 L559.4 759.1 L560.9 759 L562.5 758.8 L564 758.7 L565.6 758.5 L567.1 758.4 L568.6 758.2 L570.2 758.1 L571.7 757.9 L573.3 757.8 L574.8 757.7 L576.4 757.5 L577.9 757.4 L579.5 757.2 L581 757 L582.5 757.7 L582.5 757.7 L581 759.3 L579.5 759.9 L577.9 760.5 L576.4 760.9 L574.8 761.3 L573.3 761.6 L571.7 761.9 L570.2 762.2 L568.6 762.4 L567.1 762.7 L565.6 763 L564 763.2 L562.5 763.4 L560.9 763.7 L559.4 763.9 L557.8 764.1 L556.3 764.2 L554.8 764.4 L553.2 764.5 L551.7 764.6 L550.1 764.7 L548.6 764.8 L547 764.8 L545.5 764.8 L543.9 764.8 L542.4 764.8 L540.9 764.8 L539.3 764.8 L537.8 764.8 L536.2 764.7 L534.7 764.7 L533.1 764.6 L531.6 764.5 L530.1 764.4 L528.5 764.1 L527 763.8 L525.4 763.5 L523.9 763.1 L522.3 762.7 L520.8 762.3 L519.3 761.8 L517.7 761.4 L516.2 760.8 L514.6 759.4Z" fill="#0000ff" fill-opacity="0.9"/>
<path d="M514.6 763.7 L516.2 763.3 L517.7 763.3 L519.3 763.3 L520.8 763.3 L522.3 763.4 L523.9 763.4 L525.4 763.5 L527 763.5 L528.5 763.6 L530.1 763.6 L531.6 763.6 L533.1 763.6 L534.7 763.6 L536.2 763.6 L537.8 763.6 L539.3 763.6 L540.9 763.6 L542.4 763.5 L543.9 763.5 L545.5 763.5 L547 763.5 L548.6 763.4 L550.1 763.3 L551.7 763.2 L553.2 763.1 L554.8 762.9 L556.3 762.7 L557.8 762.5 L559.4 762.4 L560.9 762.2 L562.5 762 L564 761.8 L565.6 761.7 L567.1 761.5 L568.6 761.4 L570.2 761.3 L571.7 761.2 L573.3 761.2 L574.8 761.2 L576.4 761.3 L577.9 761.3 L579.5 761.4 L581 761.5 L582.5 762 L582.5 762 L581 762.5 L579.5 762.6 L577.9 762.7 L576.4 762.8 L574.8 762.8 L573.3 762.9 L571.7 763 L570.2 763.1 L568.6 763.3 L567.1 763.5 L565.6 763.6 L564 763.8 L562.5 764 L560.9 764.3 L559.4 764.5 L557.8 764.7 L556.3 764.9 L554.8 765.1 L553.2 765.2 L551.7 765.4 L550.1 765.5 L548.6 765.6 L547 765.7 L545.5 765.7 L543.9 765.7 L542.4 765.7 L540.9 765.7 L539.3 765.7 L537.8 765.7 L536.2 765.7 L534.7 765.7 L533.1 765.6 L531.6 765.6 L530.1 765.5 L528.5 765.5 L527 765.4 L525.4 765.3 L523.9 765.1 L522.3 765 L520.8 764.8 L519.3 764.7 L517.7 764.5 L516.2 764.3 L514.6 763.7Z" fill="#ff0000" fill-opacity="0.9"/>
<path d="M450.1 768.2 L450.7 766.7 L451.4 766.4 L452 766.3 L452.6 766.2 L453.3 766.2 L453.9 766.4 L454.6 766.7 L455.2 768.1 L455.2 768.1 L454.6 769.5 L453.9 769.9 L453.3 770 L452.6 770.1 L452 770 L451.4 769.9 L450.7 769.6 L450.1 768.2Z" fill="#0000ff" fill-opacity="0.9"/>
<path d="M604.6 768.4 L605.5 766.9 L606.3 766.7 L607.2 766.5 L608 766.5 L608.9 766.5 L609.7 766.7 L610.6 767 L611.4 768.5 L611.4 768.5 L610.6 769.9 L609.7 770.2 L608.9 770.3 L608 770.3 L607.2 770.3 L606.3 770.1 L605.5 769.8 L604.6 768.4Z" fill="#0000ff" fill-opacity="0.9"/>
<path d="M467.1 775.1 L467.7 774.1 L468.3 774.2 L469 774.3 L469.6 774.6 L470.3 775 L470.9 775.5 L471.5 776 L472.2 777.6 L472.2 777.6 L471.5 778.5 L470.9 778.4 L470.3 778.2 L469.6 777.9 L469 777.6 L468.3 777.1 L467.7 776.6 L467.1 775.1Z" fill="#ff0000" fill-opacity="0.9"/>
<path d="M484.1 782.8 L484.9 781.8 L485.8 781.9 L486.6 782 L487.5 782.2 L488.3 782.5 L489.1 782.9 L490 783.4 L490.8 784.9 L490.8 784.9 L490 785.9 L489.1 785.9 L488.3 785.8 L487.5 785.5 L486.6 785.2 L485.8 784.8 L484.9 784.3 L484.1 782.8Z" fill="#ff0000" fill-opacity="0.9"/>
<path d="M540.1 783.1 L540.7 781.6 L541.4 781.3 L542 781.1 L542.6 781 L543.3 781 L543.9 781.2 L544.5 781.4 L545.2 782.9 L545.2 782.9 L544.5 784.3 L543.9 784.6 L543.3 784.8 L542.6 784.9 L542 784.9 L541.4 784.8 L540.7 784.5 L540.1 783.1Z" fill="#0000ff" fill-opacity="0.9"/>
<path d="M548.6 783 L550.3 781.6 L552 781.5 L553.7 781.5 L555.4 781.6 L557.1 781.7 L558.8 781.9 L560.5 782.2 L562.2 782.5 L563.9 782.9 L565.6 784.5 L565.6 784.5 L563.9 786 L562.2 786.3 L560.5 786.3 L558.8 786.3 L557.1 786.1 L555.4 785.9 L553.7 785.6 L552 785.2 L550.3 784.7 L548.6 783Z" fill="#ff0000" fill-opacity="0.9"/>
<path d="M565.6 784.5 L566.2 783.1 L566.8 782.8 L567.5 782.6 L568.1 782.6 L568.7 782.6 L569.4 782.8 L570 783.1 L570.7 784.5 L570.7 784.5 L570 785.9 L569.4 786.2 L568.7 786.4 L568.1 786.4 L567.5 786.4 L566.8 786.3 L566.2 786 L565.6 784.5Z" fill="#0000ff" fill-opacity="0.9"/>
<path d="M596.1 776.2 L596.5 775 L597 774.6 L597.4 774.4 L597.8 774.2 L598.2 774.1 L598.7 774 L599.1 774.1 L599.5 774.9 L599.5 774.9 L599.1 776.1 L598.7 776.5 L598.2 776.8 L597.8 776.9 L597.4 777.1 L597 777.1 L596.5 777.1 L596.1 776.2Z" fill="#ff0000" fill-opacity="0.9"/>
<path d="M454.3 843.8 L456 842.4 L457.6 842.1 L459.3 841.9 L460.9 841.8 L462.5 841.7 L464.2 841.7 L465.8 841.6 L467.4 841.7 L469.1 841.7 L470.7 841.8 L472.4 842 L474 842.2 L475.6 842.5 L477.3 843.9 L477.3 843.9 L475.6 845.3 L474 845.6 L472.4 845.8 L470.7 845.9 L469.1 846 L467.4 846 L465.8 846 L464.2 846 L462.5 846 L460.9 845.9 L459.3 845.7 L457.6 845.5 L456 845.2 L454.3 843.8Z" fill="#ff0000" fill-opacity="0.9"/>
<path d="M480.7 843.9 L482.4 842.4 L484.1 842.1 L485.8 841.9 L487.5 841.8 L489.1 841.8 L490.8 841.9 L492.5 842 L494.2 842.2 L495.9 842.6 L497.6 844.1 L497.6 844.1 L495.9 845.6 L494.2 845.9 L492.5 846.1 L490.8 846.2 L489.1 846.2 L487.5 846.1 L485.8 846 L484.1 845.8 L482.4 845.5 L480.7 843.9Z" fill="#0000ff" fill-opacity="0.9"/>
<path d="M509.5 844.3 L510.4 842.7 L511.2 842.4 L512.1 842.3 L512.9 842.4 L513.8 842.5 L514.6 842.8 L515.5 843.2 L516.3 845 L516.3 845 L515.5 846.5 L514.6 846.7 L513.8 846.8 L512.9 846.8 L512.1 846.6 L511.2 846.4 L510.4 846 L509.5 844.3Z" fill="#ff0000" fill-opacity="0.9"/>
<path d="M569 847 L570.5 845.7 L572.1 845.2 L573.6 844.8 L575.2 844.4 L576.8 844.1 L578.3 843.8 L579.9 843.6 L581.5 843.3 L583 843.1 L584.6 842.9 L586.1 842.8 L587.7 842.7 L589.3 842.6 L590.8 842.4 L592.4 842.3 L594 842.3 L595.5 842.2 L597.1 842.2 L598.6 842.2 L600.2 842.2 L601.8 842.3 L603.3 842.4 L604.9 842.5 L606.4 842.8 L608 843.8 L608 843.8 L606.4 844.8 L604.9 845.1 L603.3 845.2 L601.8 845.4 L600.2 845.5 L598.6 845.6 L597.1 845.7 L595.5 845.9 L594 846 L592.4 846.1 L590.8 846.3 L589.3 846.4 L587.7 846.5 L586.1 846.6 L584.6 846.7 L583 846.9 L581.5 847 L579.9 847.1 L578.3 847.3 L576.8 847.4 L575.2 847.5 L573.6 847.7 L572.1 847.7 L570.5 847.8 L569 847Z" fill="#ff0000" fill-opacity="0.9"/>
<path d="M463.7 849.3 L464.5 848.1 L465.4 848.1 L466.2 848.3 L467.1 848.7 L467.9 849.1 L468.8 849.7 L469.6 850.4 L470.5 852.4 L470.5 852.4 L469.6 853.3 L468.8 853.2 L467.9 852.9 L467.1 852.5 L466.2 852.1 L465.4 851.6 L464.5 851 L463.7 849.3Z" fill="#0000ff" fill-opacity="0.9"/>
<path d="M552 852.9 L552.5 851.4 L553 850.8 L553.6 850.4 L554.1 850.1 L554.6 849.9 L555.2 849.7 L555.7 849.7 L556.2 850.7 L556.2 850.7 L555.7 852.2 L555.2 852.7 L554.6 853.1 L554.1 853.4 L553.6 853.6 L553 853.8 L552.5 853.8 L552 852.9Z" fill="#ff0000" fill-opacity="0.9"/>
<path d="M567.3 860.1 L568 858.7 L568.7 858.4 L569.5 858.3 L570.2 858.2 L571 858.3 L571.7 858.3 L572.5 858.6 L573.2 859.9 L573.2 859.9 L572.5 861.4 L571.7 861.8 L571 862 L570.2 862.1 L569.5 862 L568.7 861.9 L568 861.6 L567.3 860.1Z" fill="#0000ff" fill-opacity="0.9"/>
<path d="M582.5 857.2 L583 855.8 L583.4 855.4 L583.8 855.1 L584.2 855 L584.7 854.9 L585.1 854.8 L585.5 855 L585.9 856 L585.9 856 L585.5 857.4 L585.1 857.8 L584.7 858.1 L584.2 858.3 L583.8 858.4 L583.4 858.4 L583 858.3 L582.5 857.2Z" fill="#ff0000" fill-opacity="0.9"/>
</g>
<use href="#bands2" y="673.5"/>
</g>
<rect x="446.7" y="693.5" width="169.8" height="205" fill="none" stroke="#111" stroke-width="0.9"/>
<path d="M443.5 693.5H446.7 M443.5 734.5H446.7 M443.5 775.5H446.7 M443.5 816.5H446.7 M443.5 857.5H446.7 M443.5 898.5H446.7 M446.7 898.5V901.5 M508.9 898.5V901.5 M544.7 898.5V901.5 M616.5 898.5V901.5" stroke="#111" stroke-width="0.9" fill="none"/>
<text x="452.3" y="710.1" font-size="14.8">(l)</text>
<text x="45.2" y="25.8" font-size="15.7" text-anchor="end">1</text>
<text x="45.2" y="66.8" font-size="15.7" text-anchor="end">0</text>
<text x="45.2" y="107.8" font-size="15.7" text-anchor="end">1</text>
<rect x="24.4" y="102.2" width="9.6" height="1.3" fill="#1a1a1a"/>
<text x="45.2" y="148.8" font-size="15.7" text-anchor="end">2</text>
<rect x="24.4" y="143.2" width="9.6" height="1.3" fill="#1a1a1a"/>
<text x="45.2" y="189.8" font-size="15.7" text-anchor="end">3</text>
<rect x="24.4" y="184.2" width="9.6" height="1.3" fill="#1a1a1a"/>
<text x="45.2" y="230.8" font-size="15.7" text-anchor="end">4</text>
<rect x="24.4" y="225.2" width="9.6" height="1.3" fill="#1a1a1a"/>
<text x="45.2" y="250.2" font-size="15.7" text-anchor="end">1</text>
<text x="45.2" y="291.2" font-size="15.7" text-anchor="end">0</text>
<text x="45.2" y="332.2" font-size="15.7" text-anchor="end">1</text>
<rect x="24.4" y="326.8" width="9.6" height="1.3" fill="#1a1a1a"/>
<text x="45.2" y="373.2" font-size="15.7" text-anchor="end">2</text>
<rect x="24.4" y="367.8" width="9.6" height="1.3" fill="#1a1a1a"/>
<text x="45.2" y="414.2" font-size="15.7" text-anchor="end">3</text>
<rect x="24.4" y="408.8" width="9.6" height="1.3" fill="#1a1a1a"/>
<text x="45.2" y="455.2" font-size="15.7" text-anchor="end">4</text>
<rect x="24.4" y="449.8" width="9.6" height="1.3" fill="#1a1a1a"/>
<text x="45.2" y="474.8" font-size="15.7" text-anchor="end">1</text>
<text x="45.2" y="515.8" font-size="15.7" text-anchor="end">0</text>
<text x="45.2" y="556.8" font-size="15.7" text-anchor="end">1</text>
<rect x="24.4" y="551.2" width="9.6" height="1.3" fill="#1a1a1a"/>
<text x="45.2" y="597.8" font-size="15.7" text-anchor="end">2</text>
<rect x="24.4" y="592.2" width="9.6" height="1.3" fill="#1a1a1a"/>
<text x="45.2" y="638.8" font-size="15.7" text-anchor="end">3</text>
<rect x="24.4" y="633.2" width="9.6" height="1.3" fill="#1a1a1a"/>
<text x="45.2" y="679.8" font-size="15.7" text-anchor="end">4</text>
<rect x="24.4" y="674.2" width="9.6" height="1.3" fill="#1a1a1a"/>
<text x="45.2" y="699.2" font-size="15.7" text-anchor="end">1</text>
<text x="45.2" y="740.2" font-size="15.7" text-anchor="end">0</text>
<text x="45.2" y="781.2" font-size="15.7" text-anchor="end">1</text>
<rect x="24.4" y="775.8" width="9.6" height="1.3" fill="#1a1a1a"/>
<text x="45.2" y="822.2" font-size="15.7" text-anchor="end">2</text>
<rect x="24.4" y="816.8" width="9.6" height="1.3" fill="#1a1a1a"/>
<text x="45.2" y="863.2" font-size="15.7" text-anchor="end">3</text>
<rect x="24.4" y="857.8" width="9.6" height="1.3" fill="#1a1a1a"/>
<text x="45.2" y="904.2" font-size="15.7" text-anchor="end">4</text>
<rect x="24.4" y="898.8" width="9.6" height="1.3" fill="#1a1a1a"/>
<text x="143.5" y="15" font-size="18.5" text-anchor="middle">EuSP</text>
<text x="341.1" y="15" font-size="18.5" text-anchor="middle">EuSSe</text>
<text x="531.6" y="15" font-size="18.5" text-anchor="middle">EuSCl</text>
<text x="51.5" y="914.5" font-size="15.4" text-anchor="middle">Γ</text>
<text x="118.8" y="914.5" font-size="15.4" text-anchor="middle" font-style="italic">M</text>
<text x="157.7" y="914.5" font-size="15.4" text-anchor="middle" font-style="italic">K</text>
<text x="235.5" y="914.5" font-size="15.4" text-anchor="middle">Γ</text>
<text x="249" y="914.5" font-size="15.4" text-anchor="middle">Γ</text>
<text x="316.5" y="914.5" font-size="15.4" text-anchor="middle" font-style="italic">M</text>
<text x="355.4" y="914.5" font-size="15.4" text-anchor="middle" font-style="italic">K</text>
<text x="433.3" y="914.5" font-size="15.4" text-anchor="middle">Γ</text>
<text x="446.7" y="914.5" font-size="15.4" text-anchor="middle">Γ</text>
<text x="508.9" y="914.5" font-size="15.4" text-anchor="middle" font-style="italic">M</text>
<text x="544.7" y="914.5" font-size="15.4" text-anchor="middle" font-style="italic">K</text>
<text x="616.5" y="914.5" font-size="15.4" text-anchor="middle">Γ</text>
<text transform="translate(13.7 122.5) rotate(-90)" font-size="18.7" text-anchor="middle" textLength="119" lengthAdjust="spacingAndGlyphs"><tspan font-style="italic">E</tspan><tspan font-size="13" dy="3.5" font-style="italic">n</tspan><tspan font-size="13" font-weight="bold">k</tspan><tspan dy="-3.5"> − </tspan><tspan font-style="italic">E</tspan><tspan font-size="13" dy="3.5">F</tspan><tspan dy="-3.5"> [eV]</tspan></text>
<text transform="translate(13.7 347) rotate(-90)" font-size="18.7" text-anchor="middle" textLength="119" lengthAdjust="spacingAndGlyphs"><tspan font-style="italic">E</tspan><tspan font-size="13" dy="3.5" font-style="italic">n</tspan><tspan font-size="13" font-weight="bold">k</tspan><tspan dy="-3.5"> − </tspan><tspan font-style="italic">E</tspan><tspan font-size="13" dy="3.5">F</tspan><tspan dy="-3.5"> [eV]</tspan></text>
<text transform="translate(13.7 571.5) rotate(-90)" font-size="18.7" text-anchor="middle" textLength="119" lengthAdjust="spacingAndGlyphs"><tspan font-style="italic">E</tspan><tspan font-size="13" dy="3.5" font-style="italic">n</tspan><tspan font-size="13" font-weight="bold">k</tspan><tspan dy="-3.5"> − </tspan><tspan font-style="italic">E</tspan><tspan font-size="13" dy="3.5">F</tspan><tspan dy="-3.5"> [eV]</tspan></text>
<text transform="translate(13.7 796) rotate(-90)" font-size="18.7" text-anchor="middle" textLength="119" lengthAdjust="spacingAndGlyphs"><tspan font-style="italic">E</tspan><tspan font-size="13" dy="3.5" font-style="italic">n</tspan><tspan font-size="13" font-weight="bold">k</tspan><tspan dy="-3.5"> − </tspan><tspan font-style="italic">E</tspan><tspan font-size="13" dy="3.5">F</tspan><tspan dy="-3.5"> [eV]</tspan></text>
<rect x="622.0" y="20" width="9.0" height="205" fill="url(#cb)" stroke="#222" stroke-width="0.5"/>
<text x="637.6" y="24.1" font-size="11.1">3</text>
<text x="637.6" y="58.2" font-size="11.1">2</text>
<text x="637.6" y="92.4" font-size="11.1">1</text>
<text x="637.6" y="126.5" font-size="11.1">0</text>
<rect x="637.6" y="156.2" width="7.2" height="1" fill="#1a1a1a"/>
<text x="646.3" y="160.7" font-size="11.1">1</text>
<rect x="637.6" y="190.3" width="7.2" height="1" fill="#1a1a1a"/>
<text x="646.3" y="194.9" font-size="11.1">2</text>
<rect x="637.6" y="224.5" width="7.2" height="1" fill="#1a1a1a"/>
<text x="646.3" y="229.1" font-size="11.1">3</text>
<path d="M631.0 20H634.0 M631.0 54.2H634.0 M631.0 88.3H634.0 M631.0 122.5H634.0 M631.0 156.7H634.0 M631.0 190.8H634.0 M631.0 225H634.0" stroke="#222" stroke-width="0.8"/>
<rect x="622.0" y="244.5" width="9.0" height="205" fill="url(#cb)" stroke="#222" stroke-width="0.5"/>
<text x="637.6" y="248.6" font-size="11.1">30</text>
<text x="637.6" y="282.7" font-size="11.1">20</text>
<text x="637.6" y="316.9" font-size="11.1">10</text>
<text x="637.6" y="351.1" font-size="11.1">0</text>
<rect x="637.6" y="380.7" width="7.2" height="1" fill="#1a1a1a"/>
<text x="646.3" y="385.2" font-size="11.1">10</text>
<rect x="637.6" y="414.8" width="7.2" height="1" fill="#1a1a1a"/>
<text x="646.3" y="419.4" font-size="11.1">20</text>
<rect x="637.6" y="449" width="7.2" height="1" fill="#1a1a1a"/>
<text x="646.3" y="453.6" font-size="11.1">30</text>
<path d="M631.0 244.5H634.0 M631.0 278.7H634.0 M631.0 312.8H634.0 M631.0 347H634.0 M631.0 381.2H634.0 M631.0 415.3H634.0 M631.0 449.5H634.0" stroke="#222" stroke-width="0.8"/>
<rect x="622.0" y="469" width="9.0" height="205" fill="url(#cb)" stroke="#222" stroke-width="0.5"/>
<text x="637.6" y="473.1" font-size="11.1">3</text>
<text x="637.6" y="507.2" font-size="11.1">2</text>
<text x="637.6" y="541.4" font-size="11.1">1</text>
<text x="637.6" y="575.5" font-size="11.1">0</text>
<rect x="637.6" y="605.2" width="7.2" height="1" fill="#1a1a1a"/>
<text x="646.3" y="609.7" font-size="11.1">1</text>
<rect x="637.6" y="639.3" width="7.2" height="1" fill="#1a1a1a"/>
<text x="646.3" y="643.9" font-size="11.1">2</text>
<rect x="637.6" y="673.5" width="7.2" height="1" fill="#1a1a1a"/>
<text x="646.3" y="678" font-size="11.1">3</text>
<path d="M631.0 469H634.0 M631.0 503.2H634.0 M631.0 537.3H634.0 M631.0 571.5H634.0 M631.0 605.7H634.0 M631.0 639.8H634.0 M631.0 674H634.0" stroke="#222" stroke-width="0.8"/>
<rect x="622.0" y="693.5" width="9.0" height="205" fill="url(#cb)" stroke="#222" stroke-width="0.5"/>
<text x="637.6" y="697.5" font-size="11.1">3</text>
<text x="637.6" y="731.7" font-size="11.1">2</text>
<text x="637.6" y="765.9" font-size="11.1">1</text>
<text x="637.6" y="800" font-size="11.1">0</text>
<rect x="637.6" y="829.7" width="7.2" height="1" fill="#1a1a1a"/>
<text x="646.3" y="834.2" font-size="11.1">1</text>
<rect x="637.6" y="863.8" width="7.2" height="1" fill="#1a1a1a"/>
<text x="646.3" y="868.4" font-size="11.1">2</text>
<rect x="637.6" y="898" width="7.2" height="1" fill="#1a1a1a"/>
<text x="646.3" y="902.5" font-size="11.1">3</text>
<path d="M631.0 693.5H634.0 M631.0 727.7H634.0 M631.0 761.8H634.0 M631.0 796H634.0 M631.0 830.2H634.0 M631.0 864.3H634.0 M631.0 898.5H634.0" stroke="#222" stroke-width="0.8"/>
<text transform="translate(673.2 122.5) rotate(-90)" font-size="18.5" text-anchor="middle" textLength="121" lengthAdjust="spacingAndGlyphs">⟨<tspan font-style="italic">T</tspan><tspan font-size="13" dy="-7">S</tspan><tspan font-size="13" dx="-7" dy="11" font-style="italic">XC</tspan><tspan dy="-4">⟩/</tspan><tspan font-style="italic">ε</tspan><tspan font-size="13" dy="3.5" font-style="italic">x</tspan><tspan dy="-3.5"> [e</tspan><tspan font-style="italic">Å</tspan>]</text>
<text transform="translate(681.5 347) rotate(-90)" font-size="18.5" text-anchor="middle" textLength="150" lengthAdjust="spacingAndGlyphs">⟨<tspan font-style="italic">L</tspan><tspan font-size="13" dy="3.5" font-style="italic">x</tspan><tspan dy="-3.5">⟩/</tspan><tspan font-style="italic">ε</tspan><tspan font-size="13" dy="3.5" font-style="italic">x</tspan><tspan dy="-3.5"> [</tspan><tspan font-style="italic">ħ</tspan>/(<tspan font-style="italic">V</tspan>/<tspan font-style="italic">Å</tspan>)]</text>
<text transform="translate(673.5 571.5) rotate(-90)" font-size="18.5" text-anchor="middle" textLength="83" lengthAdjust="spacingAndGlyphs"><tspan font-style="italic">t</tspan><tspan font-size="11" dx="1.5" dy="-8.5" font-style="italic">L</tspan><tspan font-size="8" dy="2" font-style="italic">y</tspan><tspan font-size="13" dx="-11" dy="12" font-style="italic">xy</tspan><tspan dy="-5.5"> [e</tspan><tspan font-style="italic">ħÅ</tspan>]</text>
<text transform="translate(673.5 796) rotate(-90)" font-size="18.5" text-anchor="middle" textLength="83" lengthAdjust="spacingAndGlyphs"><tspan font-style="italic">t</tspan><tspan font-size="11" dx="1.5" dy="-8.5" font-style="italic">L</tspan><tspan font-size="8" dy="2" font-style="italic">z</tspan><tspan font-size="13" dx="-11" dy="12" font-style="italic">xy</tspan><tspan dy="-5.5"> [e</tspan><tspan font-style="italic">ħÅ</tspan>]</text>
</svg>
</body></html>
